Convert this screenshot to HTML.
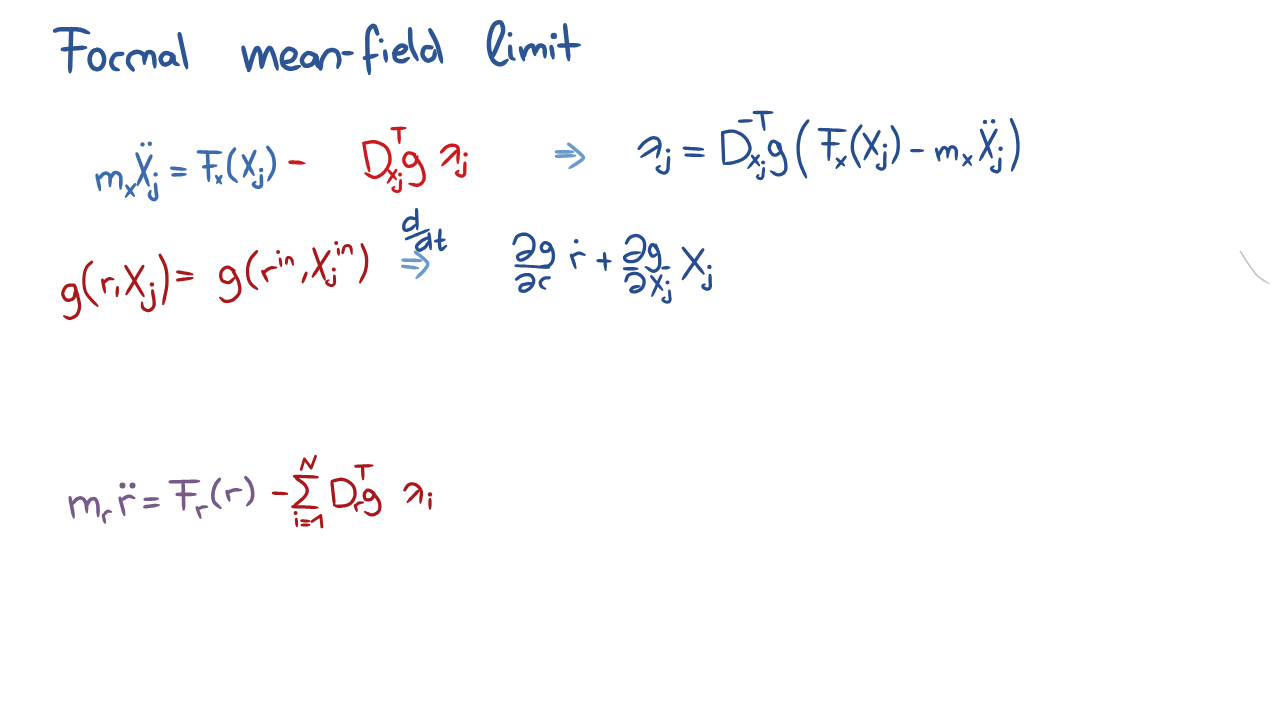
<!DOCTYPE html>
<html><head><meta charset="utf-8"><title>Formal mean-field limit</title>
<style>html,body{margin:0;padding:0;background:#fff;width:1280px;height:720px;overflow:hidden;font-family:"Liberation Sans",sans-serif;}
svg{position:absolute;left:0;top:0;display:block}</style></head>
<body><svg width="1280" height="720" viewBox="0 0 1280 720">
<g fill="#2d5593" stroke="none"><path d="M55.4,32.7 56.6,32.4 57.7,32.1 58.6,31.8 59.6,31.6 60.6,31.5 61.6,31.4 62.8,31.4 63.9,31.4 65.0,31.4 66.2,31.4 67.4,31.4 68.5,31.4 69.7,31.4 70.9,31.4 72.0,31.4 73.2,31.4 74.3,31.4 75.4,31.5 76.5,31.6 77.6,31.7 78.7,31.8 79.7,32.0 80.8,32.2 81.8,32.6 82.8,32.9 83.8,33.3 84.9,33.7 86.1,33.9 87.3,34.1 88.5,34.3 A1.35,1.35 0 0 0 89.5,31.7 L 88.5,31.1 87.5,30.4 86.6,29.7 85.5,29.2 84.4,28.7 83.2,28.3 81.9,27.9 80.7,27.6 79.4,27.4 78.2,27.2 76.9,27.1 75.7,27.0 74.5,26.9 73.3,26.9 72.1,26.9 70.9,26.9 69.7,26.9 68.5,26.9 67.4,26.9 66.2,26.9 65.0,26.9 63.8,26.9 62.6,26.9 61.4,26.9 60.1,27.0 58.8,27.2 57.5,27.5 56.2,27.9 55.1,28.5 54.1,29.1 A1.91,1.91 0 0 0 55.4,32.7 Z"/><path d="M69.3,28.7 69.1,29.9 68.9,31.1 68.9,32.2 68.9,33.4 68.8,34.6 68.8,35.8 68.8,37.0 68.7,38.1 68.7,39.3 68.7,40.5 68.6,41.7 68.6,42.9 68.6,44.1 68.5,45.2 68.5,46.4 68.5,47.6 68.4,48.8 68.4,50.0 68.4,51.2 68.3,52.3 68.3,53.5 68.3,54.7 68.2,55.9 68.2,57.1 68.2,58.2 68.1,59.4 68.1,60.6 68.1,61.8 68.0,63.0 68.0,64.2 68.0,65.3 67.9,66.5 67.9,67.7 68.0,68.9 68.2,70.1 68.4,71.3 68.7,72.5 A1.35,1.35 0 0 0 71.3,72.5 L 71.7,71.4 72.0,70.2 72.3,69.0 72.4,67.8 72.4,66.7 72.5,65.5 72.5,64.3 72.5,63.1 72.6,61.9 72.6,60.7 72.6,59.6 72.7,58.4 72.7,57.2 72.7,56.0 72.8,54.8 72.8,53.6 72.8,52.5 72.9,51.3 72.9,50.1 72.9,48.9 73.0,47.7 73.0,46.5 73.0,45.4 73.1,44.2 73.1,43.0 73.1,41.8 73.2,40.6 73.2,39.5 73.2,38.3 73.3,37.1 73.3,35.9 73.3,34.7 73.4,33.5 73.4,32.4 73.4,31.2 73.3,30.0 73.2,28.8 A1.91,1.91 0 0 0 69.3,28.7 Z"/><path d="M62.7,51.3 63.9,51.4 65.1,51.4 66.2,51.3 67.4,51.2 68.6,51.1 69.8,51.1 71.0,51.0 72.2,50.9 73.4,50.8 74.6,50.7 75.7,50.6 76.9,50.5 78.1,50.4 79.3,50.3 80.5,50.2 81.7,50.1 82.9,49.9 84.0,49.6 85.2,49.2 86.4,48.8 A1.35,1.35 0 0 0 86.1,46.2 L 84.9,46.0 83.7,45.8 82.5,45.6 81.3,45.6 80.1,45.7 78.9,45.8 77.8,45.9 76.6,46.0 75.4,46.1 74.2,46.2 73.0,46.3 71.8,46.4 70.6,46.5 69.4,46.6 68.3,46.7 67.1,46.8 65.9,46.9 64.7,46.9 63.5,47.2 62.3,47.5 A1.91,1.91 0 0 0 62.7,51.3 Z"/><path d="M96.4,47.9 95.2,48.0 93.8,48.2 92.3,48.9 91.0,50.0 90.0,51.2 89.2,52.5 88.6,53.7 88.1,55.1 87.7,56.5 87.5,57.8 87.4,59.3 87.4,60.7 87.6,62.1 87.9,63.4 88.4,64.8 89.0,66.1 89.7,67.4 90.6,68.6 91.7,69.7 93.1,70.6 94.6,71.1 96.2,71.5 97.9,71.4 99.5,71.0 101.0,70.4 102.3,69.4 103.4,68.3 104.3,67.0 105.0,65.8 105.5,64.5 105.9,63.1 106.2,61.7 106.3,60.3 106.4,58.9 106.2,57.5 106.0,56.1 105.6,54.7 105.0,53.4 104.4,52.1 103.6,50.9 102.5,49.8 101.2,48.8 99.8,48.1 98.2,47.6 96.4,47.6 94.8,48.3 93.7,49.0 92.7,49.8 A1.35,1.35 0 0 0 93.8,52.2 L 95.0,52.0 96.1,51.8 96.8,51.9 97.4,52.1 98.2,52.3 98.9,52.6 99.5,53.1 100.0,53.7 100.5,54.5 101.0,55.3 101.3,56.2 101.6,57.1 101.8,58.1 101.9,59.1 101.9,60.1 101.8,61.0 101.6,62.0 101.3,62.9 100.9,63.8 100.4,64.7 99.9,65.4 99.4,66.0 98.8,66.5 98.0,66.8 97.3,67.0 96.6,67.0 95.9,66.8 95.2,66.5 94.5,66.1 94.0,65.6 93.4,64.9 93.0,64.0 92.6,63.2 92.3,62.2 92.0,61.3 91.9,60.3 91.9,59.3 91.9,58.4 92.1,57.4 92.4,56.4 92.7,55.5 93.1,54.7 93.6,53.9 94.2,53.2 94.7,52.8 95.3,52.5 96.3,52.1 97.4,51.6 A1.91,1.91 0 0 0 96.4,47.9 Z"/><path d="M122.3,51.8 121.2,51.8 120.1,51.7 118.9,51.7 117.6,51.8 116.1,52.1 114.6,52.6 113.2,53.6 112.1,54.7 111.3,55.9 110.6,57.1 110.0,58.3 109.5,59.6 109.2,61.0 109.0,62.5 109.1,64.1 109.5,65.6 110.1,66.9 110.9,68.2 111.8,69.4 113.1,70.5 114.6,71.0 116.0,71.2 117.2,71.2 118.4,71.3 A1.35,1.35 0 0 0 119.1,68.7 L 118.1,68.1 117.0,67.6 116.1,67.0 115.5,66.7 115.1,66.2 114.6,65.6 114.1,64.9 113.8,64.1 113.6,63.3 113.5,62.6 113.6,61.8 113.8,60.9 114.2,60.0 114.6,59.1 115.0,58.3 115.6,57.6 116.1,57.0 116.6,56.7 117.2,56.4 118.1,56.3 119.1,56.2 120.3,56.2 121.5,56.0 122.7,55.7 A1.91,1.91 0 0 0 122.3,51.8 Z"/><path d="M134.7,68.9 134.1,67.8 133.4,66.7 132.7,65.8 131.9,64.9 131.3,64.1 130.8,63.3 130.5,62.6 130.3,61.8 130.3,61.0 130.3,60.0 130.5,59.1 130.8,58.2 131.1,57.4 131.5,56.7 132.0,56.1 132.7,55.6 133.5,55.2 134.4,54.8 135.3,54.5 136.2,54.2 137.1,54.1 137.9,54.2 138.7,54.3 139.6,54.6 140.4,55.0 141.1,55.5 141.7,56.0 142.0,56.5 142.1,57.1 142.2,58.0 142.2,59.0 142.3,60.1 142.5,61.3 142.7,62.6 143.0,63.8 A1.35,1.35 0 0 0 145.7,63.7 L 146.0,62.6 146.3,61.5 146.6,60.3 146.7,59.1 146.7,57.7 146.6,56.2 146.1,54.6 145.1,53.1 143.9,52.0 142.6,51.1 141.3,50.5 139.9,50.0 138.5,49.7 136.9,49.6 135.4,49.8 134.0,50.1 132.7,50.6 131.5,51.2 130.2,51.9 129.0,52.8 127.9,54.0 127.1,55.3 126.5,56.7 126.1,58.1 125.9,59.5 125.8,60.9 125.8,62.4 126.2,64.0 126.8,65.4 127.6,66.6 128.4,67.7 129.2,68.6 129.9,69.5 130.8,70.3 131.6,71.1 A1.91,1.91 0 0 0 134.7,68.9 Z"/><path d="M146.2,60.6 146.8,59.6 147.3,58.4 147.6,57.2 147.9,56.2 148.2,55.3 148.5,54.6 148.7,54.4 149.0,54.3 149.7,54.3 150.3,54.4 150.8,54.6 151.0,54.9 151.3,55.4 151.5,56.3 151.7,57.3 151.9,58.4 152.0,59.5 152.1,60.6 152.2,61.8 152.3,63.0 152.5,64.2 152.8,65.3 153.2,66.5 153.7,67.7 A1.35,1.35 0 0 0 156.3,67.3 L 156.4,66.1 156.6,65.0 156.7,63.8 156.7,62.6 156.7,61.5 156.6,60.3 156.5,59.1 156.3,57.8 156.2,56.6 155.9,55.3 155.5,53.8 154.7,52.3 153.3,50.9 151.6,50.1 150.0,49.8 148.2,49.9 146.3,50.6 144.9,52.0 144.1,53.5 143.6,54.8 143.3,56.0 143.0,57.1 142.8,58.2 142.6,59.4 A1.91,1.91 0 0 0 146.2,60.6 Z"/><path d="M173.6,53.2 172.6,52.7 171.7,52.2 170.6,51.8 169.4,51.4 168.1,51.0 166.5,50.7 164.7,50.9 163.0,51.6 161.8,52.6 160.7,53.6 159.9,54.8 159.1,56.1 158.5,57.6 158.4,59.4 158.7,61.1 159.3,62.5 160.0,63.8 161.0,65.0 162.4,66.2 164.4,66.8 166.1,66.7 167.6,66.3 168.9,65.8 170.2,65.1 171.6,64.1 172.6,62.7 173.3,61.4 173.7,60.1 174.0,58.9 174.4,57.8 174.6,56.9 173.2,57.3 171.3,56.5 171.3,57.3 171.3,58.5 171.4,59.7 171.6,61.1 172.0,62.6 172.9,64.3 174.4,65.4 175.8,65.8 177.0,66.0 178.2,66.2 A1.35,1.35 0 0 0 179.3,63.8 L 178.3,63.0 177.4,62.3 176.7,61.7 176.3,61.3 176.1,61.0 176.0,60.3 175.9,59.3 175.8,58.2 175.8,57.0 175.7,55.5 172.9,52.8 170.4,55.2 170.0,56.6 169.7,57.7 169.4,58.7 169.1,59.7 168.7,60.4 168.4,60.9 167.8,61.3 167.1,61.7 166.2,62.0 165.4,62.2 164.8,62.3 164.5,62.3 164.2,61.9 163.8,61.3 163.3,60.6 163.0,59.8 162.9,59.2 162.9,58.6 163.2,58.0 163.6,57.3 164.2,56.6 164.8,55.9 165.3,55.5 165.8,55.2 166.3,55.2 167.1,55.4 168.0,55.6 169.0,56.0 170.1,56.4 171.4,56.7 172.6,56.8 A1.91,1.91 0 0 0 173.6,53.2 Z"/><path d="M177.5,34.2 177.6,35.3 177.7,36.5 177.9,37.7 178.2,38.8 178.4,40.0 178.6,41.1 178.9,42.2 179.1,43.4 179.4,44.5 179.6,45.7 179.9,46.8 180.1,48.0 180.4,49.1 180.6,50.3 180.9,51.4 181.1,52.6 181.4,53.7 181.6,54.9 181.9,56.0 182.1,57.2 182.4,58.3 182.6,59.5 182.9,60.6 183.1,61.7 183.4,62.9 183.7,64.0 184.0,65.2 184.5,66.2 185.0,67.3 185.6,68.4 A1.35,1.35 0 0 0 188.2,67.8 L 188.2,66.6 188.2,65.4 188.2,64.2 188.0,63.1 187.8,61.9 187.5,60.8 187.3,59.6 187.0,58.5 186.8,57.3 186.5,56.2 186.3,55.0 186.0,53.9 185.8,52.8 185.5,51.6 185.3,50.5 185.0,49.3 184.8,48.2 184.5,47.0 184.3,45.9 184.0,44.7 183.8,43.6 183.5,42.5 183.3,41.3 183.0,40.2 182.8,39.0 182.6,37.9 182.3,36.7 182.1,35.6 181.7,34.5 181.2,33.3 A1.91,1.91 0 0 0 177.5,34.2 Z"/><path d="M241.3,48.0 241.4,49.1 241.5,50.3 241.8,51.5 242.1,52.6 242.3,53.7 242.6,54.9 242.9,56.0 243.2,57.1 243.5,58.3 243.8,59.4 244.0,60.6 244.3,61.7 244.6,62.8 244.9,64.0 245.2,65.1 245.4,66.2 245.8,67.4 246.4,68.4 246.9,69.5 247.4,70.6 A1.35,1.35 0 0 0 250.1,69.9 L 250.0,68.7 250.0,67.5 250.0,66.3 249.8,65.2 249.5,64.0 249.2,62.9 249.0,61.7 248.7,60.6 248.4,59.5 248.1,58.3 247.8,57.2 247.6,56.1 247.3,54.9 247.0,53.8 246.7,52.6 246.4,51.5 246.2,50.4 245.9,49.2 245.5,48.1 245.0,47.0 A1.91,1.91 0 0 0 241.3,48.0 Z"/><path d="M250.6,70.8 251.1,69.7 251.6,68.6 251.9,67.4 252.2,66.3 252.5,65.2 252.8,64.0 253.1,62.9 253.5,61.8 253.8,60.6 254.1,59.5 254.4,58.4 254.8,57.3 255.2,56.3 255.6,55.2 256.0,54.2 256.5,53.1 256.9,52.1 257.4,51.1 257.8,50.2 257.8,50.0 256.9,50.0 256.6,50.1 256.9,50.8 257.3,51.7 257.7,52.7 258.0,53.7 258.2,54.7 258.4,55.8 258.5,56.9 258.6,58.0 258.7,59.2 258.8,60.3 258.9,61.5 258.9,62.7 259.1,63.8 259.4,65.0 259.8,66.2 260.2,67.4 A1.35,1.35 0 0 0 262.8,67.1 L 263.0,65.9 263.2,64.8 263.4,63.6 263.4,62.4 263.4,61.2 263.3,60.0 263.2,58.8 263.1,57.6 263.0,56.4 262.9,55.2 262.7,53.9 262.4,52.6 262.0,51.3 261.5,50.1 261.0,48.9 260.3,47.5 258.5,45.8 255.4,46.2 254.0,47.8 253.3,49.1 252.8,50.2 252.3,51.3 251.9,52.4 251.4,53.6 250.9,54.7 250.5,55.9 250.2,57.1 249.8,58.2 249.5,59.4 249.1,60.5 248.8,61.7 248.5,62.8 248.2,64.0 247.9,65.1 247.6,66.2 247.2,67.4 247.1,68.5 246.9,69.7 A1.91,1.91 0 0 0 250.6,70.8 Z"/><path d="M263.3,67.8 263.9,66.7 264.3,65.6 264.7,64.5 265.0,63.3 265.3,62.2 265.6,61.1 266.0,59.9 266.3,58.8 266.6,57.7 267.0,56.7 267.4,55.6 267.8,54.6 268.2,53.6 268.7,52.6 269.2,51.6 269.8,50.7 270.2,50.1 269.9,50.0 269.1,49.9 269.2,50.3 269.6,51.1 270.1,52.1 270.5,53.2 270.9,54.3 271.3,55.4 271.7,56.4 272.0,57.5 272.4,58.6 272.7,59.7 273.0,60.8 273.3,61.9 273.6,63.1 273.8,64.2 274.1,65.3 274.5,66.5 275.1,67.6 275.6,68.7 276.2,69.7 A1.35,1.35 0 0 0 278.8,69.0 L 278.7,67.8 278.7,66.6 278.7,65.4 278.5,64.3 278.2,63.1 277.9,62.0 277.6,60.8 277.3,59.7 277.0,58.5 276.7,57.3 276.3,56.2 276.0,55.0 275.6,53.8 275.1,52.6 274.7,51.5 274.2,50.4 273.7,49.3 273.1,48.0 271.9,46.4 269.0,45.6 266.9,47.0 266.0,48.3 265.3,49.5 264.7,50.6 264.2,51.7 263.6,52.8 263.1,54.0 262.7,55.2 262.3,56.4 262.0,57.5 261.6,58.7 261.3,59.8 261.0,61.0 260.7,62.1 260.4,63.2 260.0,64.4 259.8,65.5 259.7,66.7 A1.91,1.91 0 0 0 263.3,67.8 Z"/><path d="M284.2,64.4 285.3,64.3 286.4,64.2 287.6,64.0 288.8,63.8 290.1,63.5 291.5,63.1 292.9,62.5 294.2,61.5 295.2,60.3 296.0,59.2 296.7,58.0 297.3,56.7 297.7,55.3 298.0,53.6 297.7,51.7 296.7,50.0 295.5,48.9 294.3,48.1 293.0,47.4 291.6,46.9 290.1,46.5 288.3,46.6 286.5,47.1 285.2,48.0 284.1,48.9 283.1,49.9 282.3,50.9 281.5,52.1 280.8,53.3 280.2,54.7 279.9,56.1 279.7,57.5 279.6,58.8 279.6,60.2 279.7,61.5 280.0,62.9 280.3,64.3 280.9,65.7 281.8,67.0 283.0,68.1 284.2,69.0 285.4,69.7 286.7,70.2 288.1,70.7 289.5,70.9 291.0,71.0 292.5,70.9 293.8,70.6 295.1,70.3 296.3,69.9 297.3,69.4 298.4,68.7 299.3,68.1 300.4,67.5 A1.35,1.35 0 0 0 299.6,65.0 L 298.4,65.0 297.1,65.2 295.9,65.3 294.8,65.6 293.7,66.0 292.7,66.2 291.8,66.5 290.9,66.5 290.1,66.5 289.2,66.3 288.3,66.0 287.4,65.6 286.6,65.2 285.9,64.7 285.3,64.2 284.9,63.6 284.6,62.8 284.4,61.9 284.2,61.0 284.1,59.9 284.1,58.9 284.2,57.9 284.3,57.0 284.5,56.1 284.8,55.3 285.3,54.5 285.8,53.7 286.5,52.9 287.2,52.2 287.9,51.6 288.5,51.2 289.0,51.0 289.5,51.0 290.3,51.2 291.1,51.5 292.0,52.0 292.7,52.5 293.3,52.9 293.5,53.2 293.5,53.6 293.4,54.2 293.1,55.1 292.7,55.9 292.2,56.8 291.7,57.6 291.2,58.2 290.6,58.6 289.9,58.9 289.0,59.2 288.0,59.4 286.8,59.6 285.7,59.8 284.5,60.2 283.3,60.6 A1.91,1.91 0 0 0 284.2,64.4 Z"/><path d="M316.9,53.8 315.9,53.3 314.9,52.7 313.8,52.3 312.7,51.8 311.5,51.3 310.1,50.9 308.4,50.7 306.6,51.1 305.0,51.9 303.8,52.8 302.8,53.8 301.9,54.8 301.1,56.0 300.4,57.2 299.8,58.7 299.6,60.5 299.9,62.2 300.4,63.7 301.2,65.0 302.2,66.2 303.6,67.4 305.4,68.0 307.1,68.1 308.6,67.9 310.0,67.5 311.3,67.0 312.6,66.4 313.9,65.5 315.1,64.2 315.8,62.9 316.4,61.6 316.8,60.5 317.2,59.3 317.5,58.3 316.8,58.5 314.5,57.9 314.5,58.3 314.6,59.4 314.6,60.6 314.7,61.9 314.8,63.1 315.0,64.6 315.5,66.1 316.5,67.4 317.6,68.3 318.7,69.0 319.6,69.7 A1.35,1.35 0 0 0 321.6,67.8 L 321.0,66.8 320.3,65.8 319.9,64.9 319.6,64.2 319.4,63.5 319.3,62.6 319.2,61.5 319.1,60.4 319.1,59.2 319.0,58.0 318.7,56.1 315.1,54.3 313.4,56.6 312.9,57.8 312.6,58.9 312.2,60.0 311.8,60.9 311.4,61.6 311.0,62.1 310.3,62.5 309.5,62.9 308.6,63.2 307.7,63.5 306.8,63.6 306.2,63.6 305.8,63.5 305.4,63.1 304.9,62.5 304.5,61.8 304.2,61.0 304.1,60.4 304.2,59.9 304.5,59.2 304.9,58.4 305.5,57.6 306.1,56.8 306.8,56.2 307.5,55.6 308.0,55.3 308.5,55.2 309.2,55.3 310.1,55.6 311.0,55.9 312.1,56.4 313.2,56.9 314.4,57.2 315.6,57.4 A1.91,1.91 0 0 0 316.9,53.8 Z"/><path d="M322.5,69.0 322.9,67.8 323.1,66.6 323.2,65.4 323.2,64.3 323.4,63.2 323.5,62.2 323.8,61.3 324.1,60.4 324.6,59.4 325.1,58.4 325.6,57.5 326.2,56.6 326.8,55.7 327.4,54.8 328.0,54.1 328.7,53.4 329.3,52.9 330.0,52.6 330.7,52.4 331.6,52.3 332.5,52.3 333.3,52.4 334.1,52.6 334.7,52.9 335.2,53.3 335.6,53.9 336.0,54.7 336.3,55.7 336.6,56.6 336.8,57.7 337.0,58.7 337.1,59.7 337.1,60.6 337.0,61.5 336.8,62.4 336.6,63.5 336.4,64.6 336.3,65.9 336.2,67.1 A1.35,1.35 0 0 0 338.8,67.9 L 339.4,66.9 340.0,65.9 340.6,64.8 341.1,63.6 341.4,62.3 341.6,60.8 341.6,59.4 341.4,58.1 341.2,56.8 340.9,55.5 340.6,54.2 340.1,53.0 339.5,51.7 338.5,50.3 337.2,49.2 335.7,48.4 334.3,48.0 332.8,47.8 331.4,47.8 329.9,47.9 328.4,48.4 326.9,49.1 325.7,50.0 324.7,51.0 323.8,52.0 323.1,53.1 322.4,54.2 321.7,55.3 321.1,56.4 320.5,57.5 320.0,58.6 319.5,59.9 319.1,61.2 318.9,62.6 318.8,63.9 318.7,65.1 318.6,66.3 318.7,67.4 318.7,68.5 A1.91,1.91 0 0 0 322.5,69.0 Z"/><path d="M343.1,55.0 344.3,55.2 345.5,55.4 346.6,55.4 347.8,55.4 349.0,55.4 350.2,55.2 351.3,54.9 352.5,54.5 A1.35,1.35 0 0 0 352.5,51.8 L 351.3,51.4 350.2,51.0 349.0,50.9 347.8,50.9 346.6,50.9 345.5,50.9 344.3,51.0 343.1,51.2 A1.91,1.91 0 0 0 343.1,55.0 Z"/><path d="M379.3,33.0 379.0,31.9 378.8,30.8 378.4,29.7 378.1,28.6 377.6,27.4 377.1,26.1 376.0,24.5 373.6,23.4 371.3,23.9 370.0,24.9 368.9,25.9 368.0,27.0 367.2,28.2 366.5,29.5 366.0,30.9 365.7,32.2 365.5,33.5 365.3,34.7 365.2,36.0 365.1,37.2 365.1,38.4 365.1,39.6 365.1,40.8 365.1,42.0 365.1,43.2 365.1,44.4 365.1,45.6 365.2,46.8 365.2,48.0 365.2,49.1 365.2,50.3 365.3,51.5 365.3,52.7 365.3,53.9 365.4,55.1 365.5,56.3 365.5,57.5 365.6,58.7 365.7,59.9 365.8,61.1 366.0,62.2 366.1,63.4 366.2,64.6 366.3,65.8 366.4,67.0 366.6,68.1 366.7,69.3 366.9,70.4 367.3,71.6 367.7,72.7 368.0,73.9 A1.35,1.35 0 0 0 370.7,73.6 L 370.9,72.4 371.0,71.2 371.2,70.0 371.2,68.8 371.0,67.7 370.9,66.5 370.8,65.3 370.7,64.1 370.6,63.0 370.4,61.8 370.3,60.6 370.2,59.5 370.1,58.3 370.0,57.2 369.9,56.0 369.9,54.9 369.8,53.7 369.8,52.6 369.8,51.4 369.7,50.2 369.7,49.0 369.7,47.9 369.6,46.7 369.6,45.5 369.6,44.3 369.6,43.2 369.6,42.0 369.6,40.9 369.6,39.7 369.6,38.6 369.6,37.4 369.7,36.3 369.8,35.2 369.9,34.1 370.1,33.1 370.4,32.1 370.7,31.3 371.1,30.5 371.6,29.7 372.2,29.0 372.8,28.4 373.3,28.0 373.3,27.8 372.9,27.8 373.1,28.1 373.4,29.0 373.8,30.0 374.2,31.1 374.5,32.3 375.1,33.4 375.7,34.5 A1.91,1.91 0 0 0 379.3,33.0 Z"/><path d="M364.8,60.0 366.0,59.9 367.1,59.8 368.2,59.5 369.3,59.3 370.4,59.0 371.5,58.8 372.6,58.5 373.6,58.2 374.7,57.8 375.7,57.3 376.8,56.8 377.8,56.3 A1.35,1.35 0 0 0 377.2,53.7 L 376.0,53.7 374.9,53.7 373.7,53.7 372.6,53.9 371.5,54.1 370.4,54.4 369.3,54.6 368.2,54.9 367.1,55.2 366.0,55.4 365.0,55.8 363.9,56.3 A1.91,1.91 0 0 0 364.8,60.0 Z"/><circle cx="381.2" cy="40.6" r="2.40"/><path d="M383.1,51.5 383.1,52.6 383.0,53.8 383.2,54.9 383.3,56.0 383.5,57.1 383.6,58.2 384.0,59.3 384.4,60.3 384.9,61.4 A1.35,1.35 0 0 0 387.6,61.1 L 387.8,59.9 388.0,58.8 388.1,57.6 387.9,56.5 387.8,55.4 387.6,54.3 387.5,53.2 387.2,52.1 386.9,51.0 A1.91,1.91 0 0 0 383.1,51.5 Z"/><path d="M394.0,55.7 395.1,55.7 396.2,55.8 397.4,55.7 398.7,55.7 400.0,55.6 401.4,55.3 402.9,54.8 404.3,54.0 405.5,53.0 406.5,52.0 407.4,50.8 408.2,49.2 408.3,46.6 406.7,44.7 405.1,44.0 403.6,43.5 402.0,43.3 400.2,43.6 398.6,44.3 397.4,45.1 396.3,45.9 395.3,46.9 394.4,48.0 393.5,49.2 392.8,50.6 392.4,52.1 392.2,53.5 392.2,55.0 392.3,56.4 392.5,57.8 393.0,59.3 394.0,60.9 395.4,62.1 396.9,62.8 398.3,63.2 399.7,63.4 401.1,63.5 402.6,63.5 404.2,63.2 405.6,62.6 406.8,61.8 407.7,60.9 408.5,60.1 409.4,59.3 A1.35,1.35 0 0 0 408.1,56.9 L 406.9,57.3 405.7,57.7 404.6,58.1 403.7,58.5 402.9,58.9 402.1,59.0 401.3,59.0 400.3,59.0 399.3,58.8 398.5,58.6 397.8,58.3 397.4,58.0 397.1,57.5 396.9,56.8 396.7,55.9 396.7,54.9 396.7,53.9 396.8,53.0 397.0,52.2 397.4,51.5 397.9,50.7 398.6,50.0 399.3,49.3 400.0,48.7 400.8,48.2 401.4,47.9 402.0,47.8 402.7,47.9 403.5,48.2 404.1,48.4 404.1,48.2 403.9,47.9 403.6,48.3 403.1,49.1 402.4,49.7 401.7,50.3 401.1,50.7 400.3,50.9 399.4,51.1 398.3,51.2 397.2,51.3 396.0,51.3 394.8,51.5 393.5,51.8 A1.91,1.91 0 0 0 394.0,55.7 Z"/><path d="M408.1,28.9 408.0,30.0 407.9,31.2 407.9,32.3 407.9,33.5 408.0,34.6 408.0,35.8 408.0,37.0 408.0,38.2 408.1,39.4 408.2,40.6 408.3,41.8 408.4,43.0 408.6,44.3 408.8,45.5 409.1,46.7 409.4,48.0 409.8,49.2 410.2,50.4 410.7,51.5 411.2,52.6 411.8,53.7 412.3,54.8 412.9,55.8 413.4,56.9 414.1,57.8 414.8,58.7 415.6,59.6 416.3,60.6 A1.35,1.35 0 0 0 418.7,59.4 L 418.5,58.2 418.2,57.0 417.8,55.9 417.4,54.8 416.8,53.7 416.3,52.7 415.8,51.7 415.3,50.7 414.8,49.7 414.4,48.7 414.0,47.7 413.7,46.7 413.4,45.6 413.2,44.6 413.0,43.6 412.8,42.5 412.7,41.4 412.6,40.3 412.6,39.1 412.5,38.0 412.5,36.9 412.5,35.7 412.5,34.5 412.4,33.4 412.4,32.2 412.4,31.0 412.2,29.8 411.9,28.6 A1.91,1.91 0 0 0 408.1,28.9 Z"/><path d="M432.0,45.6 430.9,45.3 429.8,45.0 428.6,44.9 427.2,44.8 425.4,44.9 423.6,45.7 422.3,47.1 421.5,48.5 420.9,49.8 420.5,51.2 420.3,52.6 420.2,54.1 420.4,55.8 421.0,57.3 421.7,58.6 422.6,59.7 423.6,60.8 424.7,61.8 426.3,62.6 428.2,62.9 430.0,62.6 431.4,62.1 432.7,61.4 433.9,60.5 435.0,59.5 436.0,58.1 436.6,56.5 436.9,55.0 436.9,53.7 436.7,52.5 436.5,51.3 436.3,50.2 A1.35,1.35 0 0 0 433.7,49.8 L 433.3,51.0 432.9,52.3 432.6,53.4 432.4,54.5 432.3,55.3 432.1,56.0 431.7,56.5 431.1,57.0 430.3,57.5 429.5,58.0 428.8,58.3 428.2,58.4 427.8,58.4 427.3,58.1 426.6,57.5 426.0,56.8 425.5,56.1 425.0,55.3 424.7,54.7 424.7,54.0 424.7,53.2 424.9,52.2 425.2,51.3 425.5,50.5 425.9,49.8 426.2,49.4 426.5,49.3 427.2,49.3 428.1,49.3 429.2,49.5 430.5,49.5 431.8,49.4 A1.91,1.91 0 0 0 432.0,45.6 Z"/><path d="M428.3,30.9 428.7,32.0 429.1,33.1 429.6,34.2 430.2,35.2 430.7,36.2 431.3,37.2 431.8,38.2 432.4,39.2 432.9,40.2 433.4,41.2 433.8,42.2 434.3,43.3 434.7,44.3 435.1,45.3 435.4,46.4 435.8,47.4 436.1,48.5 436.4,49.6 436.7,50.7 437.0,51.8 437.2,52.9 437.5,54.0 437.8,55.1 438.0,56.3 438.3,57.4 438.6,58.5 439.0,59.6 439.5,60.7 440.0,61.8 440.6,62.8 A1.35,1.35 0 0 0 443.2,62.2 L 443.1,61.0 443.1,59.8 443.1,58.6 442.9,57.5 442.7,56.4 442.4,55.2 442.2,54.1 441.9,53.0 441.6,51.8 441.3,50.7 441.0,49.5 440.7,48.4 440.4,47.2 440.0,46.1 439.7,44.9 439.3,43.8 438.9,42.7 438.4,41.5 437.9,40.4 437.4,39.3 436.9,38.2 436.4,37.2 435.8,36.1 435.3,35.1 434.7,34.0 434.1,33.0 433.6,32.0 433.1,31.0 432.4,30.1 431.7,29.1 A1.91,1.91 0 0 0 428.3,30.9 Z"/><path d="M494.9,56.4 495.5,55.4 496.1,54.3 496.6,53.3 497.1,52.2 497.6,51.1 498.1,50.0 498.5,48.9 499.0,47.8 499.5,46.7 499.9,45.6 500.4,44.4 500.8,43.3 501.3,42.3 501.7,41.2 502.2,40.1 502.7,39.0 503.2,37.9 503.7,36.8 504.1,35.6 504.6,34.4 504.9,33.1 505.2,31.8 505.4,30.3 505.3,28.9 505.2,27.5 505.0,26.2 504.6,24.9 504.1,23.5 503.3,22.0 501.8,20.6 499.8,20.0 498.0,20.0 496.5,20.4 495.1,21.0 493.7,21.9 492.6,23.0 491.7,24.2 491.0,25.4 490.4,26.6 489.9,27.8 489.4,29.0 489.0,30.2 488.6,31.4 488.3,32.6 488.0,33.8 487.7,35.0 487.4,36.2 487.2,37.5 487.1,38.7 486.9,40.0 486.8,41.2 486.8,42.5 486.7,43.7 486.7,45.0 486.7,46.2 486.8,47.5 486.9,48.7 487.1,50.0 487.3,51.3 487.6,52.5 487.9,53.7 488.2,54.9 488.6,56.2 489.0,57.4 489.5,58.6 490.1,59.8 490.7,61.0 491.6,62.2 492.6,63.3 493.7,64.2 494.9,65.0 496.2,65.7 497.5,66.2 499.0,66.5 500.7,66.6 502.4,66.3 503.9,65.5 505.1,64.7 506.0,63.9 506.8,62.9 507.5,62.0 508.3,61.1 A1.35,1.35 0 0 0 506.7,58.9 L 505.6,59.4 504.4,60.0 503.3,60.5 502.4,61.1 501.6,61.7 501.0,62.0 500.4,62.1 499.7,62.1 498.9,61.9 498.0,61.6 497.2,61.1 496.4,60.6 495.7,60.0 495.1,59.3 494.5,58.6 494.0,57.7 493.6,56.8 493.2,55.8 492.8,54.8 492.5,53.7 492.2,52.6 492.0,51.5 491.7,50.4 491.5,49.3 491.4,48.2 491.3,47.1 491.2,46.0 491.2,44.9 491.2,43.8 491.2,42.7 491.3,41.5 491.4,40.4 491.5,39.3 491.7,38.2 491.9,37.1 492.1,36.0 492.3,34.9 492.6,33.8 492.9,32.7 493.3,31.6 493.6,30.5 494.0,29.5 494.5,28.5 494.9,27.6 495.4,26.7 496.0,26.0 496.5,25.4 497.2,25.0 497.9,24.7 498.7,24.5 499.3,24.4 499.5,24.5 499.7,24.7 500.0,25.3 500.3,26.2 500.6,27.2 500.7,28.2 500.9,29.2 500.9,30.1 500.8,31.1 500.6,32.0 500.3,33.0 499.9,34.0 499.5,35.1 499.1,36.1 498.6,37.2 498.1,38.3 497.6,39.4 497.1,40.5 496.7,41.7 496.2,42.8 495.8,43.9 495.3,44.9 494.9,46.0 494.4,47.1 493.9,48.2 493.5,49.3 493.0,50.4 492.5,51.4 492.0,52.5 491.7,53.7 491.4,54.9 A1.91,1.91 0 0 0 494.9,56.4 Z"/><path d="M508.1,46.4 508.0,47.6 507.9,48.7 507.9,49.8 508.0,51.0 508.0,52.1 508.1,53.4 508.2,54.6 508.4,55.9 508.7,57.4 509.7,59.0 511.3,60.0 512.7,60.4 513.8,60.6 A1.35,1.35 0 0 0 514.9,58.1 L 514.0,57.4 513.2,56.8 513.1,56.4 513.0,55.9 512.8,55.1 512.7,54.1 512.6,53.1 512.5,52.0 512.5,50.8 512.4,49.7 512.4,48.5 512.2,47.3 511.9,46.1 A1.91,1.91 0 0 0 508.1,46.4 Z"/><circle cx="510.0" cy="34.4" r="2.40"/><path d="M518.8,48.6 518.9,49.7 519.0,50.9 519.3,51.9 519.6,53.0 519.9,54.1 520.2,55.2 520.4,56.3 520.8,57.3 521.3,58.3 521.9,59.3 522.4,60.3 A1.35,1.35 0 0 0 525.1,59.7 L 525.0,58.5 525.0,57.4 525.0,56.2 524.8,55.1 524.5,54.0 524.2,53.0 523.9,51.9 523.7,50.8 523.4,49.7 522.9,48.7 522.5,47.6 A1.91,1.91 0 0 0 518.8,48.6 Z"/><path d="M524.9,58.2 525.5,57.2 526.1,56.1 526.5,55.0 526.8,53.9 527.2,52.8 527.6,51.8 528.0,50.9 528.4,50.1 528.8,49.4 529.3,48.9 530.0,48.4 530.7,48.0 531.4,47.8 531.5,47.7 531.3,47.6 531.4,47.9 531.6,48.7 531.8,49.7 532.0,50.8 532.3,51.9 532.7,53.0 533.2,54.2 533.7,55.3 A1.35,1.35 0 0 0 536.3,54.7 L 536.3,53.6 536.4,52.4 536.5,51.3 536.4,50.1 536.2,48.9 536.0,47.7 535.6,46.3 534.7,44.6 532.6,43.3 530.5,43.3 528.9,43.9 527.6,44.6 526.4,45.4 525.3,46.5 524.5,47.8 523.9,49.0 523.4,50.2 522.9,51.3 522.6,52.4 522.2,53.5 521.8,54.6 521.6,55.7 521.4,56.8 A1.91,1.91 0 0 0 524.9,58.2 Z"/><path d="M536.7,53.5 537.5,52.5 538.1,51.4 538.7,50.3 539.2,49.3 539.7,48.5 540.1,47.9 540.3,47.7 540.6,47.7 541.1,47.8 541.7,48.1 542.0,48.3 542.2,48.8 542.4,49.5 542.5,50.5 542.5,51.6 542.6,52.8 542.7,54.0 543.0,55.2 543.3,56.4 543.7,57.6 A1.35,1.35 0 0 0 546.3,57.4 L 546.5,56.2 546.7,55.1 547.0,53.9 547.1,52.7 547.0,51.4 547.0,50.2 546.8,48.8 546.4,47.2 545.6,45.6 544.1,44.3 542.5,43.5 540.7,43.2 538.7,43.5 536.9,44.6 535.9,46.0 535.2,47.2 534.6,48.3 534.1,49.4 533.7,50.5 533.3,51.5 A1.91,1.91 0 0 0 536.7,53.5 Z"/><circle cx="553.8" cy="35.9" r="3.20"/><path d="M549.4,46.5 549.3,47.7 549.4,48.8 549.5,49.8 549.7,50.9 549.9,52.0 550.1,53.1 550.2,54.2 550.5,55.2 550.9,56.3 551.4,57.3 551.8,58.3 A1.35,1.35 0 0 0 554.5,57.9 L 554.6,56.8 554.7,55.7 554.8,54.5 554.7,53.5 554.5,52.4 554.3,51.3 554.2,50.2 554.0,49.1 553.8,48.1 553.5,47.0 553.1,46.0 A1.91,1.91 0 0 0 549.4,46.5 Z"/><path d="M563.1,25.2 563.0,26.4 563.0,27.6 563.1,28.7 563.3,29.9 563.4,31.1 563.5,32.2 563.6,33.4 563.8,34.6 563.9,35.7 564.0,36.9 564.1,38.1 564.3,39.2 564.4,40.4 564.5,41.6 564.6,42.7 564.8,43.9 564.9,45.1 565.0,46.2 565.1,47.4 565.3,48.6 565.4,49.7 565.5,50.9 565.6,52.1 565.8,53.2 565.9,54.4 566.0,55.6 566.2,56.7 566.6,57.9 567.0,59.0 567.4,60.1 A1.35,1.35 0 0 0 570.1,59.9 L 570.2,58.7 570.4,57.5 570.5,56.3 570.5,55.1 570.4,53.9 570.2,52.8 570.1,51.6 570.0,50.4 569.9,49.3 569.7,48.1 569.6,46.9 569.5,45.8 569.4,44.6 569.2,43.4 569.1,42.3 569.0,41.1 568.9,39.9 568.7,38.8 568.6,37.6 568.5,36.4 568.4,35.3 568.2,34.1 568.1,32.9 568.0,31.8 567.9,30.6 567.7,29.4 567.6,28.3 567.5,27.1 567.2,25.9 566.9,24.8 A1.91,1.91 0 0 0 563.1,25.2 Z"/><path d="M558.8,47.5 560.0,47.7 561.2,47.8 562.4,47.8 563.5,47.7 564.7,47.7 565.9,47.7 567.1,47.6 568.3,47.6 569.4,47.6 570.6,47.5 571.8,47.5 573.0,47.5 574.2,47.4 575.3,47.4 576.5,47.3 577.7,47.0 578.9,46.6 580.0,46.3 A1.35,1.35 0 0 0 580.0,43.7 L 578.8,43.4 577.6,43.2 576.4,43.0 575.2,42.9 574.0,42.9 572.9,43.0 571.7,43.0 570.5,43.0 569.3,43.1 568.1,43.1 566.9,43.1 565.8,43.2 564.6,43.2 563.4,43.2 562.2,43.3 561.0,43.3 559.9,43.5 558.7,43.7 A1.91,1.91 0 0 0 558.8,47.5 Z"/></g>
<g fill="#3d6cad" stroke="none"><path d="M95.4,175.3 95.5,176.5 95.6,177.7 95.8,178.8 96.1,180.0 96.3,181.1 96.6,182.3 96.8,183.4 97.0,184.6 97.3,185.8 97.6,186.9 98.0,188.0 98.5,189.1 98.9,190.2 A1.08,1.08 0 0 0 101.1,189.8 L 101.0,188.6 101.0,187.4 101.0,186.2 100.8,185.0 100.6,183.9 100.3,182.7 100.1,181.6 99.8,180.4 99.6,179.2 99.4,178.1 99.1,176.9 98.8,175.8 98.4,174.7 A1.53,1.53 0 0 0 95.4,175.3 Z"/><path d="M99.8,179.8 100.8,179.1 101.7,178.3 102.5,177.4 103.3,176.5 104.0,175.8 104.7,175.2 105.3,174.9 105.8,174.9 106.5,175.1 107.2,175.4 107.7,175.8 108.1,176.3 108.2,177.1 108.3,178.1 108.4,179.2 108.3,180.3 108.3,181.4 108.3,182.6 108.5,183.8 108.7,185.1 108.9,186.3 A1.08,1.08 0 0 0 111.1,186.2 L 111.3,185.1 111.5,183.9 111.8,182.8 111.9,181.6 111.9,180.4 112.0,179.1 111.9,177.8 111.8,176.5 111.4,174.9 110.4,173.5 109.2,172.4 107.7,171.7 106.1,171.3 104.3,171.4 102.8,172.2 101.6,173.1 100.7,174.0 99.8,175.0 99.1,175.8 98.4,176.7 97.7,177.7 A1.53,1.53 0 0 0 99.8,179.8 Z"/><path d="M111.2,179.6 112.1,178.8 112.8,177.8 113.4,176.8 114.0,175.9 114.6,175.0 115.1,174.5 115.5,174.2 115.9,174.3 116.6,174.5 117.3,174.9 118.0,175.4 118.5,175.9 118.8,176.6 118.9,177.4 119.0,178.4 119.1,179.5 119.1,180.6 119.0,181.7 119.0,182.9 118.9,184.0 119.0,185.2 119.1,186.4 119.3,187.6 119.5,188.8 A1.08,1.08 0 0 0 121.7,188.7 L 121.9,187.6 122.1,186.5 122.4,185.3 122.5,184.2 122.6,183.0 122.6,181.9 122.7,180.7 122.7,179.4 122.6,178.2 122.5,176.8 122.2,175.4 121.5,174.0 120.5,172.8 119.3,171.8 117.9,171.2 116.4,170.7 114.6,170.8 112.9,171.6 111.8,172.8 111.0,173.8 110.4,174.9 109.8,175.9 109.3,176.9 108.8,177.9 A1.53,1.53 0 0 0 111.2,179.6 Z"/><path d="M133.9,183.6 133.1,184.4 132.4,185.2 131.7,186.1 131.0,187.0 130.4,187.9 129.7,188.8 129.0,189.7 128.4,190.6 127.7,191.5 127.0,192.3 126.4,193.3 125.9,194.3 125.4,195.3 124.9,196.3 A0.96,0.96 0 0 0 126.4,197.5 L 127.2,196.7 128.0,195.9 128.8,195.1 129.6,194.3 130.3,193.4 130.9,192.5 131.6,191.6 132.3,190.7 132.9,189.8 133.6,188.9 134.3,188.0 134.9,187.1 135.5,186.2 136.1,185.2 A1.36,1.36 0 0 0 133.9,183.6 Z"/><path d="M125.3,186.6 125.9,187.6 126.5,188.6 127.2,189.6 128.0,190.5 128.7,191.5 129.4,192.4 130.1,193.4 130.9,194.3 131.7,195.1 132.6,196.0 133.5,196.8 A0.96,0.96 0 0 0 135.0,195.7 L 134.5,194.6 133.9,193.5 133.3,192.5 132.7,191.5 132.0,190.5 131.2,189.6 130.5,188.6 129.8,187.7 129.1,186.7 128.3,185.8 127.5,184.9 A1.36,1.36 0 0 0 125.3,186.6 Z"/><path d="M135.4,154.3 135.7,155.4 136.0,156.6 136.4,157.7 136.8,158.8 137.2,159.9 137.6,161.0 138.1,162.1 138.5,163.2 138.9,164.3 139.3,165.4 139.7,166.5 140.1,167.6 140.5,168.7 140.9,169.8 141.3,170.9 141.7,172.0 142.1,173.1 142.6,174.2 143.0,175.3 143.4,176.4 143.8,177.5 144.2,178.6 144.6,179.7 145.0,180.8 145.4,181.9 145.9,182.9 146.5,184.0 147.1,185.0 147.7,186.0 A1.08,1.08 0 0 0 149.8,185.2 L 149.6,184.1 149.3,182.9 149.1,181.7 148.8,180.6 148.4,179.5 148.0,178.4 147.6,177.3 147.2,176.2 146.8,175.1 146.3,174.0 145.9,172.9 145.5,171.8 145.1,170.7 144.7,169.6 144.3,168.5 143.9,167.4 143.5,166.3 143.1,165.2 142.7,164.1 142.2,163.0 141.8,161.9 141.4,160.8 141.0,159.7 140.6,158.6 140.2,157.5 139.8,156.4 139.4,155.3 138.9,154.3 138.3,153.2 A1.53,1.53 0 0 0 135.4,154.3 Z"/><path d="M149.9,155.0 149.2,156.0 148.6,157.0 148.1,158.0 147.7,159.1 147.2,160.1 146.7,161.2 146.2,162.2 145.7,163.3 145.2,164.3 144.7,165.4 144.2,166.4 143.7,167.5 143.2,168.5 142.7,169.5 142.3,170.6 141.8,171.6 141.3,172.7 140.8,173.7 140.3,174.8 139.8,175.8 139.3,176.9 138.8,177.9 138.3,179.0 137.8,180.0 137.4,181.1 137.1,182.3 136.8,183.4 136.5,184.5 A1.08,1.08 0 0 0 138.5,185.5 L 139.2,184.5 139.8,183.5 140.5,182.6 141.1,181.6 141.6,180.5 142.1,179.5 142.6,178.4 143.1,177.4 143.5,176.3 144.0,175.3 144.5,174.2 145.0,173.2 145.5,172.1 146.0,171.1 146.5,170.0 147.0,169.0 147.5,167.9 148.0,166.9 148.5,165.8 149.0,164.8 149.4,163.7 149.9,162.7 150.4,161.6 150.9,160.6 151.4,159.5 151.9,158.5 152.3,157.4 152.6,156.3 A1.53,1.53 0 0 0 149.9,155.0 Z"/><circle cx="142.5" cy="144.4" r="2.20"/><circle cx="149.8" cy="143.8" r="2.20"/><circle cx="155.6" cy="174.4" r="2.20"/><path d="M153.9,183.9 153.8,185.0 153.8,186.2 153.9,187.4 154.0,188.5 154.1,189.7 154.2,190.9 154.3,192.1 154.5,193.3 154.7,194.4 154.8,195.5 154.9,196.3 154.8,197.0 154.5,197.5 154.1,197.9 154.0,198.0 153.6,197.8 153.0,197.4 152.3,196.8 151.8,196.1 151.4,195.4 151.2,194.8 151.1,194.2 151.2,193.3 151.4,192.2 151.6,191.0 A1.08,1.08 0 0 0 149.6,190.3 L 149.0,191.3 148.4,192.3 147.8,193.6 147.6,195.3 148.1,196.9 148.8,198.2 149.7,199.3 150.8,200.3 152.2,201.1 154.0,201.6 156.0,201.0 157.3,199.7 158.2,198.2 158.5,196.6 158.4,195.1 158.2,193.9 158.0,192.7 157.8,191.6 157.7,190.5 157.7,189.4 157.6,188.2 157.5,187.1 157.4,185.9 157.2,184.8 156.9,183.6 A1.53,1.53 0 0 0 153.9,183.9 Z"/><path d="M171.1,169.6 172.2,169.9 173.3,170.1 174.4,170.2 175.5,170.3 176.6,170.4 177.7,170.5 178.8,170.6 179.9,170.7 181.0,170.8 182.2,170.8 183.3,170.7 184.4,170.6 185.5,170.5 A1.08,1.08 0 0 0 185.7,168.3 L 184.6,168.0 183.5,167.7 182.5,167.4 181.4,167.2 180.3,167.1 179.1,167.0 178.0,166.9 176.9,166.8 175.8,166.7 174.7,166.6 173.6,166.5 172.5,166.5 171.4,166.6 A1.53,1.53 0 0 0 171.1,169.6 Z"/><path d="M172.6,176.5 173.8,176.6 175.0,176.7 176.2,176.6 177.4,176.6 178.6,176.5 179.7,176.5 180.9,176.4 182.1,176.3 183.3,176.0 184.5,175.7 185.7,175.5 A1.08,1.08 0 0 0 185.6,173.3 L 184.4,173.1 183.2,173.0 182.0,172.8 180.8,172.8 179.6,172.9 178.4,172.9 177.2,173.0 176.0,173.0 174.8,173.1 173.6,173.3 172.4,173.5 A1.53,1.53 0 0 0 172.6,176.5 Z"/><path d="M198.1,153.4 199.2,153.6 200.4,153.7 201.5,153.8 202.7,153.8 203.9,153.8 205.0,153.9 206.2,153.9 207.3,153.9 208.5,154.0 209.6,154.0 210.8,154.0 212.0,154.0 213.1,154.1 214.3,154.1 215.4,154.1 216.6,154.2 217.7,154.1 218.9,153.9 220.1,153.8 221.2,153.6 A1.08,1.08 0 0 0 221.3,151.4 L 220.1,151.2 219.0,150.9 217.8,150.7 216.7,150.6 215.5,150.5 214.4,150.5 213.2,150.5 212.0,150.5 210.9,150.4 209.7,150.4 208.6,150.4 207.4,150.3 206.3,150.3 205.1,150.3 204.0,150.2 202.8,150.2 201.6,150.2 200.5,150.1 199.3,150.2 198.2,150.3 A1.53,1.53 0 0 0 198.1,153.4 Z"/><path d="M206.0,152.6 205.9,153.8 205.8,155.0 205.9,156.2 205.9,157.4 206.0,158.6 206.0,159.8 206.1,161.0 206.1,162.2 206.2,163.4 206.2,164.6 206.3,165.8 206.3,167.0 206.4,168.2 206.4,169.3 206.5,170.5 206.5,171.7 206.6,172.9 206.6,174.1 206.7,175.3 206.7,176.5 206.9,177.7 207.1,178.9 207.4,180.1 207.7,181.3 A1.08,1.08 0 0 0 209.8,181.2 L 210.0,180.0 210.2,178.8 210.3,177.6 210.3,176.4 210.3,175.2 210.2,174.0 210.2,172.8 210.1,171.6 210.1,170.4 210.0,169.2 210.0,168.0 209.9,166.8 209.9,165.6 209.8,164.4 209.8,163.2 209.7,162.0 209.7,160.8 209.6,159.6 209.6,158.4 209.5,157.2 209.5,156.0 209.4,154.8 209.2,153.6 209.0,152.4 A1.53,1.53 0 0 0 206.0,152.6 Z"/><path d="M203.3,168.4 204.5,168.4 205.7,168.4 206.9,168.3 208.1,168.2 209.3,168.1 210.5,168.0 211.6,167.9 212.8,167.7 214.0,167.4 215.2,167.0 216.4,166.7 A1.08,1.08 0 0 0 216.1,164.5 L 214.9,164.4 213.7,164.3 212.5,164.2 211.3,164.3 210.1,164.4 208.9,164.5 207.7,164.6 206.5,164.7 205.3,164.9 204.2,165.1 203.0,165.4 A1.53,1.53 0 0 0 203.3,168.4 Z"/><path d="M215.1,177.0 215.6,178.0 216.2,179.0 216.8,180.0 217.4,180.9 218.0,181.8 218.8,182.7 219.6,183.5 220.5,184.3 A0.96,0.96 0 0 0 222.0,183.2 L 221.6,182.1 221.2,181.0 220.7,180.0 220.1,179.1 219.5,178.2 218.8,177.2 218.1,176.3 217.4,175.5 A1.36,1.36 0 0 0 215.1,177.0 Z"/><path d="M220.1,175.5 219.3,176.4 218.7,177.4 218.0,178.3 217.4,179.3 216.8,180.3 216.4,181.5 216.1,182.6 A0.96,0.96 0 0 0 217.7,183.6 L 218.6,182.8 219.4,182.0 220.1,181.0 220.7,180.1 221.3,179.1 221.9,178.1 222.4,177.0 A1.36,1.36 0 0 0 220.1,175.5 Z"/><path d="M233.8,147.6 233.0,148.5 232.2,149.3 231.4,150.2 230.7,151.3 229.9,152.4 229.3,153.5 228.8,154.8 228.4,156.1 228.1,157.3 227.8,158.5 227.6,159.8 227.5,161.0 227.3,162.2 227.3,163.5 227.2,164.7 227.2,165.9 227.1,167.1 227.1,168.3 227.1,169.6 227.2,170.8 227.3,172.1 227.6,173.5 228.0,174.8 228.5,176.1 229.3,177.3 230.2,178.4 231.2,179.3 232.1,180.2 233.1,180.9 234.1,181.5 235.1,182.0 236.1,182.7 A1.08,1.08 0 0 0 237.6,181.1 L 236.9,180.1 236.1,179.1 235.3,178.2 234.4,177.4 233.6,176.7 232.9,176.0 232.2,175.2 231.7,174.4 231.4,173.6 231.1,172.6 230.9,171.6 230.8,170.5 230.7,169.4 230.7,168.3 230.7,167.2 230.8,166.0 230.8,164.8 230.9,163.7 230.9,162.5 231.0,161.4 231.2,160.3 231.4,159.2 231.6,158.1 231.8,157.0 232.2,156.0 232.5,155.1 233.0,154.2 233.6,153.3 234.3,152.4 235.0,151.5 235.7,150.5 236.2,149.4 A1.53,1.53 0 0 0 233.8,147.6 Z"/><path d="M241.8,156.4 242.2,157.5 242.7,158.5 243.2,159.5 243.8,160.6 244.3,161.6 244.9,162.6 245.5,163.6 246.0,164.6 246.6,165.7 247.1,166.7 247.7,167.7 248.3,168.7 248.8,169.7 249.4,170.8 249.9,171.8 250.6,172.8 251.3,173.7 252.1,174.6 252.8,175.5 A1.08,1.08 0 0 0 254.7,174.5 L 254.3,173.4 253.9,172.2 253.6,171.1 253.1,170.1 252.5,169.0 252.0,168.0 251.4,167.0 250.9,166.0 250.3,165.0 249.7,163.9 249.2,162.9 248.6,161.9 248.1,160.9 247.5,159.9 246.9,158.8 246.4,157.8 245.8,156.8 245.2,155.8 244.5,154.9 A1.53,1.53 0 0 0 241.8,156.4 Z"/><path d="M253.6,150.6 253.0,151.6 252.4,152.7 251.9,153.7 251.5,154.8 251.0,155.9 250.5,156.9 250.1,158.0 249.6,159.1 249.1,160.1 248.7,161.2 248.2,162.3 247.7,163.3 247.3,164.4 246.8,165.5 246.3,166.5 245.9,167.6 245.4,168.7 244.9,169.7 244.4,170.8 244.0,171.9 243.6,173.0 243.3,174.1 243.0,175.3 242.8,176.4 A1.08,1.08 0 0 0 244.7,177.3 L 245.4,176.3 246.1,175.3 246.7,174.4 247.3,173.3 247.7,172.3 248.2,171.2 248.7,170.1 249.1,169.1 249.6,168.0 250.1,166.9 250.6,165.9 251.0,164.8 251.5,163.7 252.0,162.7 252.4,161.6 252.9,160.5 253.4,159.4 253.8,158.4 254.3,157.3 254.8,156.2 255.2,155.2 255.7,154.1 256.1,153.0 256.4,151.9 A1.53,1.53 0 0 0 253.6,150.6 Z"/><circle cx="261.2" cy="170.0" r="2.20"/><path d="M259.7,175.7 259.6,176.8 259.5,178.0 259.6,179.2 259.6,180.3 259.6,181.6 259.7,182.8 259.7,183.8 259.7,184.5 259.5,185.0 259.1,185.4 258.7,185.6 258.2,185.6 257.4,185.4 256.5,185.0 255.8,184.6 255.2,184.1 254.9,184.0 254.7,184.2 255.2,183.7 256.1,182.9 A1.08,1.08 0 0 0 254.9,181.1 L 253.8,181.5 252.4,182.3 251.5,184.6 252.5,186.4 253.7,187.5 254.9,188.2 256.2,188.8 257.7,189.1 259.5,189.1 261.2,188.3 262.5,187.1 263.2,185.4 263.3,183.8 263.3,182.5 263.2,181.4 263.2,180.3 263.2,179.1 263.1,177.9 263.0,176.7 262.8,175.6 A1.53,1.53 0 0 0 259.7,175.7 Z"/><path d="M266.2,147.7 266.7,148.8 267.3,149.9 268.0,150.9 268.7,151.8 269.4,152.8 270.0,153.7 270.5,154.6 271.0,155.6 271.3,156.5 271.6,157.6 271.9,158.6 272.1,159.7 272.2,160.8 272.3,161.9 272.4,163.0 272.4,164.1 272.4,165.3 272.3,166.4 272.1,167.4 272.0,168.5 271.7,169.5 271.4,170.5 270.9,171.5 270.5,172.5 269.9,173.5 269.4,174.5 268.8,175.6 268.3,176.6 267.9,177.8 267.5,179.0 267.2,180.1 A1.08,1.08 0 0 0 269.1,181.1 L 269.8,180.2 270.5,179.2 271.3,178.3 271.9,177.3 272.5,176.3 273.1,175.2 273.7,174.1 274.2,173.0 274.7,171.8 275.2,170.5 275.5,169.3 275.7,168.0 275.9,166.7 276.0,165.4 276.0,164.2 276.0,162.9 275.9,161.7 275.8,160.4 275.6,159.1 275.4,157.9 275.1,156.7 274.7,155.4 274.3,154.1 273.7,153.0 273.0,151.8 272.4,150.8 271.7,149.8 271.0,148.8 270.3,147.8 269.5,146.9 268.8,146.1 A1.53,1.53 0 0 0 266.2,147.7 Z"/></g>
<g fill="#cc1a1e" stroke="none"><path d="M289.9,163.9 291.1,164.1 292.2,164.2 293.4,164.2 294.5,164.3 295.7,164.3 296.8,164.4 297.9,164.5 299.0,164.6 300.2,164.7 301.3,164.6 302.5,164.4 303.7,164.2 304.9,164.0 A0.58,0.58 0 0 0 305.1,162.8 L 304.0,162.3 302.9,161.8 301.8,161.3 300.6,160.9 299.5,160.7 298.3,160.6 297.1,160.5 295.9,160.4 294.7,160.4 293.6,160.3 292.4,160.3 291.2,160.2 290.1,160.4 A1.75,1.75 0 0 0 289.9,163.9 Z"/><path d="M362.3,143.4 362.4,144.6 362.5,145.8 362.7,146.9 362.9,148.1 363.1,149.3 363.3,150.5 363.5,151.7 363.7,152.8 363.9,154.0 364.1,155.2 364.3,156.4 364.5,157.6 364.8,158.8 365.0,160.0 365.3,161.1 365.5,162.3 365.8,163.5 366.1,164.7 366.4,165.8 366.6,167.0 367.0,168.1 367.4,169.2 367.9,170.4 368.4,171.5 A1.02,1.02 0 0 0 370.4,171.0 L 370.3,169.8 370.2,168.6 370.1,167.4 369.9,166.2 369.7,165.0 369.4,163.9 369.1,162.7 368.9,161.6 368.6,160.4 368.3,159.2 368.1,158.1 367.9,156.9 367.6,155.8 367.4,154.6 367.2,153.4 367.0,152.3 366.8,151.1 366.6,149.9 366.4,148.7 366.2,147.6 366.0,146.4 365.8,145.2 365.5,144.0 365.2,142.9 A1.44,1.44 0 0 0 362.3,143.4 Z"/><path d="M363.9,144.6 365.2,144.5 366.4,144.4 367.6,144.2 368.8,143.9 369.9,143.7 371.0,143.6 372.1,143.4 373.2,143.4 374.2,143.5 375.3,143.7 376.3,143.9 377.4,144.2 378.5,144.6 379.5,145.0 380.5,145.4 381.5,145.9 382.4,146.5 383.3,147.1 384.1,147.7 384.8,148.5 385.5,149.3 386.0,150.1 386.5,151.1 386.9,152.1 387.3,153.1 387.6,154.2 387.9,155.3 388.1,156.3 388.2,157.4 388.3,158.5 388.3,159.6 388.2,160.6 388.0,161.7 387.8,162.7 387.4,163.8 387.0,164.8 386.6,165.8 386.1,166.8 385.5,167.7 384.9,168.6 384.2,169.5 383.5,170.4 382.8,171.2 381.9,171.9 381.1,172.7 380.2,173.4 379.3,174.0 378.4,174.6 377.5,175.0 376.5,175.4 375.6,175.7 374.7,175.8 373.9,175.7 373.0,175.5 372.0,175.1 371.0,174.6 370.0,174.0 369.0,173.4 367.8,173.0 366.6,172.6 365.4,172.2 A1.02,1.02 0 0 0 364.6,174.0 L 365.5,174.7 366.4,175.5 367.3,176.2 368.3,176.9 369.4,177.6 370.6,178.1 371.8,178.7 373.2,179.1 374.8,179.2 376.3,179.0 377.6,178.6 378.9,178.1 380.1,177.5 381.2,176.8 382.3,176.1 383.3,175.3 384.2,174.5 385.2,173.6 386.0,172.6 386.9,171.6 387.7,170.6 388.4,169.5 389.0,168.4 389.6,167.3 390.2,166.1 390.6,164.9 391.0,163.7 391.4,162.4 391.6,161.1 391.7,159.7 391.7,158.4 391.6,157.1 391.5,155.8 391.2,154.5 390.9,153.3 390.5,152.0 390.1,150.8 389.6,149.6 389.0,148.5 388.2,147.3 387.4,146.2 386.4,145.2 385.4,144.4 384.3,143.6 383.1,142.9 382.0,142.4 380.8,141.8 379.6,141.4 378.4,141.0 377.2,140.6 375.9,140.3 374.6,140.1 373.2,140.0 371.9,140.1 370.6,140.2 369.4,140.4 368.1,140.6 367.0,140.9 365.8,141.1 364.7,141.4 363.6,141.7 A1.44,1.44 0 0 0 363.9,144.6 Z"/><path d="M391.9,130.2 393.1,130.3 394.2,130.3 395.4,130.3 396.5,130.2 397.7,130.2 398.8,130.1 400.0,130.1 401.1,130.0 402.3,129.9 403.4,129.6 404.5,129.4 405.7,129.1 A1.02,1.02 0 0 0 405.6,127.1 L 404.4,127.0 403.3,126.8 402.1,126.7 401.0,126.6 399.8,126.7 398.7,126.7 397.5,126.8 396.4,126.8 395.2,126.9 394.1,126.9 392.9,127.1 391.8,127.3 A1.44,1.44 0 0 0 391.9,130.2 Z"/><path d="M397.3,128.8 397.2,130.0 397.2,131.2 397.2,132.4 397.3,133.6 397.3,134.8 397.4,136.0 397.4,137.2 397.5,138.4 397.6,139.6 397.8,140.8 398.1,142.0 398.4,143.2 A1.02,1.02 0 0 0 400.4,143.1 L 400.5,141.9 400.7,140.7 400.8,139.5 400.9,138.3 400.8,137.1 400.8,135.9 400.7,134.7 400.7,133.5 400.6,132.3 400.6,131.1 400.4,129.9 400.2,128.7 A1.44,1.44 0 0 0 397.3,128.8 Z"/><path d="M387.8,171.5 388.4,172.4 389.1,173.4 389.9,174.2 390.6,175.1 391.4,176.0 392.1,176.9 392.9,177.7 393.8,178.5 394.7,179.2 395.6,180.0 A0.90,0.90 0 0 0 396.9,178.8 L 396.3,177.8 395.7,176.8 395.1,175.8 394.4,174.9 393.6,174.0 392.9,173.1 392.1,172.3 391.4,171.4 390.6,170.6 389.7,169.8 A1.27,1.27 0 0 0 387.8,171.5 Z"/><path d="M395.2,169.3 394.5,170.2 393.8,171.0 393.1,172.0 392.5,172.9 391.9,173.9 391.3,174.8 390.6,175.7 390.0,176.7 389.4,177.6 388.8,178.5 388.2,179.5 387.7,180.6 387.2,181.6 386.8,182.6 A0.90,0.90 0 0 0 388.2,183.6 L 389.0,182.8 389.8,181.9 390.5,181.1 391.2,180.2 391.9,179.3 392.5,178.3 393.1,177.4 393.7,176.5 394.4,175.5 395.0,174.6 395.6,173.6 396.2,172.7 396.8,171.7 397.3,170.7 A1.27,1.27 0 0 0 395.2,169.3 Z"/><circle cx="400.0" cy="174.4" r="2.00"/><path d="M399.4,179.9 399.2,181.1 399.0,182.3 399.0,183.5 398.9,184.6 398.9,185.9 398.9,187.1 398.9,188.2 398.8,189.0 398.5,189.6 398.1,190.0 397.5,190.2 396.9,190.1 396.0,189.8 395.2,189.4 394.5,188.9 394.0,188.6 393.8,188.6 394.3,188.3 395.2,187.5 A0.90,0.90 0 0 0 394.3,186.0 L 393.2,186.4 391.7,187.3 391.3,189.5 392.4,191.0 393.6,191.9 394.9,192.6 396.3,193.0 397.9,193.1 399.6,192.5 400.9,191.4 401.7,189.9 401.9,188.3 401.9,187.1 401.9,185.9 401.9,184.8 402.0,183.6 402.0,182.4 402.0,181.2 401.9,180.1 A1.27,1.27 0 0 0 399.4,179.9 Z"/><path d="M415.3,153.0 414.3,152.6 413.2,152.2 412.1,151.8 410.9,151.5 409.5,151.2 407.9,151.2 406.2,151.9 405.0,152.9 404.1,154.0 403.4,155.2 402.9,156.4 402.4,157.7 402.1,159.1 402.1,160.6 402.4,162.1 402.9,163.4 403.5,164.6 404.3,165.7 405.3,166.8 406.7,167.8 408.4,168.1 409.9,168.0 411.3,167.7 412.6,167.2 413.8,166.7 414.9,166.0 416.1,165.1 417.1,163.9 417.7,162.5 418.1,161.2 418.3,160.0 418.3,158.8 418.4,157.7 418.5,156.5 A1.02,1.02 0 0 0 416.5,156.0 L 416.0,157.1 415.6,158.2 415.1,159.3 414.8,160.3 414.5,161.3 414.2,162.1 413.7,162.7 413.0,163.2 412.2,163.7 411.3,164.1 410.3,164.4 409.4,164.6 408.6,164.7 408.0,164.6 407.5,164.3 407.0,163.6 406.5,162.9 406.0,162.0 405.7,161.1 405.5,160.3 405.5,159.5 405.7,158.6 406.0,157.7 406.4,156.8 406.9,156.0 407.5,155.3 408.0,154.8 408.5,154.6 409.2,154.6 410.1,154.8 411.1,155.1 412.2,155.4 413.5,155.7 414.7,155.8 A1.44,1.44 0 0 0 415.3,153.0 Z"/><path d="M412.5,155.1 413.0,156.2 413.6,157.3 414.3,158.3 415.0,159.3 415.7,160.3 416.3,161.3 417.0,162.2 417.6,163.2 418.3,164.2 418.9,165.2 419.4,166.1 420.0,167.1 420.4,168.1 420.8,169.1 421.2,170.2 421.5,171.3 421.8,172.4 422.0,173.5 422.2,174.6 422.4,175.6 422.5,176.7 422.4,177.7 422.3,178.7 422.1,179.6 421.7,180.4 421.2,181.2 420.5,181.9 419.8,182.5 419.0,183.0 418.2,183.4 417.4,183.5 416.5,183.5 415.5,183.4 414.4,183.1 413.3,182.9 412.0,182.8 410.8,182.8 409.5,182.7 A1.02,1.02 0 0 0 409.2,184.8 L 410.3,185.2 411.4,185.6 412.5,186.1 413.6,186.4 414.9,186.7 416.2,186.9 417.7,186.9 419.2,186.6 420.6,186.0 421.8,185.3 422.9,184.3 423.8,183.3 424.6,182.1 425.3,180.8 425.7,179.4 425.8,178.0 425.9,176.6 425.8,175.3 425.6,174.0 425.4,172.8 425.1,171.6 424.8,170.4 424.4,169.2 424.0,168.0 423.6,166.8 423.0,165.6 422.4,164.5 421.8,163.4 421.1,162.4 420.5,161.3 419.8,160.3 419.1,159.3 418.4,158.4 417.8,157.4 417.1,156.4 416.4,155.4 415.7,154.5 415.0,153.6 A1.44,1.44 0 0 0 412.5,155.1 Z"/><path d="M442.3,153.1 443.2,152.4 444.1,151.5 444.9,150.7 445.6,149.9 446.4,149.1 447.1,148.6 448.0,148.1 448.9,147.7 449.9,147.3 450.9,147.1 451.8,147.0 452.8,147.0 453.8,147.1 454.7,147.3 455.5,147.5 456.0,147.9 456.3,148.4 456.5,149.2 456.7,150.2 456.7,151.2 456.7,152.3 456.7,153.4 456.6,154.5 456.4,155.7 456.3,156.9 456.3,158.1 456.3,159.3 456.4,160.5 456.6,161.6 456.7,162.8 A1.02,1.02 0 0 0 458.8,162.9 L 459.0,161.8 459.3,160.6 459.5,159.4 459.7,158.3 459.7,157.1 459.8,156.0 459.9,154.8 460.1,153.7 460.1,152.4 460.1,151.1 460.0,149.8 459.8,148.5 459.4,147.0 458.5,145.6 457.1,144.5 455.7,144.0 454.3,143.7 452.9,143.6 451.6,143.6 450.2,143.8 448.9,144.1 447.7,144.5 446.4,145.0 445.2,145.7 444.2,146.6 443.2,147.5 442.4,148.4 441.6,149.3 440.9,150.2 440.2,151.1 A1.44,1.44 0 0 0 442.3,153.1 Z"/><path d="M455.6,149.9 454.7,150.6 453.8,151.3 453.0,152.1 452.2,152.9 451.4,153.7 450.6,154.5 449.8,155.3 449.0,156.1 448.2,156.9 447.4,157.7 446.6,158.5 445.8,159.3 445.0,160.1 444.1,161.0 443.4,161.8 442.7,162.8 442.1,163.7 441.4,164.7 A1.02,1.02 0 0 0 442.8,166.1 L 443.8,165.4 444.7,164.8 445.7,164.1 446.5,163.4 447.4,162.5 448.2,161.7 449.0,160.9 449.8,160.1 450.6,159.3 451.4,158.5 452.2,157.7 453.0,156.9 453.8,156.1 454.6,155.3 455.4,154.5 456.2,153.7 456.9,152.8 457.6,151.9 A1.44,1.44 0 0 0 455.6,149.9 Z"/><circle cx="465.6" cy="154.4" r="2.20"/><path d="M463.6,162.4 463.4,163.6 463.2,164.7 463.2,165.9 463.1,167.0 463.1,168.2 463.0,169.4 463.1,170.6 463.1,171.7 463.1,172.7 462.9,173.4 462.6,173.9 462.2,174.3 461.8,174.5 461.1,174.4 460.3,174.1 459.5,173.8 458.7,173.3 458.2,172.8 457.9,172.8 457.8,172.9 458.4,172.4 459.3,171.6 A1.02,1.02 0 0 0 458.2,169.9 L 457.1,170.3 455.8,171.0 454.7,173.0 455.5,175.0 456.7,176.0 457.9,176.8 459.2,177.3 460.5,177.7 462.2,177.8 463.9,177.2 465.3,176.1 466.1,174.6 466.4,173.1 466.5,171.7 466.5,170.5 466.4,169.4 466.5,168.3 466.5,167.2 466.6,166.0 466.6,164.9 466.5,163.7 466.4,162.6 A1.44,1.44 0 0 0 463.6,162.4 Z"/></g>
<g fill="#6b9bcd" stroke="none"><path d="M556.2,153.4 557.4,153.6 558.5,153.7 559.6,153.7 560.8,153.7 561.9,153.7 563.0,153.7 564.1,153.7 565.2,153.7 566.4,153.7 567.5,153.7 568.6,153.7 569.8,153.6 570.9,153.4 572.0,153.2 573.1,153.0 A1.08,1.08 0 0 0 573.1,150.8 L 572.0,150.6 570.9,150.4 569.8,150.2 568.6,150.1 567.5,150.1 566.4,150.1 565.2,150.1 564.1,150.1 563.0,150.1 561.9,150.1 560.8,150.1 559.6,150.1 558.5,150.1 557.4,150.2 556.2,150.3 A1.53,1.53 0 0 0 556.2,153.4 Z"/><path d="M556.3,157.8 557.5,157.9 558.7,158.0 559.8,157.9 561.0,157.9 562.2,157.9 563.3,157.8 564.5,157.8 565.7,157.7 566.9,157.7 568.0,157.7 569.2,157.6 570.4,157.6 571.5,157.5 572.7,157.2 573.9,157.0 575.0,156.7 A1.08,1.08 0 0 0 575.0,154.5 L 573.8,154.4 572.6,154.2 571.4,154.0 570.3,154.0 569.1,154.0 567.9,154.1 566.7,154.1 565.6,154.1 564.4,154.2 563.2,154.2 562.0,154.3 560.9,154.3 559.7,154.3 558.5,154.4 557.4,154.5 556.2,154.7 A1.53,1.53 0 0 0 556.3,157.8 Z"/><path d="M567.2,144.9 568.0,145.8 568.9,146.6 569.8,147.3 570.7,148.1 571.6,148.8 572.5,149.5 573.4,150.2 574.3,151.0 575.2,151.7 576.1,152.4 577.0,153.2 577.8,153.9 578.7,154.7 579.5,155.5 580.3,156.2 581.0,157.0 581.6,157.6 581.7,157.6 581.5,157.7 580.8,158.3 580.0,159.0 579.1,159.7 578.2,160.3 577.3,160.9 576.3,161.6 575.3,162.2 574.3,162.8 573.4,163.5 572.4,164.1 571.4,164.8 570.5,165.6 569.7,166.4 568.8,167.2 A1.08,1.08 0 0 0 570.0,169.0 L 571.1,168.6 572.1,168.1 573.2,167.7 574.3,167.1 575.3,166.5 576.3,165.9 577.3,165.2 578.3,164.6 579.3,163.9 580.3,163.3 581.3,162.5 582.2,161.8 583.2,161.0 584.2,160.0 585.3,158.1 584.7,155.9 583.8,154.7 582.9,153.8 582.0,152.9 581.1,152.1 580.2,151.3 579.3,150.5 578.5,149.7 577.5,148.9 576.6,148.2 575.7,147.4 574.8,146.7 573.8,146.0 572.9,145.2 572.0,144.5 571.1,143.8 570.1,143.2 569.1,142.6 A1.53,1.53 0 0 0 567.2,144.9 Z"/><path d="M402.4,261.5 403.6,261.7 404.8,261.9 406.0,261.9 407.1,262.0 408.3,262.0 409.5,262.0 410.6,262.1 411.8,262.1 413.0,262.2 414.2,262.2 415.3,262.2 416.5,262.3 417.7,262.2 418.9,262.0 420.0,261.9 421.2,261.7 A1.08,1.08 0 0 0 421.3,259.5 L 420.1,259.3 419.0,259.0 417.8,258.8 416.6,258.7 415.5,258.6 414.3,258.6 413.1,258.6 411.9,258.5 410.8,258.5 409.6,258.4 408.4,258.4 407.2,258.4 406.1,258.3 404.9,258.3 403.7,258.4 402.6,258.5 A1.53,1.53 0 0 0 402.4,261.5 Z"/><path d="M402.3,267.8 403.4,268.1 404.5,268.3 405.6,268.4 406.7,268.6 407.9,268.7 409.0,268.8 410.1,269.0 411.2,269.1 412.3,269.2 413.4,269.4 414.6,269.4 415.7,269.3 416.9,269.3 418.0,269.2 A1.08,1.08 0 0 0 418.3,267.1 L 417.2,266.7 416.1,266.4 415.0,266.0 413.9,265.8 412.8,265.7 411.6,265.5 410.5,265.4 409.4,265.3 408.3,265.1 407.2,265.0 406.1,264.9 404.9,264.7 403.8,264.7 402.7,264.7 A1.53,1.53 0 0 0 402.3,267.8 Z"/><path d="M414.1,253.1 414.9,253.9 415.8,254.7 416.7,255.4 417.7,256.1 418.6,256.8 419.5,257.5 420.4,258.2 421.3,258.9 422.1,259.7 423.0,260.5 423.8,261.3 424.6,262.0 425.3,262.8 425.8,263.4 426.0,263.9 425.9,264.4 425.6,265.2 425.1,266.0 424.5,266.9 423.8,267.8 423.1,268.7 422.4,269.6 421.7,270.4 420.9,271.2 420.1,272.0 419.3,272.8 418.4,273.6 417.6,274.4 416.9,275.4 416.2,276.4 415.5,277.4 A1.08,1.08 0 0 0 417.0,278.9 L 418.0,278.2 419.0,277.6 420.0,277.0 420.9,276.2 421.8,275.4 422.6,274.6 423.5,273.7 424.4,272.8 425.2,271.9 425.9,270.9 426.7,270.0 427.4,269.0 428.1,267.9 428.8,266.7 429.4,265.3 429.5,263.5 429.0,261.8 428.1,260.5 427.2,259.5 426.3,258.7 425.4,257.9 424.6,257.0 423.6,256.2 422.7,255.4 421.7,254.7 420.8,254.0 419.8,253.2 418.9,252.5 417.9,251.9 417.0,251.2 415.9,250.7 A1.53,1.53 0 0 0 414.1,253.1 Z"/></g>
<g fill="#264d8e" stroke="none"><path d="M639.8,149.7 640.7,148.9 641.6,148.0 642.3,147.1 643.1,146.2 643.8,145.3 644.6,144.6 645.4,143.8 646.3,143.2 647.2,142.5 648.1,141.8 649.1,141.2 650.0,140.7 651.0,140.2 651.9,139.8 652.8,139.5 653.7,139.4 654.6,139.5 655.5,139.7 656.3,140.1 656.9,140.5 657.4,141.1 657.8,141.9 658.1,142.9 658.3,143.9 658.3,144.9 658.3,145.8 658.1,146.9 657.9,147.9 657.6,149.1 657.3,150.2 657.0,151.4 656.7,152.5 656.4,153.6 656.3,154.8 656.1,156.0 655.9,157.2 A1.00,1.00 0 0 0 657.8,157.8 L 658.4,156.7 658.9,155.7 659.5,154.6 659.9,153.4 660.2,152.2 660.5,151.1 660.8,149.9 661.1,148.7 661.4,147.5 661.6,146.2 661.7,144.8 661.6,143.4 661.3,142.1 660.9,140.7 660.2,139.4 659.2,138.1 658.0,137.2 656.6,136.6 655.2,136.2 653.7,136.0 652.2,136.2 650.8,136.6 649.6,137.1 648.4,137.7 647.3,138.4 646.3,139.1 645.2,139.8 644.2,140.5 643.2,141.3 642.3,142.1 641.3,143.0 640.5,144.0 639.7,144.9 639.0,145.9 638.3,146.8 637.7,147.8 A1.42,1.42 0 0 0 639.8,149.7 Z"/><path d="M657.4,145.0 656.3,145.5 655.2,146.1 654.3,146.7 653.3,147.3 652.3,148.0 651.3,148.6 650.3,149.2 649.3,149.8 648.3,150.5 647.3,151.1 646.3,151.7 645.3,152.3 644.3,153.0 643.4,153.7 642.5,154.4 641.6,155.2 640.7,156.0 A1.00,1.00 0 0 0 641.8,157.7 L 642.9,157.3 644.0,156.8 645.1,156.3 646.1,155.8 647.1,155.2 648.1,154.5 649.1,153.9 650.1,153.3 651.1,152.7 652.1,152.0 653.1,151.4 654.1,150.8 655.0,150.2 656.0,149.5 657.0,148.9 658.0,148.2 658.9,147.5 A1.42,1.42 0 0 0 657.4,145.0 Z"/><circle cx="668.1" cy="150.6" r="2.20"/><path d="M667.3,157.4 667.1,158.6 666.9,159.7 666.8,160.9 666.7,162.1 666.6,163.2 666.5,164.5 666.5,165.7 666.5,166.9 666.4,168.0 666.3,168.9 666.1,169.7 665.7,170.3 665.1,170.9 664.5,171.3 663.9,171.4 663.2,171.2 662.3,170.9 661.3,170.5 660.5,170.1 659.7,169.5 659.0,168.8 658.6,168.5 658.5,168.6 658.7,168.3 659.6,167.6 660.5,166.9 A1.00,1.00 0 0 0 659.5,165.1 L 658.4,165.6 657.2,166.0 655.6,167.2 655.5,169.6 656.5,171.1 657.5,172.1 658.7,172.9 659.8,173.5 661.1,174.1 662.4,174.5 664.0,174.7 665.7,174.4 667.2,173.6 668.3,172.5 669.1,171.1 669.6,169.6 669.8,168.2 669.8,167.0 669.8,165.8 669.9,164.7 670.0,163.5 670.1,162.3 670.2,161.2 670.2,160.0 670.2,158.8 670.2,157.6 A1.42,1.42 0 0 0 667.3,157.4 Z"/><path d="M683.7,149.5 684.8,149.8 685.9,149.9 687.1,150.0 688.2,150.1 689.3,150.2 690.5,150.2 691.6,150.3 692.8,150.4 693.9,150.5 695.0,150.5 696.2,150.6 697.3,150.7 698.5,150.8 699.6,150.7 700.8,150.6 701.9,150.5 703.1,150.4 A1.00,1.00 0 0 0 703.2,148.4 L 702.1,148.1 700.9,147.8 699.8,147.6 698.7,147.4 697.5,147.3 696.4,147.3 695.3,147.2 694.1,147.1 693.0,147.0 691.8,147.0 690.7,146.9 689.6,146.8 688.4,146.7 687.3,146.7 686.1,146.6 685.0,146.6 683.8,146.7 A1.42,1.42 0 0 0 683.7,149.5 Z"/><path d="M685.6,156.4 686.7,156.6 687.8,156.8 689.0,156.8 690.1,156.8 691.2,156.9 692.4,156.9 693.5,156.9 694.6,157.0 695.8,157.0 696.9,157.1 698.0,157.1 699.2,157.1 700.3,157.1 701.4,156.9 702.6,156.8 703.7,156.6 A1.00,1.00 0 0 0 703.8,154.6 L 702.7,154.4 701.5,154.2 700.4,153.9 699.3,153.8 698.1,153.8 697.0,153.7 695.9,153.7 694.7,153.6 693.6,153.6 692.5,153.6 691.3,153.5 690.2,153.5 689.1,153.4 687.9,153.4 686.8,153.5 685.7,153.6 A1.42,1.42 0 0 0 685.6,156.4 Z"/><path d="M739.4,122.7 740.6,122.8 741.7,122.8 742.9,122.8 744.0,122.7 745.1,122.6 746.3,122.6 747.4,122.5 748.5,122.4 749.7,122.1 750.8,121.9 751.9,121.6 A1.00,1.00 0 0 0 751.8,119.6 L 750.7,119.5 749.5,119.3 748.4,119.2 747.2,119.2 746.1,119.2 745.0,119.3 743.8,119.3 742.7,119.4 741.6,119.5 740.4,119.6 739.3,119.8 A1.42,1.42 0 0 0 739.4,122.7 Z"/><path d="M753.8,113.9 754.9,114.1 756.1,114.2 757.3,114.2 758.4,114.2 759.6,114.2 760.8,114.2 762.0,114.2 763.1,114.2 764.3,114.2 765.5,114.2 766.6,114.2 767.8,114.2 769.0,114.1 770.2,113.9 771.3,113.7 772.5,113.5 A1.00,1.00 0 0 0 772.5,111.5 L 771.3,111.3 770.2,111.1 769.0,110.9 767.8,110.8 766.6,110.8 765.5,110.8 764.3,110.8 763.1,110.8 762.0,110.8 760.8,110.8 759.6,110.8 758.4,110.8 757.3,110.8 756.1,110.8 754.9,110.9 753.8,111.1 A1.42,1.42 0 0 0 753.8,113.9 Z"/><path d="M760.5,114.0 760.5,115.1 760.6,116.3 760.8,117.5 760.9,118.6 761.1,119.8 761.3,121.0 761.5,122.1 761.6,123.3 761.8,124.5 762.0,125.6 762.3,126.8 762.6,127.9 763.0,129.0 763.4,130.2 A1.00,1.00 0 0 0 765.4,129.8 L 765.4,128.7 765.4,127.5 765.4,126.3 765.3,125.1 765.1,123.9 765.0,122.8 764.8,121.6 764.6,120.5 764.4,119.3 764.2,118.1 764.1,117.0 763.9,115.8 763.6,114.7 763.3,113.5 A1.42,1.42 0 0 0 760.5,114.0 Z"/><path d="M721.1,132.6 721.0,133.7 720.9,134.9 721.0,136.0 721.0,137.2 721.1,138.4 721.1,139.5 721.2,140.7 721.2,141.8 721.2,143.0 721.3,144.1 721.3,145.3 721.4,146.5 721.4,147.6 721.5,148.8 721.5,149.9 721.6,151.1 721.6,152.2 721.7,153.4 721.7,154.6 721.8,155.7 721.8,156.9 721.8,158.0 721.9,159.2 722.0,160.3 722.3,161.5 722.5,162.6 722.7,163.8 A1.00,1.00 0 0 0 724.8,163.7 L 724.9,162.5 725.0,161.4 725.2,160.2 725.2,159.1 725.2,157.9 725.1,156.7 725.1,155.6 725.1,154.4 725.0,153.3 725.0,152.1 724.9,151.0 724.9,149.8 724.8,148.6 724.8,147.5 724.7,146.3 724.7,145.2 724.6,144.0 724.6,142.8 724.5,141.7 724.5,140.5 724.5,139.4 724.4,138.2 724.4,137.1 724.3,135.9 724.3,134.7 724.1,133.6 723.9,132.4 A1.42,1.42 0 0 0 721.1,132.6 Z"/><path d="M722.7,133.9 723.9,133.9 725.2,133.8 726.3,133.5 727.5,133.3 728.6,133.1 729.7,132.9 730.8,132.8 731.8,132.7 732.8,132.8 733.8,133.0 734.9,133.3 735.9,133.6 736.9,134.0 737.9,134.5 738.9,135.0 739.8,135.5 740.8,136.1 741.7,136.7 742.5,137.4 743.3,138.1 744.0,138.9 744.7,139.7 745.3,140.6 745.9,141.6 746.5,142.5 747.0,143.5 747.4,144.5 747.8,145.5 748.1,146.5 748.3,147.5 748.3,148.4 748.3,149.3 748.0,150.3 747.7,151.2 747.2,152.1 746.7,153.0 746.1,153.9 745.4,154.7 744.6,155.5 743.9,156.3 743.1,156.9 742.2,157.5 741.3,158.0 740.3,158.5 739.3,158.9 738.2,159.3 737.1,159.7 736.1,160.1 734.9,160.4 733.8,160.7 732.8,161.0 731.7,161.3 730.6,161.4 729.5,161.6 728.3,161.7 727.2,161.8 726.0,162.1 724.8,162.4 723.6,162.8 A1.00,1.00 0 0 0 723.9,164.7 L 725.0,164.8 726.2,164.9 727.4,165.0 728.6,165.0 729.8,164.9 731.1,164.8 732.3,164.6 733.5,164.3 734.7,164.0 735.9,163.6 737.1,163.3 738.2,162.9 739.4,162.5 740.5,162.0 741.7,161.5 742.8,161.0 744.0,160.3 745.1,159.6 746.1,158.8 747.0,157.9 747.9,156.9 748.7,155.9 749.5,154.9 750.2,153.7 750.7,152.5 751.2,151.2 751.6,149.9 751.7,148.4 751.6,147.0 751.3,145.7 751.0,144.4 750.5,143.2 750.0,142.0 749.4,140.9 748.8,139.8 748.1,138.7 747.4,137.7 746.5,136.7 745.6,135.8 744.7,134.9 743.7,134.1 742.6,133.3 741.6,132.6 740.5,132.0 739.4,131.4 738.2,130.9 737.0,130.4 735.8,130.0 734.6,129.7 733.2,129.5 731.9,129.4 730.5,129.4 729.3,129.6 728.0,129.8 726.8,130.0 725.7,130.2 724.5,130.5 723.4,130.8 722.3,131.1 A1.42,1.42 0 0 0 722.7,133.9 Z"/><path d="M750.9,156.4 751.4,157.4 752.0,158.3 752.7,159.3 753.4,160.2 754.1,161.1 754.8,162.0 755.4,162.9 756.2,163.8 757.0,164.6 757.8,165.4 758.7,166.2 A0.90,0.90 0 0 0 760.1,165.1 L 759.6,164.1 759.0,163.0 758.5,162.0 757.8,161.1 757.2,160.2 756.5,159.3 755.8,158.4 755.1,157.5 754.4,156.5 753.7,155.7 752.9,154.9 A1.27,1.27 0 0 0 750.9,156.4 Z"/><path d="M757.8,154.8 756.9,155.6 756.1,156.4 755.3,157.3 754.6,158.2 753.8,159.1 753.1,160.0 752.3,160.9 751.5,161.8 750.8,162.7 750.0,163.6 749.3,164.5 748.7,165.5 748.1,166.5 747.4,167.5 A0.90,0.90 0 0 0 748.8,168.7 L 749.7,167.9 750.6,167.1 751.5,166.4 752.3,165.5 753.1,164.6 753.8,163.7 754.6,162.8 755.3,162.0 756.1,161.1 756.9,160.2 757.6,159.3 758.4,158.4 759.1,157.4 759.7,156.5 A1.27,1.27 0 0 0 757.8,154.8 Z"/><circle cx="763.1" cy="162.5" r="2.00"/><path d="M762.5,168.0 762.2,169.1 762.0,170.3 761.9,171.5 761.8,172.6 761.6,173.8 761.5,175.0 761.4,176.0 761.2,176.7 760.9,177.1 760.6,177.3 760.0,177.1 759.3,176.8 758.6,176.4 758.2,176.4 758.2,176.4 759.0,175.8 A0.90,0.90 0 0 0 758.0,174.2 L 756.8,174.8 755.7,176.6 756.6,178.4 757.8,179.4 759.2,180.0 760.9,180.3 762.7,179.5 763.9,178.1 764.4,176.6 764.5,175.3 764.6,174.1 764.7,172.9 764.9,171.8 765.0,170.6 765.0,169.4 765.0,168.3 A1.27,1.27 0 0 0 762.5,168.0 Z"/><path d="M779.4,142.5 778.4,141.8 777.5,141.2 776.4,140.6 775.2,140.0 773.6,139.5 771.5,139.9 770.1,141.1 769.3,142.3 768.7,143.6 768.3,144.8 767.9,146.1 767.7,147.5 767.7,149.1 768.1,150.5 768.6,151.8 769.3,153.0 770.1,154.1 771.0,155.2 772.3,156.2 774.0,156.7 775.6,156.7 777.1,156.4 778.4,155.8 779.6,155.1 780.9,154.1 781.8,152.7 782.2,151.0 782.2,149.6 782.1,148.3 781.9,147.1 781.6,146.0 781.3,144.8 781.0,143.7 A1.00,1.00 0 0 0 779.0,143.8 L 778.9,145.0 778.8,146.3 778.7,147.5 778.8,148.6 778.9,149.7 778.9,150.6 778.7,151.3 778.4,151.9 777.7,152.3 776.9,152.8 776.0,153.2 775.2,153.4 774.5,153.4 773.9,153.2 773.3,152.8 772.7,152.1 772.1,151.2 771.6,150.4 771.3,149.5 771.0,148.6 771.0,147.8 771.2,146.8 771.5,145.9 771.8,144.9 772.2,144.0 772.7,143.2 773.0,142.9 773.3,142.8 773.9,143.1 774.8,143.5 775.8,144.1 777.0,144.6 778.1,145.0 A1.42,1.42 0 0 0 779.4,142.5 Z"/><path d="M776.2,145.7 776.7,146.8 777.1,147.9 777.7,148.9 778.3,150.0 778.9,151.0 779.5,152.0 780.1,153.0 780.7,154.0 781.2,155.1 781.7,156.1 782.2,157.1 782.6,158.1 783.0,159.1 783.3,160.1 783.6,161.2 783.8,162.3 784.0,163.4 784.1,164.5 784.2,165.6 784.2,166.7 784.2,167.8 784.1,168.8 783.9,169.7 783.5,170.5 783.0,171.1 782.3,171.8 781.6,172.3 780.7,172.8 779.8,173.1 779.0,173.3 778.2,173.3 777.4,173.1 776.5,172.7 775.5,172.2 774.5,171.6 773.4,171.2 772.3,170.7 771.1,170.4 A1.00,1.00 0 0 0 770.2,172.1 L 771.1,172.8 772.0,173.6 772.9,174.4 773.9,175.1 775.0,175.7 776.3,176.2 777.7,176.6 779.3,176.6 780.8,176.3 782.1,175.8 783.3,175.2 784.5,174.4 785.5,173.4 786.4,172.1 787.0,170.8 787.4,169.4 787.5,168.0 787.6,166.7 787.5,165.5 787.4,164.2 787.3,163.0 787.1,161.7 786.8,160.5 786.6,159.3 786.2,158.1 785.7,156.9 785.3,155.7 784.7,154.6 784.2,153.5 783.6,152.4 783.0,151.4 782.4,150.3 781.8,149.3 781.2,148.3 780.6,147.3 780.1,146.3 779.4,145.3 778.8,144.3 A1.42,1.42 0 0 0 776.2,145.7 Z"/><path d="M807.0,119.8 806.2,120.6 805.4,121.5 804.6,122.4 803.9,123.4 803.1,124.4 802.4,125.4 801.7,126.5 801.2,127.7 800.6,128.8 800.1,129.9 799.7,131.1 799.2,132.2 798.8,133.4 798.4,134.6 798.1,135.7 797.8,136.9 797.5,138.2 797.3,139.4 797.1,140.6 796.9,141.8 796.7,143.0 796.6,144.3 796.5,145.5 796.5,146.7 796.4,148.0 796.5,149.2 796.5,150.4 796.6,151.6 796.6,152.9 796.8,154.1 796.9,155.3 797.1,156.5 797.2,157.7 797.5,158.9 797.7,160.1 798.0,161.3 798.3,162.5 798.6,163.7 799.0,164.9 799.4,166.1 799.8,167.2 800.3,168.4 800.8,169.5 801.3,170.6 801.8,171.7 802.3,172.8 802.8,173.9 803.3,174.9 804.0,175.9 804.7,176.9 805.3,177.9 A1.00,1.00 0 0 0 807.2,177.1 L 806.9,175.9 806.6,174.7 806.3,173.6 805.8,172.4 805.3,171.4 804.8,170.3 804.3,169.2 803.9,168.1 803.4,167.1 803.0,166.0 802.5,164.9 802.2,163.9 801.8,162.8 801.5,161.7 801.2,160.6 801.0,159.4 800.8,158.3 800.6,157.2 800.4,156.0 800.2,154.9 800.1,153.7 800.0,152.6 799.9,151.4 799.8,150.3 799.8,149.1 799.8,148.0 799.8,146.8 799.9,145.7 799.9,144.5 800.1,143.4 800.2,142.2 800.4,141.1 800.6,140.0 800.8,138.9 801.0,137.7 801.3,136.6 801.6,135.5 802.0,134.4 802.4,133.4 802.8,132.3 803.2,131.2 803.7,130.2 804.2,129.2 804.7,128.2 805.2,127.2 805.9,126.3 806.5,125.4 807.2,124.5 808.0,123.6 808.7,122.5 809.3,121.5 A1.42,1.42 0 0 0 807.0,119.8 Z"/><path d="M818.7,130.8 819.8,131.0 821.0,131.2 822.2,131.2 823.3,131.3 824.5,131.3 825.7,131.4 826.9,131.4 828.0,131.5 829.2,131.5 830.4,131.6 831.5,131.6 832.7,131.7 833.9,131.8 835.0,131.8 836.2,131.9 837.4,131.9 838.5,132.0 839.7,132.0 840.9,132.1 842.0,132.1 843.2,131.9 844.4,131.8 845.6,131.6 A1.00,1.00 0 0 0 845.7,129.6 L 844.5,129.4 843.4,129.1 842.2,128.9 841.0,128.7 839.9,128.7 838.7,128.6 837.5,128.6 836.4,128.5 835.2,128.5 834.0,128.4 832.8,128.4 831.7,128.3 830.5,128.2 829.3,128.2 828.2,128.1 827.0,128.1 825.8,128.0 824.7,128.0 823.5,127.9 822.3,127.9 821.2,127.8 820.0,127.9 818.8,128.0 A1.42,1.42 0 0 0 818.7,130.8 Z"/><path d="M822.5,145.2 823.7,145.3 824.8,145.4 826.0,145.4 827.1,145.4 828.3,145.4 829.5,145.4 830.6,145.4 831.8,145.4 832.9,145.4 834.1,145.4 835.3,145.3 836.4,145.1 837.6,144.9 838.8,144.8 A1.00,1.00 0 0 0 838.8,142.7 L 837.6,142.6 836.4,142.4 835.3,142.2 834.1,142.1 832.9,142.1 831.8,142.1 830.6,142.1 829.5,142.1 828.3,142.1 827.1,142.1 826.0,142.1 824.8,142.1 823.7,142.2 822.5,142.3 A1.42,1.42 0 0 0 822.5,145.2 Z"/><path d="M828.0,130.0 827.8,131.1 827.7,132.3 827.6,133.4 827.6,134.6 827.6,135.7 827.6,136.9 827.5,138.0 827.5,139.2 827.5,140.3 827.5,141.5 827.4,142.7 827.4,143.8 827.4,145.0 827.4,146.1 827.3,147.3 827.3,148.4 827.3,149.6 827.3,150.7 827.2,151.9 827.2,153.0 827.2,154.2 827.2,155.3 827.2,156.5 827.4,157.7 827.6,158.8 827.7,160.0 A1.00,1.00 0 0 0 829.8,160.0 L 830.0,158.9 830.2,157.7 830.4,156.6 830.5,155.4 830.5,154.3 830.6,153.1 830.6,152.0 830.6,150.8 830.6,149.7 830.7,148.5 830.7,147.3 830.7,146.2 830.7,145.0 830.8,143.9 830.8,142.7 830.8,141.6 830.8,140.4 830.9,139.3 830.9,138.1 830.9,137.0 830.9,135.8 831.0,134.7 831.0,133.5 831.0,132.3 830.9,131.2 830.8,130.0 A1.42,1.42 0 0 0 828.0,130.0 Z"/><path d="M836.0,159.7 836.8,160.5 837.5,161.4 838.4,162.1 839.2,162.9 840.0,163.7 840.9,164.4 841.8,165.1 842.8,165.7 843.8,166.3 A0.90,0.90 0 0 0 845.0,165.0 L 844.3,164.0 843.6,163.1 842.9,162.2 842.1,161.5 841.2,160.7 840.4,159.9 839.6,159.2 838.7,158.5 837.7,157.8 A1.27,1.27 0 0 0 836.0,159.7 Z"/><path d="M844.6,156.1 843.8,156.8 843.0,157.6 842.3,158.5 841.6,159.4 840.9,160.2 840.1,161.1 839.4,162.0 838.7,162.8 838.0,163.7 837.3,164.6 836.7,165.6 836.1,166.6 835.6,167.5 A0.90,0.90 0 0 0 836.9,168.7 L 837.8,167.9 838.6,167.2 839.5,166.4 840.3,165.6 841.0,164.8 841.7,163.9 842.5,163.0 843.2,162.2 843.9,161.3 844.6,160.4 845.3,159.6 846.0,158.6 846.6,157.7 A1.27,1.27 0 0 0 844.6,156.1 Z"/><path d="M860.1,124.8 859.3,125.7 858.6,126.6 857.9,127.5 857.2,128.4 856.4,129.4 855.7,130.4 855.0,131.4 854.4,132.4 853.8,133.5 853.2,134.7 852.7,135.9 852.3,137.1 852.0,138.2 851.6,139.4 851.3,140.6 851.1,141.8 850.9,143.1 850.8,144.3 850.7,145.5 850.6,146.8 850.6,148.0 850.7,149.3 850.9,150.6 851.1,151.8 851.5,153.1 851.9,154.3 852.3,155.4 852.8,156.6 853.3,157.7 853.8,158.8 854.3,159.8 854.9,160.9 855.4,161.9 855.9,163.0 856.5,164.0 857.1,165.0 857.8,166.0 858.4,166.9 859.1,167.9 A1.00,1.00 0 0 0 860.9,167.1 L 860.6,165.9 860.3,164.8 859.9,163.6 859.5,162.5 858.9,161.4 858.4,160.4 857.8,159.4 857.3,158.3 856.8,157.3 856.3,156.3 855.8,155.2 855.4,154.2 855.0,153.2 854.7,152.1 854.4,151.1 854.2,150.0 854.1,149.0 854.0,147.9 854.0,146.8 854.0,145.7 854.1,144.6 854.2,143.5 854.4,142.4 854.6,141.3 854.9,140.2 855.2,139.2 855.5,138.1 855.9,137.1 856.3,136.1 856.7,135.1 857.3,134.2 857.8,133.2 858.5,132.3 859.1,131.4 859.8,130.4 860.6,129.5 861.3,128.5 861.9,127.5 862.4,126.4 A1.42,1.42 0 0 0 860.1,124.8 Z"/><path d="M862.6,134.5 863.1,135.6 863.7,136.6 864.3,137.6 865.0,138.6 865.6,139.6 866.3,140.6 866.9,141.6 867.6,142.5 868.2,143.5 868.9,144.5 869.6,145.5 870.2,146.5 870.9,147.4 871.5,148.4 872.2,149.4 872.8,150.4 873.5,151.4 874.2,152.3 875.0,153.2 875.8,154.1 876.7,154.9 A1.01,1.01 0 0 0 878.3,153.8 L 877.8,152.7 877.4,151.6 876.9,150.5 876.3,149.5 875.6,148.5 875.0,147.6 874.3,146.6 873.7,145.6 873.0,144.6 872.3,143.6 871.7,142.6 871.0,141.7 870.4,140.7 869.7,139.7 869.1,138.7 868.4,137.7 867.8,136.7 867.1,135.8 866.5,134.8 865.7,133.9 864.9,133.0 A1.42,1.42 0 0 0 862.6,134.5 Z"/><path d="M878.1,130.6 877.4,131.6 876.8,132.5 876.2,133.6 875.7,134.6 875.1,135.7 874.6,136.7 874.0,137.8 873.5,138.8 872.9,139.8 872.3,140.9 871.8,141.9 871.2,143.0 870.7,144.0 870.1,145.0 869.6,146.1 869.0,147.1 868.5,148.2 867.9,149.2 867.3,150.3 866.8,151.3 866.2,152.3 865.7,153.4 865.1,154.4 864.6,155.5 864.3,156.6 863.9,157.8 863.5,158.9 A1.00,1.00 0 0 0 865.3,159.8 L 866.0,158.9 866.7,158.0 867.5,157.0 868.1,156.0 868.6,155.0 869.2,153.9 869.7,152.9 870.3,151.8 870.9,150.8 871.4,149.7 872.0,148.7 872.5,147.7 873.1,146.6 873.6,145.6 874.2,144.5 874.7,143.5 875.3,142.5 875.9,141.4 876.4,140.4 877.0,139.3 877.5,138.3 878.1,137.2 878.6,136.2 879.2,135.2 879.7,134.1 880.2,133.0 880.6,131.9 A1.42,1.42 0 0 0 878.1,130.6 Z"/><circle cx="885.0" cy="145.6" r="2.20"/><path d="M883.6,152.5 883.4,153.6 883.3,154.8 883.2,156.0 883.2,157.2 883.1,158.4 883.1,159.6 883.1,160.8 883.1,162.1 883.1,163.3 883.1,164.4 883.1,165.5 883.0,166.3 882.8,166.9 882.4,167.3 881.9,167.5 881.3,167.4 880.5,167.1 879.7,166.8 879.0,166.3 878.6,166.0 878.3,166.2 878.7,165.9 879.6,165.1 A1.00,1.00 0 0 0 878.6,163.4 L 877.5,163.8 875.9,164.8 875.6,167.1 876.7,168.7 877.9,169.6 879.3,170.3 880.7,170.7 882.5,170.8 884.2,170.1 885.5,168.8 886.2,167.2 886.5,165.7 886.5,164.4 886.5,163.2 886.4,162.0 886.4,160.8 886.4,159.7 886.5,158.5 886.5,157.3 886.6,156.1 886.6,154.9 886.5,153.7 886.4,152.5 A1.42,1.42 0 0 0 883.6,152.5 Z"/><path d="M890.6,126.9 891.1,128.1 891.6,129.2 892.2,130.2 892.8,131.3 893.4,132.3 894.0,133.3 894.5,134.3 895.0,135.3 895.4,136.3 895.7,137.3 896.0,138.4 896.2,139.5 896.3,140.6 896.5,141.7 896.5,142.9 896.6,144.0 896.6,145.2 896.6,146.3 896.5,147.5 896.4,148.6 896.3,149.7 896.1,150.9 895.9,151.9 895.6,153.0 895.3,154.0 894.9,155.0 894.4,156.1 893.9,157.1 893.3,158.1 892.8,159.2 892.4,160.3 892.0,161.5 891.6,162.7 A1.00,1.00 0 0 0 893.4,163.6 L 894.1,162.6 894.8,161.7 895.6,160.7 896.2,159.7 896.8,158.7 897.4,157.5 897.9,156.4 898.4,155.2 898.9,153.9 899.2,152.7 899.4,151.4 899.6,150.2 899.8,148.9 899.9,147.7 899.9,146.4 899.9,145.2 899.9,143.9 899.9,142.7 899.8,141.4 899.7,140.2 899.5,138.9 899.3,137.7 898.9,136.4 898.5,135.2 898.1,134.0 897.5,132.8 896.9,131.7 896.3,130.6 895.7,129.6 895.1,128.5 894.5,127.5 893.8,126.6 893.1,125.6 A1.42,1.42 0 0 0 890.6,126.9 Z"/><path d="M911.2,152.0 912.4,152.2 913.6,152.3 914.8,152.3 916.0,152.3 917.2,152.3 918.4,152.3 919.6,152.3 920.8,152.1 921.9,151.9 923.1,151.6 A1.00,1.00 0 0 0 923.1,149.6 L 921.9,149.4 920.8,149.2 919.6,148.9 918.4,148.9 917.2,148.9 916.0,148.9 914.8,148.9 913.6,149.0 912.4,149.1 911.2,149.2 A1.42,1.42 0 0 0 911.2,152.0 Z"/><path d="M934.9,149.1 935.0,150.2 935.2,151.3 935.5,152.4 935.8,153.5 936.1,154.6 936.3,155.7 936.6,156.7 937.0,157.8 937.4,158.8 937.9,159.9 938.4,160.9 A1.00,1.00 0 0 0 940.3,160.4 L 940.3,159.2 940.2,158.1 940.1,157.0 939.9,155.9 939.6,154.8 939.3,153.7 939.0,152.6 938.7,151.6 938.4,150.5 938.0,149.4 937.6,148.4 A1.42,1.42 0 0 0 934.9,149.1 Z"/><path d="M940.0,155.7 940.7,154.8 941.4,153.7 942.0,152.6 942.5,151.6 943.0,150.6 943.6,149.8 944.0,149.3 944.2,149.1 944.5,149.3 945.2,149.8 945.7,150.4 946.1,151.0 946.2,151.7 946.2,152.7 946.2,153.8 946.3,155.0 946.4,156.2 946.5,157.5 A1.00,1.00 0 0 0 948.5,157.5 L 948.8,156.4 949.1,155.3 949.4,154.1 949.6,152.8 949.6,151.4 949.2,149.8 948.4,148.3 947.3,147.2 946.0,146.3 944.1,145.8 942.1,146.5 940.9,147.8 940.2,148.9 939.6,150.0 939.0,151.1 938.5,152.1 938.0,153.2 937.5,154.3 A1.42,1.42 0 0 0 940.0,155.7 Z"/><path d="M948.7,153.2 949.5,152.2 950.1,151.2 950.7,150.1 951.2,149.2 951.6,148.6 951.9,148.5 952.4,148.5 953.1,148.8 953.8,149.2 954.2,149.7 954.5,150.3 954.6,151.2 954.7,152.3 954.7,153.4 954.7,154.5 954.7,155.7 954.8,157.0 955.0,158.2 955.2,159.4 A1.00,1.00 0 0 0 957.3,159.3 L 957.4,158.2 957.6,157.0 957.9,155.9 958.0,154.7 958.1,153.5 958.1,152.2 958.0,150.9 957.7,149.4 957.0,147.9 955.9,146.6 954.5,145.8 953.0,145.2 951.2,145.2 949.4,146.1 948.4,147.4 947.7,148.6 947.1,149.7 946.7,150.7 946.3,151.8 A1.42,1.42 0 0 0 948.7,153.2 Z"/><path d="M962.7,155.8 963.3,156.8 963.9,157.7 964.6,158.6 965.3,159.5 966.0,160.4 966.6,161.4 967.3,162.3 968.0,163.1 968.9,163.9 969.7,164.7 970.5,165.5 A0.90,0.90 0 0 0 972.0,164.5 L 971.4,163.4 970.9,162.4 970.4,161.4 969.7,160.5 969.0,159.6 968.4,158.6 967.7,157.7 967.0,156.8 966.3,155.9 965.6,155.1 964.8,154.2 A1.27,1.27 0 0 0 962.7,155.8 Z"/><path d="M970.3,155.4 969.5,156.2 968.6,157.0 967.9,157.8 967.2,158.7 966.4,159.5 965.7,160.4 964.9,161.2 964.2,162.1 963.6,163.1 963.0,164.1 962.4,165.0 A0.90,0.90 0 0 0 963.8,166.2 L 964.7,165.5 965.6,164.7 966.4,164.0 967.2,163.2 968.0,162.3 968.7,161.5 969.4,160.6 970.2,159.8 970.9,158.9 971.6,158.0 972.2,157.1 A1.27,1.27 0 0 0 970.3,155.4 Z"/><path d="M979.9,130.5 980.2,131.7 980.5,132.8 981.0,133.9 981.4,135.0 981.8,136.1 982.2,137.2 982.7,138.3 983.1,139.4 983.5,140.5 983.9,141.6 984.4,142.7 984.8,143.8 985.2,144.9 985.6,146.0 986.1,147.1 986.5,148.2 986.9,149.3 987.3,150.4 987.8,151.5 988.2,152.6 988.6,153.7 989.1,154.8 989.7,155.8 990.3,156.8 990.9,157.9 A1.00,1.00 0 0 0 992.8,157.1 L 992.6,156.0 992.3,154.8 992.1,153.6 991.7,152.5 991.3,151.4 990.9,150.3 990.5,149.2 990.0,148.1 989.6,147.0 989.2,145.9 988.8,144.8 988.3,143.7 987.9,142.6 987.5,141.5 987.1,140.4 986.6,139.3 986.2,138.2 985.8,137.1 985.4,136.0 984.9,134.9 984.5,133.8 984.1,132.7 983.7,131.6 983.1,130.5 982.6,129.5 A1.42,1.42 0 0 0 979.9,130.5 Z"/><path d="M995.0,129.3 994.3,130.3 993.7,131.3 993.1,132.3 992.5,133.3 992.0,134.4 991.4,135.4 990.9,136.4 990.3,137.5 989.7,138.5 989.2,139.5 988.6,140.6 988.1,141.6 987.5,142.7 986.9,143.7 986.4,144.7 985.8,145.8 985.3,146.8 984.7,147.8 984.1,148.9 983.6,149.9 983.0,150.9 982.4,152.0 981.9,153.0 981.3,154.0 980.8,155.1 980.3,156.1 979.9,157.3 979.5,158.4 979.1,159.5 A1.00,1.00 0 0 0 980.9,160.5 L 981.6,159.5 982.4,158.6 983.1,157.7 983.7,156.7 984.3,155.6 984.8,154.6 985.4,153.6 986.0,152.5 986.5,151.5 987.1,150.5 987.6,149.4 988.2,148.4 988.8,147.3 989.3,146.3 989.9,145.3 990.4,144.2 991.0,143.2 991.6,142.2 992.1,141.1 992.7,140.1 993.2,139.1 993.8,138.0 994.4,137.0 994.9,136.0 995.5,134.9 996.0,133.9 996.6,132.9 997.1,131.8 997.5,130.7 A1.42,1.42 0 0 0 995.0,129.3 Z"/><circle cx="985.0" cy="121.9" r="2.20"/><circle cx="993.1" cy="121.2" r="2.20"/><circle cx="1000.6" cy="148.8" r="2.20"/><path d="M998.6,158.7 998.4,159.9 998.2,161.0 998.2,162.2 998.1,163.4 998.1,164.6 998.1,165.8 998.1,167.0 998.1,168.1 998.0,168.9 997.7,169.5 997.3,169.9 996.9,170.1 996.3,170.1 995.4,169.8 994.6,169.5 993.8,169.0 993.2,168.5 992.9,168.4 992.8,168.5 993.4,168.0 994.3,167.2 A1.00,1.00 0 0 0 993.2,165.5 L 992.1,166.0 990.7,166.7 989.7,168.7 990.7,170.7 991.8,171.7 993.1,172.5 994.4,173.0 995.8,173.4 997.6,173.4 999.2,172.6 1000.5,171.4 1001.2,169.8 1001.4,168.3 1001.4,167.0 1001.4,165.8 1001.4,164.7 1001.5,163.5 1001.5,162.4 1001.6,161.2 1001.5,160.0 1001.4,158.8 A1.42,1.42 0 0 0 998.6,158.7 Z"/><path d="M1009.9,119.9 1010.2,121.0 1010.5,122.2 1011.0,123.3 1011.5,124.4 1011.9,125.5 1012.4,126.6 1012.8,127.7 1013.2,128.8 1013.7,129.8 1014.0,130.9 1014.4,132.0 1014.7,133.1 1015.0,134.2 1015.2,135.3 1015.4,136.4 1015.6,137.5 1015.8,138.7 1015.9,139.8 1016.0,141.0 1016.1,142.1 1016.2,143.3 1016.3,144.4 1016.3,145.6 1016.3,146.7 1016.3,147.9 1016.3,149.0 1016.2,150.2 1016.1,151.3 1016.0,152.4 1015.8,153.6 1015.6,154.7 1015.4,155.7 1015.1,156.8 1014.8,157.9 1014.5,159.0 1014.1,160.1 1013.7,161.2 1013.3,162.3 1012.8,163.4 1012.4,164.5 1012.0,165.6 1011.6,166.7 1011.4,167.9 1011.1,169.1 1010.9,170.3 A1.00,1.00 0 0 0 1012.8,171.0 L 1013.4,169.9 1014.0,168.9 1014.6,167.9 1015.1,166.8 1015.5,165.7 1016.0,164.6 1016.4,163.5 1016.8,162.4 1017.2,161.2 1017.6,160.1 1018.0,158.9 1018.4,157.7 1018.7,156.5 1018.9,155.3 1019.1,154.1 1019.3,152.8 1019.4,151.6 1019.5,150.4 1019.6,149.2 1019.6,147.9 1019.7,146.7 1019.6,145.5 1019.6,144.3 1019.6,143.1 1019.5,141.9 1019.4,140.7 1019.2,139.4 1019.1,138.2 1018.9,137.0 1018.7,135.8 1018.5,134.6 1018.2,133.4 1017.9,132.2 1017.6,131.0 1017.2,129.8 1016.8,128.7 1016.4,127.6 1015.9,126.4 1015.5,125.3 1015.0,124.2 1014.5,123.1 1014.1,122.0 1013.7,121.0 1013.1,119.9 1012.6,118.9 A1.42,1.42 0 0 0 1009.9,119.9 Z"/><path d="M416.1,217.5 415.0,217.2 413.9,216.8 412.7,216.6 411.4,216.3 409.9,216.3 408.3,216.7 406.9,217.5 405.9,218.4 404.9,219.4 404.1,220.5 403.4,221.6 402.8,222.8 402.4,224.1 402.1,225.5 402.1,226.9 402.2,228.4 402.7,230.0 404.0,231.5 406.0,232.0 407.5,231.9 408.8,231.6 410.1,231.1 411.3,230.6 412.5,229.8 413.6,229.0 414.4,228.1 415.1,227.1 415.8,226.2 416.5,225.2 A1.00,1.00 0 0 0 415.2,223.8 L 414.2,224.4 413.2,225.1 412.2,225.8 411.4,226.5 410.6,227.1 409.8,227.6 408.9,228.0 407.9,228.3 406.9,228.6 406.1,228.7 405.8,228.7 405.7,228.4 405.5,227.8 405.4,226.8 405.5,225.9 405.6,225.0 405.9,224.1 406.4,223.2 406.9,222.3 407.5,221.5 408.2,220.8 408.9,220.2 409.5,219.8 410.2,219.6 411.1,219.7 412.1,219.8 413.2,220.1 414.4,220.2 415.7,220.3 A1.42,1.42 0 0 0 416.1,217.5 Z"/><path d="M415.1,209.2 415.0,210.4 414.9,211.6 415.0,212.7 415.0,213.9 415.0,215.1 415.1,216.3 415.1,217.5 415.2,218.7 415.2,219.8 415.3,221.0 415.3,222.2 415.4,223.4 415.4,224.6 415.5,225.8 415.8,226.9 416.0,228.1 416.2,229.3 A1.00,1.00 0 0 0 418.3,229.2 L 418.4,228.0 418.6,226.8 418.7,225.6 418.7,224.5 418.7,223.3 418.7,222.1 418.6,220.9 418.6,219.7 418.5,218.5 418.5,217.3 418.4,216.2 418.4,215.0 418.4,213.8 418.3,212.6 418.3,211.4 418.1,210.3 417.9,209.1 A1.42,1.42 0 0 0 415.1,209.2 Z"/><path d="M406.6,240.2 407.7,239.9 408.9,239.5 410.0,239.0 411.1,238.6 412.1,238.2 413.2,237.7 414.3,237.3 415.4,236.8 416.5,236.4 417.6,235.9 418.7,235.5 419.8,235.0 420.9,234.6 421.9,234.1 423.0,233.7 424.1,233.2 425.2,232.8 426.3,232.3 427.3,231.7 428.3,231.1 429.3,230.5 A0.90,0.90 0 0 0 428.7,228.8 L 427.5,229.1 426.3,229.4 425.2,229.6 424.1,230.0 423.0,230.5 421.9,230.9 420.8,231.4 419.7,231.8 418.6,232.3 417.5,232.7 416.4,233.1 415.4,233.6 414.3,234.0 413.2,234.5 412.1,234.9 411.0,235.4 409.9,235.8 408.8,236.3 407.7,236.7 406.7,237.3 405.6,237.8 A1.27,1.27 0 0 0 406.6,240.2 Z"/><path d="M427.8,236.3 426.7,236.7 425.6,237.1 424.5,237.5 423.3,238.0 422.2,238.6 421.1,239.3 420.0,240.0 419.1,240.8 418.1,241.6 417.2,242.5 416.3,243.5 415.4,244.7 414.8,246.4 415.1,248.3 415.8,249.7 416.9,251.1 418.8,251.9 420.6,251.7 421.9,251.2 423.1,250.6 424.2,249.9 425.3,249.2 426.4,248.3 427.3,247.2 428.1,246.1 428.6,245.0 429.0,243.8 429.4,242.7 429.9,241.6 A1.00,1.00 0 0 0 428.1,240.6 L 427.3,241.5 426.6,242.5 425.9,243.4 425.2,244.3 424.7,245.2 424.0,245.9 423.3,246.5 422.4,247.1 421.5,247.6 420.6,248.1 419.8,248.4 419.2,248.5 418.9,248.4 418.6,247.9 418.3,247.3 418.2,246.8 418.4,246.3 418.9,245.6 419.6,244.9 420.4,244.1 421.2,243.4 422.1,242.7 422.9,242.1 423.8,241.5 424.8,241.1 425.8,240.6 426.9,240.1 428.0,239.6 429.0,238.9 A1.42,1.42 0 0 0 427.8,236.3 Z"/><path d="M427.6,233.7 427.6,234.8 427.6,236.0 427.7,237.1 427.8,238.3 428.0,239.4 428.1,240.5 428.2,241.7 428.3,242.8 428.5,244.0 428.6,245.1 428.8,246.2 429.1,247.4 429.4,248.5 429.8,249.6 A1.00,1.00 0 0 0 431.7,249.4 L 431.8,248.2 431.9,247.1 431.9,245.9 431.9,244.7 431.8,243.6 431.7,242.5 431.5,241.3 431.4,240.2 431.3,239.0 431.2,237.9 431.0,236.7 430.9,235.6 430.7,234.5 430.4,233.3 A1.42,1.42 0 0 0 427.6,233.7 Z"/><path d="M438.7,229.6 438.5,230.7 438.3,231.9 438.2,233.1 438.1,234.3 438.0,235.5 438.0,236.7 437.9,237.9 437.8,239.1 437.8,240.3 437.7,241.6 437.8,242.8 437.8,244.1 437.9,245.3 438.0,246.5 438.2,247.8 438.6,249.3 440.0,251.2 442.5,251.1 443.9,250.1 444.8,249.2 445.5,248.2 446.3,247.3 447.0,246.4 A1.00,1.00 0 0 0 445.7,244.9 L 444.7,245.5 443.6,246.2 442.6,246.9 441.8,247.5 441.2,248.0 441.5,248.2 441.7,248.1 441.5,247.2 441.4,246.1 441.3,245.0 441.2,243.8 441.1,242.7 441.1,241.6 441.1,240.4 441.2,239.2 441.2,238.1 441.3,236.9 441.4,235.7 441.5,234.5 441.6,233.3 441.7,232.1 441.6,230.9 441.5,229.7 A1.42,1.42 0 0 0 438.7,229.6 Z"/><path d="M435.4,242.5 436.6,242.5 437.7,242.5 438.7,242.3 439.8,242.2 440.9,242.0 442.0,241.9 443.0,241.5 444.1,241.1 445.1,240.7 A1.00,1.00 0 0 0 444.9,238.8 L 443.7,238.7 442.6,238.6 441.5,238.5 440.4,238.7 439.3,238.9 438.3,239.0 437.2,239.2 436.1,239.4 435.1,239.7 A1.42,1.42 0 0 0 435.4,242.5 Z"/><path d="M515.1,244.3 515.7,243.3 516.2,242.1 516.6,241.0 517.0,240.0 517.4,239.0 517.9,238.2 518.5,237.6 519.2,237.2 520.0,236.7 521.0,236.4 522.0,236.1 523.0,235.9 524.0,235.9 525.0,235.9 525.9,236.0 526.8,236.3 527.7,236.8 528.5,237.3 529.4,238.0 530.1,238.7 530.8,239.4 531.3,240.2 531.7,241.0 532.0,241.9 532.2,242.9 532.3,244.0 532.3,245.0 532.3,246.1 532.1,247.1 531.9,248.2 531.6,249.2 531.3,250.1 530.8,251.0 530.2,251.9 529.6,252.7 528.9,253.6 528.1,254.3 527.3,255.1 526.5,255.7 525.6,256.3 524.7,256.9 523.7,257.4 522.7,257.8 521.7,258.2 520.8,258.4 520.2,258.5 519.9,258.3 519.5,257.9 519.2,257.2 519.1,256.8 519.3,256.5 519.9,256.1 520.7,255.6 521.7,255.1 522.7,254.7 523.8,254.3 524.8,253.9 525.8,253.7 526.8,253.5 528.0,253.4 529.1,253.2 530.3,252.9 531.5,252.6 532.6,252.2 A1.00,1.00 0 0 0 532.4,250.3 L 531.2,250.2 530.0,250.1 528.8,250.0 527.6,250.0 526.4,250.2 525.1,250.4 523.8,250.7 522.6,251.1 521.4,251.6 520.3,252.1 519.1,252.7 517.9,253.4 516.7,254.4 515.8,256.2 516.0,258.1 516.7,259.6 517.8,261.0 519.6,261.8 521.3,261.7 522.7,261.4 524.0,260.9 525.2,260.4 526.3,259.8 527.4,259.2 528.5,258.4 529.5,257.6 530.4,256.7 531.3,255.8 532.2,254.8 533.0,253.8 533.7,252.7 534.3,251.5 534.8,250.3 535.2,249.0 535.4,247.7 535.6,246.4 535.7,245.1 535.6,243.8 535.5,242.5 535.3,241.1 534.9,239.8 534.2,238.5 533.4,237.3 532.5,236.3 531.5,235.4 530.5,234.6 529.3,233.9 528.1,233.2 526.8,232.8 525.3,232.5 523.9,232.5 522.6,232.6 521.3,232.8 520.0,233.2 518.7,233.6 517.5,234.3 516.3,235.1 515.2,236.2 514.5,237.5 513.9,238.7 513.5,239.9 513.1,241.0 512.8,242.1 512.4,243.2 A1.42,1.42 0 0 0 515.1,244.3 Z"/><path d="M550.7,243.8 549.8,243.1 548.9,242.3 547.8,241.6 546.3,240.9 544.3,241.0 542.7,241.8 541.6,242.9 540.7,244.0 540.0,245.3 539.6,246.9 539.7,248.6 540.2,250.1 541.0,251.5 542.3,252.7 544.0,253.2 545.5,253.3 547.0,253.1 548.4,252.7 549.9,251.8 551.0,250.4 551.4,248.9 551.5,247.6 551.5,246.4 551.6,245.3 A1.00,1.00 0 0 0 549.7,244.7 L 549.2,245.9 548.7,247.0 548.3,248.1 548.0,248.9 547.7,249.3 547.1,249.6 546.3,249.8 545.4,250.0 544.5,249.9 544.0,249.8 543.6,249.4 543.2,248.7 543.0,247.9 542.9,247.2 543.1,246.6 543.5,245.9 544.1,245.1 544.7,244.5 545.2,244.2 545.6,244.2 546.2,244.5 547.1,245.1 548.1,245.7 549.3,246.2 A1.42,1.42 0 0 0 550.7,243.8 Z"/><path d="M548.1,244.3 548.4,245.5 548.9,246.6 549.4,247.7 550.0,248.7 550.5,249.7 550.9,250.7 551.2,251.7 551.5,252.7 551.6,253.7 551.7,254.8 551.7,255.9 551.7,257.0 551.6,258.1 551.4,259.1 551.1,260.1 550.8,261.0 550.3,261.8 549.8,262.6 549.1,263.3 548.4,263.9 547.7,264.3 546.9,264.5 545.9,264.5 544.8,264.6 543.6,264.8 542.4,265.0 541.2,265.2 A1.00,1.00 0 0 0 541.3,267.3 L 542.5,267.4 543.6,267.6 544.8,267.8 546.1,267.9 547.4,267.8 548.9,267.4 550.2,266.7 551.4,265.8 552.4,264.7 553.2,263.6 553.8,262.4 554.3,261.1 554.7,259.8 554.9,258.5 555.0,257.2 555.1,255.9 555.0,254.7 554.9,253.4 554.8,252.1 554.4,250.8 554.0,249.5 553.5,248.4 553.0,247.2 552.4,246.2 551.9,245.1 551.3,244.1 550.7,243.2 A1.42,1.42 0 0 0 548.1,244.3 Z"/><path d="M515.6,266.9 516.7,267.0 517.9,267.2 519.0,267.2 520.2,267.3 521.4,267.4 522.5,267.4 523.7,267.5 524.9,267.5 526.0,267.6 527.2,267.6 528.4,267.7 529.5,267.8 530.7,267.8 531.8,267.9 533.0,268.0 534.2,268.1 535.3,268.1 536.5,268.2 537.6,268.3 538.8,268.4 540.0,268.5 541.1,268.6 542.3,268.7 543.4,268.8 544.6,268.8 545.8,268.9 547.0,268.8 548.1,268.7 549.3,268.6 A0.87,0.87 0 0 0 549.4,266.9 L 548.3,266.6 547.1,266.4 546.0,266.1 544.8,265.9 543.7,265.9 542.5,265.8 541.3,265.7 540.2,265.6 539.0,265.5 537.9,265.4 536.7,265.3 535.5,265.2 534.4,265.2 533.2,265.1 532.0,265.0 530.9,264.9 529.7,264.9 528.5,264.8 527.3,264.8 526.2,264.7 525.0,264.6 523.8,264.6 522.7,264.5 521.5,264.5 520.4,264.4 519.2,264.4 518.0,264.3 516.9,264.3 515.7,264.4 A1.23,1.23 0 0 0 515.6,266.9 Z"/><path d="M517.1,280.5 518.2,279.9 519.2,279.3 520.1,278.6 521.0,277.9 521.8,277.5 522.8,277.1 523.8,276.8 524.9,276.5 525.9,276.4 527.0,276.3 528.0,276.3 528.8,276.4 529.6,276.7 530.2,277.2 530.9,277.8 531.4,278.6 531.8,279.4 532.1,280.2 532.1,281.0 531.9,281.9 531.6,282.8 531.2,283.8 530.7,284.7 530.1,285.6 529.5,286.3 528.7,287.0 527.9,287.7 527.0,288.3 526.1,288.8 525.2,289.3 524.4,289.6 523.5,289.6 522.6,289.5 521.8,289.3 521.5,289.2 521.5,289.0 521.6,288.4 521.9,287.6 522.3,286.9 522.9,286.5 523.7,286.2 524.6,285.9 525.7,285.7 526.9,285.5 528.0,285.4 529.0,285.3 530.1,285.2 531.3,285.1 532.5,284.9 533.7,284.8 A1.00,1.00 0 0 0 533.8,282.7 L 532.6,282.5 531.4,282.3 530.2,282.0 528.9,282.0 527.6,282.0 526.4,282.2 525.1,282.4 523.9,282.7 522.6,283.0 521.1,283.6 519.8,284.7 518.9,286.1 518.4,287.5 518.2,289.2 518.8,291.2 520.5,292.4 522.0,292.8 523.5,293.0 525.0,292.8 526.4,292.4 527.7,291.8 528.8,291.1 529.9,290.4 531.0,289.6 531.9,288.6 532.8,287.6 533.6,286.4 534.2,285.3 534.8,284.0 535.2,282.7 535.4,281.3 535.4,279.7 535.0,278.2 534.3,276.9 533.5,275.7 532.4,274.6 531.2,273.7 529.7,273.1 528.2,272.9 526.8,272.9 525.5,273.0 524.2,273.3 523.0,273.6 521.7,273.9 520.4,274.4 519.2,275.1 518.1,275.9 517.1,276.6 516.3,277.4 515.4,278.2 A1.42,1.42 0 0 0 517.1,280.5 Z"/><path d="M549.3,276.3 548.1,276.3 547.0,276.2 545.7,276.3 544.3,276.5 542.9,277.1 541.6,277.9 540.6,278.8 539.7,279.9 538.9,281.3 538.5,283.0 538.8,284.6 539.3,286.0 540.0,287.2 541.1,288.3 542.5,289.0 543.7,289.3 544.8,289.7 A1.00,1.00 0 0 0 545.7,287.8 L 544.7,287.2 543.8,286.6 543.2,286.0 542.8,285.3 542.3,284.5 542.0,283.7 541.9,283.0 542.0,282.5 542.4,281.8 543.0,281.2 543.7,280.5 544.4,280.0 545.2,279.8 546.1,279.6 547.1,279.6 548.3,279.4 549.5,279.2 A1.42,1.42 0 0 0 549.3,276.3 Z"/><circle cx="576.2" cy="241.2" r="2.30"/><path d="M569.9,255.5 570.1,256.6 570.4,257.7 570.8,258.8 571.1,259.9 571.5,261.0 571.8,262.1 572.2,263.2 572.6,264.3 573.0,265.3 573.6,266.4 574.1,267.4 574.7,268.4 A1.01,1.01 0 0 0 576.6,267.8 L 576.4,266.7 576.2,265.5 576.0,264.3 575.8,263.2 575.4,262.1 575.0,261.0 574.7,259.9 574.3,258.8 573.9,257.8 573.6,256.7 573.1,255.6 572.6,254.5 A1.42,1.42 0 0 0 569.9,255.5 Z"/><path d="M572.5,257.5 573.7,257.1 574.8,256.6 575.8,256.0 576.8,255.5 577.7,255.1 578.5,254.8 579.3,254.8 580.2,255.0 581.1,255.2 582.3,255.4 583.5,255.7 584.7,255.9 A1.00,1.00 0 0 0 585.3,254.1 L 584.3,253.5 583.3,252.9 582.3,252.2 581.0,251.7 579.5,251.5 578.0,251.5 576.5,251.9 575.3,252.5 574.2,253.1 573.1,253.7 572.2,254.3 571.2,255.0 A1.42,1.42 0 0 0 572.5,257.5 Z"/><path d="M597.4,262.0 598.6,262.3 599.8,262.4 601.0,262.5 602.2,262.5 603.4,262.6 604.6,262.6 605.8,262.7 607.0,262.7 608.2,262.5 609.4,262.4 610.6,262.3 A1.00,1.00 0 0 0 610.7,260.2 L 609.5,260.0 608.3,259.7 607.1,259.5 605.9,259.3 604.7,259.3 603.5,259.2 602.4,259.2 601.2,259.1 600.0,259.1 598.8,259.1 597.6,259.2 A1.42,1.42 0 0 0 597.4,262.0 Z"/><path d="M603.0,253.2 602.9,254.4 602.9,255.5 603.0,256.6 603.0,257.7 603.1,258.9 603.2,260.0 603.3,261.1 603.4,262.2 603.5,263.4 603.5,264.5 603.6,265.6 603.8,266.7 604.1,267.9 604.4,269.0 604.6,270.1 A1.00,1.00 0 0 0 606.6,269.9 L 606.7,268.8 606.8,267.6 606.9,266.5 607.0,265.4 606.9,264.3 606.8,263.1 606.7,262.0 606.6,260.9 606.5,259.8 606.5,258.6 606.4,257.5 606.3,256.4 606.2,255.3 606.0,254.1 605.8,253.0 A1.42,1.42 0 0 0 603.0,253.2 Z"/><path d="M627.5,243.9 628.2,242.9 628.9,241.8 629.4,240.8 630.0,240.0 630.5,239.3 631.2,238.7 632.0,238.2 633.0,237.8 634.0,237.5 635.0,237.3 635.9,237.2 636.8,237.2 637.7,237.4 638.5,237.8 639.4,238.3 640.2,238.9 640.9,239.6 641.6,240.3 642.1,241.1 642.5,241.9 642.7,242.9 642.9,243.9 642.9,244.9 642.9,246.0 642.9,247.1 642.7,248.2 642.5,249.3 642.3,250.3 642.0,251.3 641.6,252.3 641.1,253.3 640.6,254.2 640.0,255.2 639.3,256.0 638.7,256.8 637.9,257.6 637.2,258.2 636.4,258.7 635.5,259.1 634.5,259.4 633.4,259.7 632.4,259.9 631.3,260.0 630.3,260.0 629.3,259.9 628.4,259.8 627.7,259.5 627.0,258.9 626.4,258.3 626.1,257.8 626.1,257.7 626.4,257.5 627.2,256.9 628.1,256.4 629.0,256.0 630.1,255.5 631.1,255.2 632.1,254.9 633.1,254.7 634.2,254.6 635.4,254.5 636.5,254.4 637.7,254.1 638.9,253.8 640.1,253.5 A1.00,1.00 0 0 0 639.9,251.5 L 638.7,251.4 637.5,251.3 636.3,251.2 635.1,251.2 633.9,251.3 632.7,251.4 631.4,251.6 630.1,252.0 628.8,252.4 627.7,252.9 626.5,253.5 625.4,254.1 624.2,255.0 623.0,256.5 622.9,258.7 623.7,260.3 624.7,261.4 625.9,262.3 627.4,263.0 628.8,263.3 630.2,263.3 631.5,263.3 632.8,263.2 634.1,263.0 635.4,262.7 636.7,262.2 637.9,261.7 639.1,260.9 640.2,260.1 641.1,259.1 642.0,258.1 642.7,257.0 643.4,256.0 644.1,254.8 644.6,253.7 645.1,252.5 645.5,251.2 645.8,250.0 646.0,248.7 646.2,247.4 646.3,246.1 646.3,244.8 646.2,243.5 646.0,242.2 645.6,240.8 645.0,239.5 644.3,238.3 643.3,237.2 642.3,236.3 641.2,235.5 640.0,234.8 638.7,234.2 637.3,233.9 635.8,233.8 634.4,234.0 633.1,234.3 631.8,234.7 630.5,235.2 629.3,235.9 628.2,236.9 627.2,238.0 626.5,239.2 625.9,240.3 625.5,241.3 625.0,242.4 A1.42,1.42 0 0 0 627.5,243.9 Z"/><path d="M657.9,247.8 657.3,246.9 656.7,245.9 655.9,244.9 655.0,243.9 653.2,242.8 650.9,243.3 649.7,244.6 649.0,245.8 648.4,247.1 647.9,248.4 647.7,249.9 647.8,251.4 648.2,252.8 648.7,254.1 649.3,255.3 650.2,256.5 651.7,257.7 653.8,257.8 655.3,257.1 656.3,256.2 657.1,255.4 658.0,254.6 A1.00,1.00 0 0 0 657.0,252.9 L 655.8,253.3 654.7,253.9 653.7,254.3 653.1,254.6 652.9,254.6 652.7,254.3 652.2,253.6 651.8,252.7 651.4,251.8 651.1,250.8 651.1,250.0 651.2,249.2 651.5,248.3 651.9,247.4 652.4,246.6 652.7,246.1 652.6,246.1 652.7,246.4 653.4,247.1 654.0,248.0 654.9,248.9 655.8,249.7 A1.42,1.42 0 0 0 657.9,247.8 Z"/><path d="M654.3,245.5 654.5,246.7 654.9,247.8 655.3,248.9 655.8,250.0 656.2,251.1 656.6,252.2 657.0,253.3 657.3,254.3 657.5,255.4 657.7,256.5 657.9,257.6 658.0,258.7 658.0,259.9 658.1,261.0 658.1,262.1 658.0,263.2 657.9,264.3 657.8,265.3 657.5,266.2 657.1,267.0 656.6,267.7 655.9,268.4 655.2,269.0 654.4,269.4 653.7,269.6 653.1,269.5 652.3,269.2 651.4,268.7 650.5,268.1 649.5,267.5 648.4,267.0 647.3,266.5 646.1,266.0 A1.00,1.00 0 0 0 645.1,267.7 L 646.0,268.5 646.8,269.3 647.7,270.1 648.6,270.9 649.7,271.6 650.9,272.2 652.3,272.8 654.0,272.9 655.6,272.5 657.0,271.8 658.1,270.9 659.1,269.9 660.0,268.7 660.6,267.4 661.0,266.0 661.3,264.7 661.4,263.4 661.4,262.2 661.4,260.9 661.4,259.7 661.3,258.4 661.2,257.2 661.0,256.0 660.8,254.7 660.5,253.5 660.1,252.3 659.7,251.1 659.3,249.9 658.9,248.8 658.4,247.7 658.0,246.6 657.5,245.6 657.0,244.5 A1.42,1.42 0 0 0 654.3,245.5 Z"/><path d="M624.4,270.2 625.6,270.3 626.8,270.4 628.0,270.4 629.1,270.4 630.3,270.4 631.5,270.4 632.7,270.4 633.9,270.4 635.1,270.2 636.3,270.0 637.5,269.8 A1.00,1.00 0 0 0 637.5,267.7 L 636.3,267.5 635.1,267.3 633.9,267.1 632.7,267.1 631.5,267.1 630.3,267.1 629.1,267.1 628.0,267.1 626.8,267.1 625.6,267.2 624.4,267.3 A1.42,1.42 0 0 0 624.4,270.2 Z"/><path d="M662.6,269.5 663.8,269.6 664.9,269.6 666.1,269.5 667.2,269.4 668.4,269.0 669.5,268.5 A1.00,1.00 0 0 0 669.3,266.5 L 668.1,266.2 666.9,266.0 665.8,266.1 664.6,266.2 663.5,266.4 662.4,266.7 A1.42,1.42 0 0 0 662.6,269.5 Z"/><path d="M626.9,281.8 627.6,280.7 628.1,279.6 628.4,278.5 628.8,277.6 629.3,276.8 629.8,276.3 630.5,275.9 631.4,275.6 632.4,275.3 633.4,275.2 634.5,275.1 635.5,275.1 636.4,275.2 637.3,275.5 638.2,275.9 639.1,276.4 639.9,277.0 640.6,277.7 641.3,278.4 641.8,279.2 642.2,280.0 642.4,280.8 642.4,281.8 642.4,282.8 642.2,283.8 641.9,284.8 641.6,285.7 641.2,286.5 640.6,287.2 639.9,287.8 639.0,288.4 638.1,289.0 637.2,289.4 636.2,289.8 635.3,290.1 634.4,290.2 633.5,290.2 632.7,290.0 632.2,289.9 632.3,290.3 632.6,290.1 633.2,289.5 633.9,289.0 634.7,288.7 635.6,288.5 636.7,288.2 637.8,287.9 639.0,287.6 640.1,287.2 A1.00,1.00 0 0 0 639.9,285.3 L 638.7,285.2 637.5,285.1 636.3,285.1 635.0,285.2 633.6,285.5 632.2,286.1 631.0,287.0 630.0,288.1 629.0,289.9 629.9,292.3 631.6,293.2 633.1,293.5 634.5,293.6 636.0,293.4 637.3,293.0 638.6,292.5 639.8,291.9 640.9,291.2 642.0,290.4 643.0,289.5 643.9,288.4 644.6,287.1 645.1,285.8 645.5,284.5 645.7,283.2 645.8,281.8 645.7,280.4 645.4,278.9 644.7,277.5 643.9,276.4 643.0,275.3 642.0,274.4 640.9,273.6 639.8,272.9 638.5,272.3 637.1,271.9 635.7,271.8 634.4,271.7 633.0,271.8 631.7,272.1 630.4,272.4 629.1,272.9 627.8,273.6 626.6,274.8 625.8,276.1 625.3,277.3 624.9,278.5 624.6,279.6 624.3,280.7 A1.42,1.42 0 0 0 626.9,281.8 Z"/><path d="M650.3,277.1 650.9,278.1 651.6,279.0 652.3,279.9 653.1,280.9 653.8,281.8 654.6,282.7 655.3,283.6 656.1,284.5 656.8,285.4 657.6,286.4 658.3,287.3 659.1,288.2 660.0,289.0 660.9,289.8 661.8,290.6 A0.90,0.90 0 0 0 663.2,289.4 L 662.6,288.4 662.0,287.4 661.4,286.3 660.7,285.4 659.9,284.5 659.2,283.6 658.4,282.6 657.7,281.7 656.9,280.8 656.2,279.9 655.4,279.0 654.7,278.1 653.9,277.1 653.1,276.3 652.2,275.4 A1.27,1.27 0 0 0 650.3,277.1 Z"/><path d="M660.1,275.1 659.5,276.1 658.9,277.2 658.4,278.3 657.9,279.3 657.4,280.4 656.9,281.5 656.4,282.6 655.9,283.7 655.4,284.8 655.0,285.9 654.5,286.9 654.0,288.0 653.5,289.1 653.0,290.2 652.5,291.3 652.0,292.4 651.7,293.6 651.4,294.7 651.1,295.9 A0.90,0.90 0 0 0 652.7,296.6 L 653.4,295.6 654.0,294.6 654.7,293.6 655.2,292.5 655.7,291.4 656.2,290.4 656.7,289.3 657.2,288.2 657.7,287.1 658.2,286.0 658.7,284.9 659.2,283.8 659.7,282.8 660.1,281.7 660.6,280.6 661.1,279.5 661.6,278.4 662.0,277.3 662.4,276.2 A1.27,1.27 0 0 0 660.1,275.1 Z"/><circle cx="667.5" cy="282.5" r="2.00"/><path d="M668.1,290.7 668.1,291.9 668.1,293.1 668.2,294.3 668.2,295.5 668.4,296.7 668.5,297.9 668.7,298.9 668.7,299.7 668.5,300.2 668.1,300.6 667.5,300.8 666.9,300.7 666.0,300.4 665.2,300.0 664.5,299.5 664.0,299.2 663.8,299.3 664.3,298.9 665.2,298.2 A0.90,0.90 0 0 0 664.3,296.6 L 663.2,297.0 661.7,297.9 661.3,300.2 662.4,301.7 663.6,302.6 664.9,303.2 666.3,303.6 667.9,303.8 669.6,303.2 670.9,302.0 671.6,300.3 671.7,298.8 671.5,297.5 671.3,296.3 671.2,295.2 671.1,294.0 671.1,292.9 670.9,291.7 670.6,290.5 A1.27,1.27 0 0 0 668.1,290.7 Z"/><path d="M682.0,249.0 682.6,250.0 683.3,251.0 684.0,251.9 684.8,252.8 685.5,253.8 686.2,254.7 687.0,255.6 687.7,256.5 688.4,257.4 689.2,258.3 689.9,259.2 690.7,260.2 691.4,261.1 692.1,262.0 692.9,262.9 693.6,263.8 694.3,264.7 695.1,265.6 695.8,266.6 696.6,267.5 697.3,268.4 698.0,269.3 698.8,270.2 699.5,271.1 700.3,272.0 701.2,272.8 702.1,273.6 703.0,274.4 A1.00,1.00 0 0 0 704.5,273.1 L 703.9,272.1 703.4,271.0 702.8,270.0 702.1,269.0 701.4,268.1 700.6,267.2 699.9,266.3 699.2,265.4 698.4,264.5 697.7,263.5 697.0,262.6 696.2,261.7 695.5,260.8 694.7,259.9 694.0,259.0 693.3,258.1 692.5,257.1 691.8,256.2 691.1,255.3 690.3,254.4 689.6,253.5 688.8,252.6 688.1,251.7 687.4,250.7 686.6,249.8 685.9,248.9 685.1,248.1 684.2,247.2 A1.42,1.42 0 0 0 682.0,249.0 Z"/><path d="M702.0,248.6 701.2,249.5 700.4,250.4 699.7,251.3 699.1,252.3 698.4,253.3 697.8,254.2 697.1,255.2 696.4,256.2 695.8,257.1 695.1,258.1 694.4,259.1 693.8,260.0 693.1,261.0 692.4,262.0 691.8,262.9 691.1,263.9 690.4,264.9 689.8,265.8 689.1,266.8 688.4,267.8 687.8,268.7 687.1,269.7 686.4,270.7 685.8,271.7 685.1,272.6 684.4,273.6 683.8,274.6 683.2,275.6 682.7,276.6 682.2,277.7 681.7,278.8 A1.00,1.00 0 0 0 683.3,279.9 L 684.2,279.1 685.0,278.2 685.8,277.4 686.5,276.5 687.2,275.5 687.9,274.5 688.5,273.5 689.2,272.6 689.9,271.6 690.5,270.6 691.2,269.7 691.9,268.7 692.5,267.7 693.2,266.8 693.9,265.8 694.5,264.8 695.2,263.9 695.9,262.9 696.5,261.9 697.2,261.0 697.9,260.0 698.5,259.0 699.2,258.1 699.8,257.1 700.5,256.1 701.2,255.2 701.8,254.2 702.5,253.2 703.2,252.3 703.8,251.2 704.3,250.2 A1.42,1.42 0 0 0 702.0,248.6 Z"/><circle cx="709.4" cy="266.9" r="2.20"/><path d="M708.6,275.0 708.5,276.2 708.4,277.4 708.4,278.6 708.4,279.8 708.4,281.0 708.5,282.2 708.6,283.4 708.6,284.6 708.7,285.6 708.6,286.4 708.4,287.0 708.0,287.3 707.5,287.5 706.9,287.4 706.1,287.1 705.3,286.7 704.6,286.2 704.2,286.0 703.9,286.2 704.3,285.9 705.3,285.1 A1.01,1.01 0 0 0 704.2,283.4 L 703.1,283.8 701.5,284.8 701.2,287.1 702.3,288.7 703.5,289.6 704.8,290.3 706.3,290.7 708.0,290.8 709.8,290.2 711.1,288.9 711.8,287.3 712.0,285.7 712.0,284.4 711.9,283.2 711.8,282.0 711.8,280.9 711.8,279.7 711.8,278.5 711.7,277.3 711.6,276.1 711.4,275.0 A1.42,1.42 0 0 0 708.6,275.0 Z"/></g>
<g fill="#a8181c" stroke="none"><path d="M73.7,283.6 72.6,283.6 71.5,283.5 70.2,283.5 68.9,283.6 67.5,283.9 66.0,284.5 64.8,285.5 63.9,286.6 63.1,287.7 62.5,288.8 61.9,290.1 61.5,291.4 61.2,292.8 61.1,294.3 61.4,295.8 62.0,297.1 62.6,298.3 63.4,299.5 64.4,300.5 65.8,301.4 67.4,301.9 69.0,301.9 70.4,301.6 71.7,301.2 73.0,300.7 74.3,299.8 75.4,298.5 75.9,297.0 76.3,295.7 76.5,294.4 76.5,293.2 76.5,292.0 76.4,290.9 76.5,289.7 A0.99,0.99 0 0 0 74.5,289.3 L 74.1,290.5 73.7,291.7 73.4,292.8 73.2,294.0 73.0,295.0 72.8,296.0 72.5,296.8 72.1,297.3 71.4,297.8 70.6,298.2 69.6,298.4 68.7,298.6 67.8,298.6 67.2,298.4 66.6,298.0 66.0,297.4 65.4,296.6 65.0,295.7 64.6,294.8 64.4,294.0 64.4,293.1 64.6,292.2 65.0,291.3 65.4,290.3 65.9,289.4 66.5,288.6 67.1,287.9 67.7,287.4 68.4,287.1 69.4,286.9 70.4,286.8 71.6,286.8 72.8,286.7 74.0,286.4 A1.40,1.40 0 0 0 73.7,283.6 Z"/><path d="M73.2,285.4 73.4,286.6 73.6,287.8 74.0,288.9 74.3,290.1 74.7,291.2 75.0,292.3 75.4,293.5 75.7,294.6 76.0,295.7 76.2,296.9 76.5,298.0 76.8,299.2 77.1,300.4 77.3,301.5 77.5,302.6 77.7,303.7 77.8,304.8 77.9,305.9 77.9,307.0 77.7,308.0 77.5,309.1 77.3,310.2 76.9,311.2 76.5,312.1 76.1,313.0 75.5,313.8 74.8,314.5 74.0,315.1 73.1,315.6 72.2,316.1 71.3,316.5 70.4,316.7 69.5,316.7 68.7,316.5 67.8,316.2 66.7,315.9 65.5,315.5 64.3,315.2 A0.99,0.99 0 0 0 63.5,317.0 L 64.5,317.7 65.4,318.4 66.5,319.1 67.7,319.7 69.3,320.0 70.8,319.9 72.2,319.6 73.5,319.1 74.7,318.5 75.9,317.8 77.0,316.9 78.0,315.9 78.8,314.8 79.5,313.6 80.0,312.3 80.4,311.1 80.8,309.8 81.0,308.5 81.2,307.2 81.2,305.9 81.1,304.6 81.0,303.3 80.8,302.0 80.5,300.8 80.3,299.6 80.0,298.4 79.7,297.3 79.4,296.1 79.2,294.9 78.9,293.7 78.5,292.6 78.2,291.4 77.8,290.2 77.5,289.1 77.1,287.9 76.8,286.8 76.3,285.7 75.8,284.6 A1.40,1.40 0 0 0 73.2,285.4 Z"/><path d="M91.4,260.7 90.4,261.3 89.5,262.0 88.6,262.8 87.6,263.6 86.7,264.5 85.8,265.6 85.1,266.8 84.6,267.9 84.1,269.1 83.7,270.3 83.3,271.6 83.1,272.8 82.8,274.0 82.6,275.2 82.5,276.4 82.4,277.7 82.3,278.9 82.3,280.1 82.3,281.3 82.3,282.6 82.4,283.8 82.5,285.0 82.6,286.2 82.8,287.5 83.0,288.7 83.3,289.9 83.7,291.1 84.1,292.4 84.7,293.6 85.3,294.7 86.0,295.8 86.8,296.8 87.5,297.7 88.3,298.7 89.1,299.5 89.9,300.4 90.7,301.4 91.5,302.3 92.4,303.1 93.3,304.0 94.2,304.7 95.2,305.4 96.1,306.1 97.1,306.8 A0.93,0.93 0 0 0 98.4,305.5 L 97.7,304.5 96.9,303.5 96.2,302.6 95.4,301.7 94.6,300.9 93.8,300.1 93.0,299.3 92.2,298.4 91.5,297.5 90.7,296.6 89.9,295.7 89.2,294.9 88.6,294.0 88.0,293.1 87.4,292.2 87.0,291.2 86.6,290.2 86.3,289.1 86.1,288.1 85.9,286.9 85.7,285.8 85.6,284.7 85.5,283.6 85.4,282.4 85.4,281.3 85.4,280.2 85.4,279.0 85.5,277.9 85.6,276.8 85.7,275.6 85.9,274.5 86.1,273.4 86.3,272.3 86.6,271.2 87.0,270.2 87.4,269.2 87.8,268.2 88.4,267.4 89.0,266.6 89.7,265.9 90.6,265.1 91.5,264.4 92.4,263.5 93.1,262.6 A1.32,1.32 0 0 0 91.4,260.7 Z"/><path d="M101.1,280.3 101.2,281.4 101.3,282.6 101.6,283.7 101.8,284.9 102.0,286.0 102.2,287.1 102.5,288.3 102.8,289.4 103.2,290.5 103.6,291.6 104.0,292.7 A0.99,0.99 0 0 0 106.0,292.3 L 105.9,291.1 105.9,290.0 105.9,288.8 105.7,287.6 105.5,286.5 105.3,285.4 105.0,284.2 104.8,283.1 104.6,281.9 104.2,280.8 103.9,279.7 A1.40,1.40 0 0 0 101.1,280.3 Z"/><path d="M104.6,283.6 105.6,282.9 106.6,282.2 107.4,281.5 108.1,280.9 108.8,280.5 109.5,280.3 110.2,280.3 111.2,280.3 112.4,280.3 113.6,280.3 A0.99,0.99 0 0 0 113.9,278.4 L 112.9,278.0 111.8,277.5 110.6,277.0 109.1,277.0 107.5,277.4 106.3,278.2 105.2,279.0 104.4,279.8 103.6,280.6 102.9,281.4 A1.40,1.40 0 0 0 104.6,283.6 Z"/><path d="M116.1,287.4 115.9,288.5 115.7,289.6 115.6,290.7 115.5,291.8 115.5,292.9 115.5,294.0 115.7,295.1 115.9,296.2 A0.99,0.99 0 0 0 117.9,296.3 L 118.2,295.2 118.6,294.2 118.8,293.1 118.8,292.0 118.9,290.9 119.0,289.8 119.0,288.7 118.9,287.6 A1.40,1.40 0 0 0 116.1,287.4 Z"/><path d="M124.4,267.0 124.9,268.1 125.4,269.1 126.0,270.1 126.6,271.1 127.2,272.1 127.8,273.1 128.4,274.1 129.0,275.1 129.7,276.1 130.3,277.1 130.9,278.1 131.5,279.1 132.1,280.1 132.7,281.1 133.3,282.1 133.9,283.1 134.5,284.1 135.1,285.1 135.7,286.1 136.3,287.1 136.9,288.1 137.5,289.1 138.1,290.1 138.7,291.1 139.3,292.1 139.9,293.1 140.6,294.1 141.4,295.0 142.1,295.9 142.9,296.8 A0.99,0.99 0 0 0 144.6,295.7 L 144.2,294.6 143.7,293.5 143.3,292.4 142.7,291.4 142.1,290.4 141.5,289.4 140.9,288.4 140.3,287.4 139.7,286.4 139.1,285.4 138.5,284.4 137.9,283.4 137.3,282.4 136.7,281.4 136.1,280.4 135.5,279.4 134.9,278.4 134.3,277.4 133.7,276.4 133.1,275.4 132.5,274.4 131.9,273.4 131.3,272.4 130.7,271.4 130.1,270.4 129.5,269.4 128.8,268.4 128.2,267.4 127.6,266.4 126.8,265.5 A1.40,1.40 0 0 0 124.4,267.0 Z"/><path d="M141.9,265.5 141.2,266.5 140.5,267.4 139.9,268.4 139.3,269.4 138.7,270.4 138.1,271.4 137.5,272.4 136.9,273.4 136.3,274.4 135.7,275.4 135.1,276.5 134.5,277.5 133.9,278.5 133.3,279.5 132.7,280.5 132.1,281.5 131.5,282.5 130.9,283.5 130.3,284.5 129.7,285.5 129.1,286.5 128.5,287.5 127.8,288.5 127.2,289.5 126.7,290.6 126.3,291.7 125.8,292.8 125.4,293.9 A0.99,0.99 0 0 0 127.1,294.9 L 127.9,294.0 128.6,293.1 129.4,292.2 130.1,291.2 130.7,290.2 131.3,289.2 131.9,288.2 132.5,287.2 133.1,286.2 133.7,285.2 134.3,284.2 134.9,283.2 135.5,282.2 136.1,281.2 136.7,280.2 137.3,279.2 137.9,278.1 138.5,277.1 139.1,276.1 139.7,275.1 140.3,274.1 140.9,273.1 141.5,272.1 142.1,271.1 142.7,270.1 143.3,269.1 143.8,268.1 144.3,267.0 A1.40,1.40 0 0 0 141.9,265.5 Z"/><circle cx="151.9" cy="284.4" r="2.20"/><path d="M151.1,290.8 151.1,292.0 151.1,293.2 151.3,294.3 151.5,295.5 151.7,296.7 151.9,297.8 152.1,298.9 152.3,300.0 152.4,301.2 152.5,302.2 152.5,303.3 152.5,304.3 152.4,305.2 152.1,306.0 151.6,306.7 151.0,307.4 150.3,308.1 149.6,308.6 148.9,308.9 148.2,309.0 147.4,308.9 146.6,308.6 145.7,308.2 145.0,307.6 144.4,307.1 144.1,306.5 143.8,305.7 143.5,304.7 143.2,303.5 142.9,302.3 A0.99,0.99 0 0 0 140.9,302.7 L 140.9,303.8 140.8,305.0 140.8,306.2 141.0,307.7 141.8,309.1 142.9,310.2 144.1,311.0 145.3,311.6 146.6,312.1 148.2,312.3 149.8,312.1 151.2,311.5 152.4,310.7 153.4,309.7 154.3,308.6 155.0,307.4 155.6,306.0 155.8,304.6 155.8,303.3 155.8,302.0 155.7,300.8 155.5,299.6 155.4,298.4 155.2,297.2 155.0,296.1 154.8,295.0 154.6,293.8 154.4,292.7 154.2,291.6 153.9,290.5 A1.40,1.40 0 0 0 151.1,290.8 Z"/><path d="M158.7,255.6 159.1,256.7 159.6,257.9 160.1,259.0 160.7,260.0 161.2,261.1 161.7,262.1 162.2,263.1 162.7,264.2 163.1,265.2 163.5,266.3 163.9,267.3 164.1,268.4 164.4,269.5 164.6,270.6 164.8,271.7 164.9,272.9 165.1,274.0 165.2,275.2 165.2,276.3 165.3,277.5 165.3,278.6 165.3,279.8 165.3,280.9 165.3,282.1 165.2,283.3 165.2,284.4 165.1,285.6 164.9,286.7 164.8,287.8 164.6,289.0 164.4,290.1 164.2,291.3 164.0,292.4 163.7,293.6 163.5,294.7 163.2,295.9 163.0,297.0 162.7,298.2 162.5,299.4 162.3,300.6 162.2,301.8 162.2,303.0 162.2,304.2 A0.99,0.99 0 0 0 164.1,304.6 L 164.5,303.4 164.9,302.3 165.4,301.2 165.7,300.1 165.9,298.9 166.2,297.8 166.4,296.6 166.7,295.4 167.0,294.3 167.2,293.1 167.4,291.9 167.7,290.7 167.9,289.5 168.1,288.3 168.2,287.1 168.4,285.9 168.5,284.7 168.5,283.4 168.6,282.2 168.6,281.0 168.6,279.8 168.6,278.6 168.6,277.4 168.5,276.1 168.5,274.9 168.4,273.7 168.2,272.5 168.1,271.3 167.9,270.0 167.6,268.8 167.4,267.6 167.0,266.4 166.7,265.2 166.2,264.0 165.7,262.9 165.2,261.7 164.7,260.6 164.1,259.5 163.6,258.5 163.0,257.4 162.5,256.4 161.9,255.4 161.3,254.4 A1.40,1.40 0 0 0 158.7,255.6 Z"/><path d="M177.3,273.3 178.4,273.6 179.5,273.9 180.7,274.1 181.8,274.3 183.0,274.5 184.2,274.7 185.3,274.8 186.5,275.0 187.6,275.2 188.8,275.3 190.0,275.3 191.2,275.3 192.3,275.4 A0.99,0.99 0 0 0 192.7,273.4 L 191.5,273.0 190.4,272.6 189.3,272.3 188.2,272.0 187.0,271.8 185.8,271.6 184.7,271.4 183.5,271.2 182.4,271.0 181.2,270.8 180.1,270.6 178.9,270.5 177.7,270.5 A1.40,1.40 0 0 0 177.3,273.3 Z"/><path d="M177.7,281.4 178.8,281.4 180.0,281.3 181.2,281.2 182.3,281.1 183.5,280.9 184.6,280.8 185.8,280.6 186.9,280.5 188.1,280.3 189.2,280.1 190.4,279.8 191.5,279.4 192.6,279.1 A0.99,0.99 0 0 0 192.4,277.1 L 191.2,277.1 190.0,277.1 188.8,277.0 187.7,277.1 186.5,277.2 185.4,277.4 184.2,277.5 183.1,277.6 181.9,277.8 180.8,277.9 179.6,278.1 178.5,278.3 177.3,278.6 A1.40,1.40 0 0 0 177.7,281.4 Z"/><path d="M235.0,269.4 234.1,268.7 233.2,268.1 232.2,267.4 231.1,266.8 230.0,266.1 228.6,265.6 226.9,265.5 225.3,265.9 224.0,266.5 222.8,267.3 221.8,268.2 220.9,269.3 220.1,270.5 219.5,271.8 219.2,273.2 219.1,274.6 219.1,275.9 219.2,277.3 219.5,278.6 220.0,280.0 220.9,281.4 222.1,282.4 223.3,283.1 224.6,283.6 225.9,284.0 227.3,284.2 228.9,284.2 230.4,283.7 231.7,282.9 232.7,282.0 233.6,281.1 234.3,280.1 234.9,279.1 235.7,278.2 A0.99,0.99 0 0 0 234.3,276.8 L 233.3,277.4 232.3,278.1 231.3,278.9 230.5,279.6 229.7,280.2 229.0,280.7 228.3,280.9 227.5,280.9 226.6,280.8 225.7,280.5 224.7,280.1 223.9,279.7 223.3,279.2 222.9,278.5 222.6,277.7 222.4,276.8 222.4,275.8 222.4,274.8 222.4,273.8 222.6,272.9 223.0,272.1 223.5,271.3 224.2,270.6 224.9,269.9 225.7,269.3 226.4,268.9 227.1,268.8 227.8,268.8 228.6,269.2 229.5,269.6 230.5,270.2 231.5,270.9 232.6,271.4 233.7,271.9 A1.40,1.40 0 0 0 235.0,269.4 Z"/><path d="M231.3,270.6 231.7,271.8 232.2,272.9 232.8,273.9 233.4,275.0 233.9,276.0 234.5,277.0 235.1,278.0 235.6,279.0 236.1,280.1 236.5,281.1 236.9,282.1 237.2,283.1 237.5,284.2 237.7,285.4 238.0,286.5 238.1,287.5 238.2,288.6 238.2,289.7 238.1,290.7 237.9,291.6 237.6,292.5 237.1,293.4 236.6,294.2 235.9,295.1 235.2,295.8 234.4,296.6 233.6,297.3 232.7,297.9 231.8,298.5 230.9,298.9 230.0,299.3 229.0,299.6 228.0,299.7 227.0,299.8 226.0,299.8 225.2,299.6 224.5,299.2 223.7,298.7 222.7,298.1 221.7,297.4 220.6,296.7 A0.99,0.99 0 0 0 219.4,298.3 L 220.1,299.1 220.8,300.1 221.6,301.1 222.7,302.0 224.1,302.7 225.6,303.0 227.0,303.1 228.4,303.0 229.7,302.8 231.0,302.4 232.2,302.0 233.4,301.4 234.6,300.7 235.6,299.9 236.6,299.0 237.5,298.2 238.4,297.2 239.2,296.2 240.0,295.1 240.6,293.8 241.1,292.5 241.4,291.1 241.5,289.8 241.5,288.5 241.4,287.2 241.2,285.9 241.0,284.7 240.7,283.5 240.4,282.3 240.0,281.1 239.6,279.8 239.1,278.7 238.5,277.6 238.0,276.5 237.4,275.4 236.8,274.4 236.2,273.3 235.6,272.3 235.1,271.3 234.4,270.3 233.7,269.4 A1.40,1.40 0 0 0 231.3,270.6 Z"/><path d="M255.8,250.4 254.9,251.2 254.1,251.9 253.3,252.8 252.6,253.7 251.8,254.6 251.0,255.5 250.2,256.5 249.5,257.6 248.8,258.7 248.2,259.9 247.8,261.0 247.3,262.2 247.0,263.4 246.7,264.6 246.4,265.8 246.2,267.0 246.0,268.3 245.9,269.5 245.9,270.8 245.9,272.0 245.9,273.3 246.0,274.5 246.2,275.7 246.4,277.0 246.6,278.2 246.9,279.4 247.3,280.6 247.8,281.8 248.4,283.0 249.1,284.2 250.0,285.2 250.9,286.2 251.8,287.0 252.8,287.8 253.8,288.4 254.8,289.0 255.9,289.5 256.9,290.1 A0.99,0.99 0 0 0 258.1,288.6 L 257.4,287.7 256.5,286.8 255.7,285.9 254.8,285.2 254.0,284.5 253.1,283.7 252.4,283.0 251.8,282.2 251.3,281.4 250.8,280.5 250.4,279.5 250.1,278.5 249.8,277.4 249.6,276.3 249.4,275.3 249.3,274.2 249.2,273.0 249.2,271.9 249.2,270.8 249.2,269.7 249.3,268.6 249.4,267.5 249.6,266.5 249.9,265.4 250.2,264.3 250.5,263.2 250.8,262.2 251.3,261.2 251.7,260.3 252.3,259.3 252.9,258.5 253.5,257.6 254.3,256.7 255.0,255.9 255.8,255.0 256.6,254.1 257.3,253.2 258.0,252.1 A1.40,1.40 0 0 0 255.8,250.4 Z"/><path d="M261.2,271.9 261.6,272.9 262.0,274.0 262.5,275.0 263.0,276.0 263.5,277.0 264.0,278.0 264.5,279.0 265.2,279.9 265.9,280.8 266.6,281.7 A0.99,0.99 0 0 0 268.4,280.8 L 268.1,279.7 267.8,278.6 267.5,277.5 267.0,276.5 266.5,275.5 266.0,274.5 265.5,273.5 265.0,272.5 264.4,271.6 263.8,270.6 A1.40,1.40 0 0 0 261.2,271.9 Z"/><path d="M264.6,273.6 265.6,273.0 266.6,272.4 267.5,271.6 268.4,271.0 269.2,270.4 270.1,269.9 270.9,269.6 271.8,269.4 272.9,269.2 274.0,269.0 275.1,268.8 276.3,268.5 A0.99,0.99 0 0 0 276.2,266.5 L 275.0,266.4 273.9,266.2 272.7,266.1 271.4,266.1 270.0,266.4 268.7,266.9 267.5,267.6 266.4,268.3 265.5,269.1 264.6,269.8 263.7,270.6 262.9,271.4 A1.40,1.40 0 0 0 264.6,273.6 Z"/><circle cx="278.1" cy="251.9" r="2.00"/><path d="M278.7,259.0 278.8,260.1 278.9,261.1 279.1,262.2 279.2,263.3 279.4,264.3 279.9,265.4 280.4,266.4 A0.90,0.90 0 0 0 282.1,266.1 L 282.2,265.0 282.3,263.9 282.2,262.8 282.0,261.7 281.8,260.6 281.6,259.6 281.3,258.5 A1.27,1.27 0 0 0 278.7,259.0 Z"/><path d="M287.5,263.9 287.8,262.8 288.0,261.6 288.1,260.5 288.2,259.5 288.3,258.9 288.3,258.8 288.7,258.9 289.4,259.2 290.0,259.6 290.4,260.2 290.7,261.0 291.0,261.9 291.4,263.0 291.8,264.1 292.3,265.2 A0.90,0.90 0 0 0 294.0,264.8 L 293.9,263.7 293.9,262.5 293.8,261.3 293.6,260.1 293.0,258.7 292.1,257.4 290.8,256.6 289.4,256.0 287.4,255.9 285.8,257.3 285.3,258.9 285.1,260.2 285.0,261.3 285.0,262.5 285.0,263.6 A1.27,1.27 0 0 0 287.5,263.9 Z"/><path d="M304.9,272.6 304.4,273.6 303.9,274.6 303.5,275.6 303.1,276.7 302.6,277.7 302.2,278.8 302.0,279.9 301.8,281.0 301.6,282.1 A0.99,0.99 0 0 0 303.4,282.9 L 304.1,281.9 304.7,281.0 305.3,280.0 305.7,278.9 306.1,277.9 306.5,276.9 306.9,275.8 307.3,274.7 307.6,273.6 A1.40,1.40 0 0 0 304.9,272.6 Z"/><path d="M312.4,249.2 312.7,250.4 313.0,251.5 313.4,252.7 313.8,253.8 314.2,254.9 314.6,256.0 315.0,257.1 315.4,258.2 315.8,259.4 316.2,260.5 316.6,261.6 317.0,262.7 317.4,263.8 317.8,264.9 318.2,266.0 318.6,267.2 319.0,268.3 319.4,269.4 319.8,270.5 320.2,271.6 320.6,272.7 321.0,273.9 321.4,275.0 321.8,276.1 322.3,277.2 322.9,278.2 323.5,279.3 324.1,280.3 A0.99,0.99 0 0 0 325.9,279.7 L 325.7,278.5 325.5,277.3 325.3,276.1 324.9,275.0 324.5,273.9 324.1,272.7 323.7,271.6 323.3,270.5 322.9,269.4 322.5,268.3 322.1,267.2 321.7,266.0 321.3,264.9 320.9,263.8 320.5,262.7 320.1,261.6 319.7,260.5 319.3,259.4 318.9,258.2 318.5,257.1 318.1,256.0 317.7,254.9 317.3,253.8 316.9,252.7 316.5,251.5 316.1,250.4 315.6,249.3 315.1,248.3 A1.40,1.40 0 0 0 312.4,249.2 Z"/><path d="M328.2,250.5 327.4,251.4 326.7,252.3 326.0,253.3 325.4,254.3 324.8,255.3 324.1,256.3 323.5,257.2 322.8,258.2 322.2,259.2 321.5,260.2 320.9,261.2 320.2,262.2 319.6,263.2 318.9,264.1 318.3,265.1 317.6,266.1 317.0,267.1 316.3,268.1 315.7,269.1 315.0,270.1 314.4,271.0 313.7,272.0 313.1,273.1 312.6,274.1 312.2,275.2 311.7,276.3 A0.99,0.99 0 0 0 313.3,277.4 L 314.1,276.5 315.0,275.7 315.8,274.8 316.5,273.8 317.1,272.9 317.8,271.9 318.4,270.9 319.1,269.9 319.7,268.9 320.4,267.9 321.0,266.9 321.7,266.0 322.3,265.0 323.0,264.0 323.6,263.0 324.3,262.0 324.9,261.0 325.6,260.0 326.2,259.1 326.9,258.1 327.5,257.1 328.2,256.1 328.8,255.1 329.5,254.1 330.0,253.1 330.5,252.0 A1.40,1.40 0 0 0 328.2,250.5 Z"/><circle cx="333.8" cy="269.4" r="2.00"/><path d="M333.1,275.7 333.0,276.8 333.0,278.0 333.0,279.1 333.0,280.2 333.1,281.4 333.1,282.4 333.1,283.0 332.7,283.5 332.2,283.9 331.7,284.0 331.0,283.9 330.2,283.7 329.3,283.3 328.6,282.8 328.0,282.3 327.7,282.2 327.7,282.2 328.3,281.6 329.2,280.9 A0.90,0.90 0 0 0 328.3,279.4 L 327.2,279.8 325.9,280.4 324.8,282.2 325.6,284.1 326.7,285.2 327.9,285.9 329.1,286.5 330.4,286.9 332.0,287.0 333.6,286.5 334.9,285.5 335.8,284.1 336.1,282.5 336.1,281.2 336.0,280.1 336.0,279.0 336.0,277.9 335.8,276.7 335.6,275.6 A1.27,1.27 0 0 0 333.1,275.7 Z"/><circle cx="336.2" cy="243.1" r="2.00"/><path d="M336.9,248.9 336.8,249.9 336.8,251.0 336.9,252.0 337.0,253.1 337.4,254.1 337.9,255.1 A0.90,0.90 0 0 0 339.6,254.9 L 339.9,253.8 340.0,252.8 339.9,251.7 339.8,250.7 339.7,249.6 339.4,248.6 A1.27,1.27 0 0 0 336.9,248.9 Z"/><path d="M343.7,253.5 344.2,252.4 344.6,251.3 344.8,250.2 345.1,249.1 345.4,248.3 345.7,247.6 346.1,247.3 346.8,247.1 347.7,247.1 348.5,247.2 349.0,247.4 349.3,247.8 349.5,248.5 349.7,249.5 350.0,250.6 350.3,251.7 350.6,252.8 351.0,253.9 A0.90,0.90 0 0 0 352.8,253.6 L 352.7,252.5 352.7,251.3 352.8,250.2 352.7,249.0 352.4,247.7 351.9,246.3 350.8,245.0 349.2,244.3 347.8,244.1 346.3,244.2 344.8,244.6 343.5,245.7 342.6,247.0 342.2,248.3 341.9,249.5 341.6,250.6 341.5,251.7 341.3,252.8 A1.27,1.27 0 0 0 343.7,253.5 Z"/><path d="M360.6,244.9 360.9,246.1 361.2,247.2 361.7,248.3 362.2,249.4 362.7,250.5 363.1,251.5 363.5,252.6 363.9,253.6 364.2,254.7 364.5,255.8 364.7,256.8 364.8,257.9 364.9,259.1 365.0,260.2 365.0,261.3 365.0,262.4 364.9,263.6 364.8,264.7 364.7,265.8 364.5,267.0 364.3,268.1 364.1,269.2 363.9,270.2 363.5,271.3 363.1,272.3 362.7,273.4 362.2,274.4 361.7,275.4 361.2,276.5 360.7,277.5 360.2,278.6 359.8,279.7 359.4,280.9 359.1,282.1 A0.99,0.99 0 0 0 360.9,282.9 L 361.6,281.9 362.3,281.0 363.0,280.0 363.6,279.0 364.1,278.0 364.7,276.9 365.2,275.8 365.7,274.7 366.2,273.5 366.7,272.3 367.0,271.1 367.3,269.9 367.6,268.7 367.8,267.5 368.0,266.2 368.1,265.0 368.2,263.8 368.3,262.5 368.3,261.3 368.3,260.1 368.2,258.8 368.1,257.6 367.9,256.3 367.7,255.1 367.4,253.8 367.0,252.6 366.6,251.4 366.2,250.3 365.7,249.2 365.2,248.1 364.7,247.0 364.3,245.9 363.7,244.9 363.2,243.9 A1.40,1.40 0 0 0 360.6,244.9 Z"/><path d="M273.1,494.5 274.3,494.7 275.4,494.9 276.6,494.9 277.8,495.0 279.0,495.0 280.2,495.1 281.4,495.1 282.6,495.2 283.8,495.2 285.0,495.0 286.3,494.9 287.5,494.7 A0.99,0.99 0 0 0 287.5,492.8 L 286.4,492.5 285.2,492.3 284.0,492.0 282.8,491.9 281.6,491.8 280.4,491.8 279.2,491.7 278.0,491.7 276.8,491.6 275.6,491.6 274.4,491.6 273.2,491.7 A1.40,1.40 0 0 0 273.1,494.5 Z"/><path d="M294.2,477.8 295.4,477.9 296.6,478.1 297.8,478.1 299.0,478.1 300.2,478.1 301.4,478.1 302.6,478.2 303.8,478.2 304.9,478.2 306.1,478.3 307.3,478.3 308.5,478.4 309.7,478.4 310.9,478.5 312.1,478.6 313.3,478.6 314.5,478.6 315.7,478.5 316.9,478.4 318.1,478.2 A0.99,0.99 0 0 0 318.2,476.3 L 317.0,476.0 315.8,475.7 314.6,475.5 313.4,475.3 312.3,475.3 311.1,475.2 309.9,475.1 308.7,475.1 307.5,475.0 306.3,475.0 305.1,474.9 303.8,474.9 302.6,474.9 301.4,474.8 300.3,474.8 299.1,474.8 297.9,474.8 296.7,474.8 295.5,474.8 294.3,475.0 A1.40,1.40 0 0 0 294.2,477.8 Z"/><path d="M295.1,479.1 295.9,480.0 296.9,480.7 297.9,481.4 298.9,482.0 299.8,482.7 300.7,483.4 301.6,484.0 302.4,484.7 303.1,485.5 303.8,486.3 304.4,487.1 304.9,488.0 305.3,488.9 305.6,489.8 305.6,490.6 305.5,491.5 305.3,492.4 304.9,493.3 304.4,494.2 303.8,495.1 303.1,495.9 302.4,496.7 301.6,497.4 300.7,498.2 299.8,498.9 298.9,499.7 298.0,500.4 297.1,501.2 296.2,501.9 295.3,502.7 294.5,503.6 293.7,504.6 293.0,505.5 A0.99,0.99 0 0 0 294.3,507.0 L 295.3,506.4 296.3,505.8 297.3,505.2 298.3,504.5 299.2,503.7 300.1,503.0 301.0,502.2 302.0,501.5 302.9,500.7 303.8,499.9 304.7,499.0 305.6,498.1 306.4,497.1 307.2,496.0 307.8,494.8 308.4,493.5 308.8,492.2 308.9,490.7 308.8,489.2 308.4,487.8 307.9,486.5 307.2,485.4 306.4,484.3 305.6,483.3 304.7,482.3 303.7,481.5 302.7,480.7 301.7,480.0 300.7,479.3 299.7,478.6 298.7,478.0 297.7,477.4 296.7,476.9 A1.40,1.40 0 0 0 295.1,479.1 Z"/><path d="M292.6,508.2 293.8,508.3 295.0,508.4 296.2,508.5 297.3,508.5 298.5,508.5 299.7,508.5 300.9,508.5 302.1,508.6 303.2,508.6 304.4,508.6 305.6,508.7 306.8,508.7 308.0,508.8 309.1,508.8 310.3,508.9 311.5,509.0 312.7,509.0 313.9,509.0 315.1,508.9 316.3,508.7 317.4,508.6 A0.99,0.99 0 0 0 317.6,506.6 L 316.4,506.4 315.2,506.1 314.0,505.9 312.9,505.7 311.7,505.7 310.5,505.6 309.3,505.5 308.1,505.5 306.9,505.4 305.7,505.4 304.5,505.3 303.3,505.3 302.1,505.3 301.0,505.2 299.8,505.2 298.6,505.2 297.4,505.2 296.2,505.2 295.0,505.1 293.8,505.2 292.7,505.3 A1.40,1.40 0 0 0 292.6,508.2 Z"/><circle cx="295.6" cy="513.1" r="2.00"/><path d="M295.0,518.9 294.9,519.9 294.9,521.0 295.0,522.1 295.1,523.2 295.2,524.2 295.6,525.3 296.0,526.3 A0.90,0.90 0 0 0 297.8,526.2 L 298.0,525.1 298.2,524.0 298.1,522.9 298.0,521.8 297.9,520.8 297.8,519.7 297.5,518.6 A1.27,1.27 0 0 0 295.0,518.9 Z"/><path d="M301.2,521.9 302.2,522.1 303.3,522.3 304.4,522.4 305.5,522.4 306.6,522.5 307.7,522.5 308.8,522.3 309.9,522.1 A0.90,0.90 0 0 0 310.1,520.4 L 309.0,520.0 307.9,519.7 306.8,519.5 305.7,519.4 304.6,519.4 303.5,519.3 302.4,519.3 301.3,519.4 A1.27,1.27 0 0 0 301.2,521.9 Z"/><path d="M301.9,526.3 302.9,526.4 304.0,526.5 305.1,526.5 306.2,526.5 307.2,526.5 308.3,526.2 309.4,525.9 A0.90,0.90 0 0 0 309.4,524.1 L 308.3,523.8 307.2,523.5 306.2,523.5 305.1,523.5 304.0,523.5 302.9,523.6 301.9,523.7 A1.27,1.27 0 0 0 301.9,526.3 Z"/><path d="M330.5,482.0 330.5,483.2 330.5,484.4 330.6,485.5 330.7,486.7 330.9,487.8 331.0,489.0 331.1,490.1 331.2,491.3 331.4,492.5 331.5,493.6 331.6,494.8 331.7,495.9 331.9,497.1 332.0,498.2 332.1,499.4 332.2,500.6 332.4,501.7 332.8,502.8 333.1,504.0 333.4,505.1 A0.99,0.99 0 0 0 335.4,504.9 L 335.4,503.7 335.5,502.5 335.6,501.4 335.5,500.2 335.4,499.0 335.3,497.9 335.1,496.7 335.0,495.6 334.9,494.4 334.8,493.3 334.6,492.1 334.5,490.9 334.4,489.8 334.3,488.6 334.1,487.5 334.0,486.3 333.9,485.2 333.8,484.0 333.5,482.9 333.3,481.7 A1.40,1.40 0 0 0 330.5,482.0 Z"/><path d="M332.2,482.6 333.4,482.5 334.6,482.3 335.8,482.0 336.9,481.7 338.0,481.4 339.1,481.1 340.1,481.0 341.1,480.9 342.1,481.0 343.1,481.2 344.1,481.5 345.1,481.8 346.1,482.3 347.1,482.7 348.0,483.3 348.9,483.9 349.7,484.5 350.5,485.2 351.1,485.9 351.7,486.8 352.2,487.7 352.6,488.6 352.9,489.6 353.2,490.7 353.3,491.7 353.4,492.7 353.4,493.8 353.4,494.8 353.2,495.8 352.9,496.8 352.5,497.8 352.0,498.7 351.5,499.6 350.9,500.5 350.3,501.3 349.6,502.0 348.8,502.6 348.0,503.0 347.0,503.4 346.0,503.7 344.9,504.0 343.9,504.2 342.7,504.3 341.6,504.5 340.5,504.6 339.4,504.6 338.3,504.6 337.3,504.7 336.4,504.6 335.3,504.4 334.1,504.1 A0.99,0.99 0 0 0 333.4,505.9 L 334.4,506.5 335.5,507.2 336.8,507.8 338.2,507.9 339.5,507.9 340.7,507.9 342.0,507.8 343.2,507.6 344.4,507.4 345.7,507.2 346.9,506.9 348.1,506.5 349.4,506.0 350.6,505.3 351.7,504.5 352.7,503.5 353.6,502.5 354.3,501.4 355.0,500.2 355.5,499.1 356.0,497.8 356.4,496.6 356.6,495.2 356.7,493.9 356.7,492.6 356.6,491.3 356.4,490.0 356.1,488.7 355.7,487.5 355.2,486.2 354.5,485.1 353.7,483.9 352.8,482.9 351.8,482.0 350.8,481.2 349.7,480.5 348.6,479.8 347.5,479.3 346.3,478.8 345.1,478.3 343.8,478.0 342.5,477.7 341.1,477.6 339.7,477.7 338.4,477.9 337.2,478.2 336.0,478.5 334.9,478.8 333.8,479.1 332.7,479.5 331.6,479.9 A1.40,1.40 0 0 0 332.2,482.6 Z"/><path d="M355.7,467.7 356.8,467.7 357.9,467.8 359.1,467.8 360.2,467.7 361.3,467.7 362.4,467.6 363.6,467.6 364.7,467.6 365.8,467.5 366.9,467.5 368.1,467.4 369.2,467.3 370.3,467.1 371.4,466.8 372.5,466.6 A0.99,0.99 0 0 0 372.5,464.6 L 371.3,464.5 370.2,464.3 369.1,464.2 367.9,464.1 366.8,464.2 365.7,464.2 364.6,464.3 363.4,464.3 362.3,464.4 361.2,464.4 360.1,464.4 358.9,464.5 357.8,464.5 356.7,464.7 355.6,464.8 A1.40,1.40 0 0 0 355.7,467.7 Z"/><path d="M361.1,466.3 361.0,467.5 361.0,468.7 361.0,469.9 361.1,471.1 361.1,472.3 361.2,473.5 361.2,474.7 361.4,475.9 361.6,477.1 361.9,478.2 362.1,479.4 A0.99,0.99 0 0 0 364.1,479.3 L 364.3,478.1 364.4,476.9 364.5,475.7 364.5,474.5 364.5,473.3 364.4,472.1 364.4,470.9 364.3,469.8 364.3,468.6 364.1,467.4 363.9,466.2 A1.40,1.40 0 0 0 361.1,466.3 Z"/><path d="M353.8,505.4 353.9,506.5 354.2,507.5 354.5,508.6 354.8,509.6 355.4,510.6 356.0,511.5 A0.90,0.90 0 0 0 357.7,511.0 L 357.7,509.9 357.7,508.7 357.4,507.7 357.1,506.7 356.7,505.6 356.2,504.6 A1.27,1.27 0 0 0 353.8,505.4 Z"/><path d="M356.5,506.6 357.4,506.0 358.2,505.3 358.8,504.8 359.5,504.4 360.2,504.3 361.1,504.1 362.2,503.7 363.2,503.4 A0.90,0.90 0 0 0 363.0,501.6 L 362.0,501.5 360.9,501.3 359.7,501.3 358.4,501.6 357.2,502.3 356.2,503.1 355.5,503.9 354.8,504.7 A1.27,1.27 0 0 0 356.5,506.6 Z"/><path d="M373.3,491.3 372.5,490.6 371.6,489.8 370.5,489.0 368.9,488.4 366.9,488.6 365.5,489.5 364.5,490.5 363.6,491.6 362.9,493.0 362.6,494.5 362.6,495.9 362.8,497.3 363.2,498.7 364.1,500.2 365.6,501.2 367.3,501.5 368.7,501.5 370.0,501.3 371.4,500.9 372.8,500.1 373.9,498.9 374.6,497.5 374.9,496.3 375.0,495.1 375.1,493.9 375.3,492.8 A0.99,0.99 0 0 0 373.4,492.2 L 372.9,493.3 372.4,494.4 371.9,495.4 371.5,496.3 371.2,497.0 370.8,497.5 370.2,497.8 369.3,498.0 368.4,498.2 367.5,498.2 366.8,498.1 366.5,497.9 366.3,497.4 366.0,496.6 365.9,495.7 365.9,494.8 366.0,494.1 366.4,493.4 366.9,492.7 367.6,492.1 368.1,491.7 368.4,491.7 368.9,491.9 369.7,492.5 370.6,493.1 371.7,493.7 A1.40,1.40 0 0 0 373.3,491.3 Z"/><path d="M370.7,492.1 371.3,493.1 372.0,494.2 372.7,495.2 373.5,496.1 374.2,497.0 374.9,497.9 375.6,498.9 376.2,499.8 376.8,500.7 377.3,501.7 377.7,502.6 377.9,503.6 378.1,504.6 378.2,505.7 378.2,506.8 378.2,507.8 378.0,508.8 377.7,509.7 377.3,510.4 376.7,511.1 376.0,511.7 375.1,512.3 374.2,512.7 373.3,513.1 372.4,513.3 371.6,513.3 370.8,513.2 369.9,512.8 368.9,512.3 367.8,511.9 366.6,511.4 365.5,511.0 A0.99,0.99 0 0 0 364.5,512.8 L 365.5,513.5 366.4,514.2 367.3,515.0 368.4,515.7 369.7,516.3 371.3,516.6 372.8,516.6 374.3,516.2 375.6,515.7 376.8,515.1 377.9,514.4 379.0,513.5 380.0,512.3 380.7,511.0 381.2,509.6 381.4,508.2 381.5,506.9 381.5,505.5 381.4,504.2 381.2,502.9 380.8,501.6 380.3,500.3 379.7,499.1 379.0,498.0 378.3,497.0 377.5,496.0 376.8,495.0 376.0,494.0 375.3,493.1 374.6,492.2 373.8,491.3 373.0,490.4 A1.40,1.40 0 0 0 370.7,492.1 Z"/><path d="M405.8,490.9 406.6,490.0 407.3,489.0 407.9,488.0 408.5,487.2 409.1,486.5 409.8,486.1 410.6,485.7 411.4,485.6 412.3,485.5 413.2,485.6 414.2,485.9 415.1,486.3 415.9,486.8 416.7,487.4 417.4,488.1 418.1,488.8 418.7,489.7 419.2,490.6 419.6,491.4 419.8,492.3 419.8,493.2 419.7,494.2 419.6,495.4 419.4,496.6 419.3,497.8 419.3,498.9 419.3,500.1 419.4,501.3 419.4,502.5 A0.99,0.99 0 0 0 421.4,502.8 L 421.7,501.6 422.1,500.5 422.4,499.3 422.6,498.1 422.7,496.9 422.9,495.8 423.0,494.6 423.1,493.2 423.0,491.8 422.7,490.4 422.1,489.1 421.5,487.9 420.7,486.8 419.8,485.8 418.8,484.8 417.7,484.0 416.5,483.3 415.3,482.8 413.9,482.4 412.5,482.2 411.0,482.3 409.6,482.6 408.2,483.2 406.9,484.0 405.9,485.1 405.1,486.2 404.5,487.3 404.0,488.3 403.5,489.3 A1.40,1.40 0 0 0 405.8,490.9 Z"/><path d="M417.4,489.9 416.5,490.6 415.6,491.3 414.9,492.1 414.1,492.9 413.3,493.7 412.5,494.5 411.8,495.4 411.0,496.2 410.2,497.0 409.4,497.8 408.7,498.6 408.1,499.6 407.4,500.5 406.8,501.4 A0.99,0.99 0 0 0 408.2,502.8 L 409.1,502.1 410.0,501.5 410.9,500.8 411.8,500.1 412.6,499.3 413.3,498.5 414.1,497.6 414.9,496.8 415.7,496.0 416.5,495.2 417.2,494.4 418.0,493.6 418.7,492.7 419.4,491.8 A1.40,1.40 0 0 0 417.4,489.9 Z"/><circle cx="430.0" cy="494.4" r="2.20"/><path d="M428.6,499.4 428.4,500.5 428.4,501.7 428.4,502.9 428.4,504.1 428.4,505.2 428.5,506.4 428.7,507.6 429.0,508.8 A0.99,0.99 0 0 0 431.0,508.8 L 431.3,507.6 431.5,506.4 431.6,505.2 431.6,504.1 431.6,502.9 431.6,501.7 431.6,500.5 431.4,499.4 A1.40,1.40 0 0 0 428.6,499.4 Z"/></g>
<g stroke="#a8181c" fill="none" stroke-linecap="round" stroke-linejoin="round"><path d="M301.2,469.4 L304.4,458.8 L311.2,468.1 L315.6,456.2" stroke-width="2.76"/><path d="M312.1,521.4 L320.8,515.5 L321.9,526.9" stroke-width="2.94"/></g>
<g fill="#765a88" stroke="none"><path d="M68.5,497.8 68.6,499.0 68.7,500.2 68.9,501.4 69.1,502.5 69.3,503.7 69.6,504.9 69.8,506.1 70.0,507.2 70.2,508.4 70.4,509.6 70.7,510.8 70.9,511.9 71.1,513.1 71.4,514.3 71.8,515.4 72.3,516.6 72.7,517.7 A1.08,1.08 0 0 0 74.8,517.3 L 74.8,516.1 74.8,514.9 74.8,513.7 74.6,512.5 74.4,511.3 74.2,510.1 74.0,508.9 73.8,507.8 73.5,506.6 73.3,505.4 73.1,504.2 72.9,503.1 72.7,501.9 72.4,500.7 72.2,499.5 71.9,498.4 71.5,497.2 A1.53,1.53 0 0 0 68.5,497.8 Z"/><path d="M73.6,504.8 74.5,504.0 75.4,503.2 76.1,502.3 76.8,501.6 77.5,500.9 78.2,500.4 79.0,500.1 79.8,499.8 80.6,499.7 81.2,499.8 81.7,500.1 82.3,500.6 82.9,501.3 83.4,502.2 83.9,503.0 84.2,503.9 84.4,504.8 84.6,505.8 84.7,506.9 84.8,508.0 84.9,509.1 85.2,510.3 85.5,511.5 85.8,512.6 A1.08,1.08 0 0 0 87.9,512.4 L 88.0,511.2 88.2,510.1 88.3,509.0 88.4,507.8 88.3,506.6 88.2,505.4 88.0,504.1 87.7,502.8 87.2,501.5 86.5,500.3 85.8,499.2 84.9,498.2 83.8,497.2 82.3,496.4 80.7,496.1 79.1,496.3 77.8,496.7 76.4,497.3 75.2,498.1 74.3,499.0 73.4,500.0 72.7,500.9 72.0,501.8 71.4,502.7 A1.53,1.53 0 0 0 73.6,504.8 Z"/><path d="M87.6,507.0 88.3,506.0 89.0,505.0 89.5,503.9 90.1,502.9 90.6,502.0 91.1,501.3 91.6,500.9 92.3,500.6 93.1,500.5 93.8,500.5 94.2,500.6 94.6,501.0 95.0,501.8 95.3,502.7 95.6,503.8 95.9,504.8 96.1,505.8 96.2,506.9 96.2,508.0 96.2,509.2 96.3,510.3 96.3,511.5 96.3,512.7 96.6,513.9 96.8,515.1 97.0,516.3 A1.08,1.08 0 0 0 99.2,516.2 L 99.4,515.0 99.6,513.9 99.8,512.7 99.9,511.5 99.9,510.3 99.8,509.1 99.8,507.9 99.7,506.6 99.6,505.4 99.4,504.1 99.1,502.8 98.7,501.5 98.2,500.3 97.5,498.9 96.2,497.6 94.5,496.9 92.8,496.9 91.3,497.2 89.7,497.8 88.5,498.9 87.6,500.0 86.9,501.2 86.3,502.3 85.8,503.4 85.4,504.4 84.9,505.5 A1.53,1.53 0 0 0 87.6,507.0 Z"/><path d="M101.8,515.3 101.9,516.5 102.1,517.7 102.4,518.8 102.6,520.0 102.9,521.2 103.5,522.2 104.1,523.3 A0.96,0.96 0 0 0 105.9,522.9 L 106.0,521.7 106.0,520.5 105.8,519.3 105.5,518.1 105.2,517.0 104.9,515.8 104.5,514.7 A1.36,1.36 0 0 0 101.8,515.3 Z"/><path d="M104.8,515.9 105.7,515.1 106.5,514.3 107.1,513.5 107.7,512.9 108.1,512.7 108.8,512.7 109.8,512.8 111.0,512.8 A0.96,0.96 0 0 0 111.5,510.9 L 110.5,510.4 109.3,509.8 107.7,509.6 106.0,510.2 104.8,511.3 104.0,512.2 103.4,513.2 102.7,514.1 A1.36,1.36 0 0 0 104.8,515.9 Z"/><circle cx="122.5" cy="485.6" r="3.00"/><circle cx="132.5" cy="485.6" r="3.00"/><path d="M118.5,498.5 118.7,499.7 118.8,500.8 119.1,502.0 119.4,503.1 119.7,504.2 120.0,505.3 120.3,506.5 120.6,507.6 120.9,508.7 121.2,509.8 121.5,511.0 121.8,512.1 122.3,513.1 122.8,514.2 123.3,515.3 A1.08,1.08 0 0 0 125.4,514.7 L 125.3,513.6 125.2,512.4 125.2,511.2 125.0,510.0 124.7,508.9 124.4,507.8 124.1,506.7 123.8,505.5 123.5,504.4 123.2,503.3 122.9,502.2 122.6,501.0 122.3,499.9 121.9,498.8 121.5,497.7 A1.53,1.53 0 0 0 118.5,498.5 Z"/><path d="M123.2,500.7 124.4,500.3 125.5,499.7 126.5,499.1 127.4,498.6 128.2,498.2 128.9,498.0 129.6,498.1 130.5,498.3 131.6,498.6 132.8,498.9 134.0,499.1 A1.08,1.08 0 0 0 134.8,497.1 L 133.8,496.5 132.8,495.8 131.7,495.1 130.3,494.6 128.7,494.4 127.1,494.8 125.8,495.3 124.6,496.0 123.6,496.6 122.7,497.3 121.8,498.0 A1.53,1.53 0 0 0 123.2,500.7 Z"/><path d="M145.1,500.9 146.3,501.0 147.5,501.1 148.7,501.0 149.9,500.9 151.1,500.9 152.2,500.8 153.4,500.8 154.6,500.7 155.8,500.4 157.0,500.1 158.2,499.8 A1.08,1.08 0 0 0 158.1,497.7 L 156.9,497.5 155.7,497.3 154.5,497.2 153.3,497.2 152.1,497.2 150.9,497.3 149.7,497.3 148.5,497.4 147.3,497.5 146.1,497.6 144.9,497.8 A1.53,1.53 0 0 0 145.1,500.9 Z"/><path d="M144.6,508.4 145.7,508.4 146.8,508.4 147.9,508.2 149.0,508.1 150.1,507.9 151.2,507.8 152.3,507.7 153.5,507.5 154.6,507.4 155.7,507.1 156.7,506.8 157.8,506.4 158.9,506.1 A1.08,1.08 0 0 0 158.6,503.9 L 157.5,503.9 156.3,503.8 155.2,503.8 154.1,503.8 153.0,503.9 151.9,504.1 150.8,504.2 149.7,504.4 148.6,504.5 147.5,504.7 146.4,504.8 145.3,505.1 144.2,505.4 A1.53,1.53 0 0 0 144.6,508.4 Z"/><path d="M170.0,483.4 171.2,483.5 172.4,483.6 173.6,483.6 174.7,483.6 175.9,483.5 177.1,483.5 178.3,483.5 179.4,483.5 180.6,483.4 181.8,483.4 183.0,483.4 184.1,483.4 185.3,483.3 186.5,483.3 187.7,483.3 188.8,483.3 190.0,483.2 191.2,483.2 192.4,483.2 193.5,483.2 194.7,483.1 195.9,483.0 197.1,482.8 198.2,482.6 199.4,482.3 A1.08,1.08 0 0 0 199.4,480.2 L 198.2,480.0 197.0,479.8 195.8,479.6 194.6,479.6 193.5,479.6 192.3,479.6 191.1,479.6 189.9,479.7 188.8,479.7 187.6,479.7 186.4,479.7 185.2,479.8 184.1,479.8 182.9,479.8 181.7,479.8 180.5,479.9 179.4,479.9 178.2,479.9 177.0,479.9 175.8,480.0 174.7,480.0 173.5,480.0 172.3,480.0 171.1,480.2 170.0,480.3 A1.53,1.53 0 0 0 170.0,483.4 Z"/><path d="M176.9,495.9 178.0,496.1 179.2,496.2 180.4,496.2 181.6,496.2 182.7,496.2 183.9,496.2 185.1,496.2 186.2,496.2 187.4,496.2 188.6,496.2 189.8,496.2 190.9,496.2 192.1,496.1 193.3,495.9 194.5,495.7 195.6,495.5 A1.08,1.08 0 0 0 195.6,493.3 L 194.5,493.1 193.3,492.9 192.1,492.7 190.9,492.6 189.8,492.6 188.6,492.6 187.4,492.6 186.2,492.6 185.1,492.6 183.9,492.6 182.7,492.6 181.6,492.6 180.4,492.6 179.2,492.6 178.0,492.7 176.9,492.8 A1.53,1.53 0 0 0 176.9,495.9 Z"/><path d="M181.6,483.2 181.5,484.3 181.4,485.5 181.4,486.7 181.4,487.8 181.5,489.0 181.5,490.2 181.5,491.3 181.5,492.5 181.6,493.7 181.6,494.9 181.6,496.0 181.7,497.2 181.7,498.4 181.7,499.5 181.7,500.7 181.8,501.9 181.8,503.0 181.8,504.2 181.8,505.4 182.0,506.5 182.2,507.7 182.4,508.9 182.7,510.0 A1.08,1.08 0 0 0 184.8,510.0 L 185.0,508.8 185.2,507.6 185.4,506.5 185.4,505.3 185.4,504.1 185.4,502.9 185.4,501.8 185.3,500.6 185.3,499.4 185.3,498.3 185.3,497.1 185.2,495.9 185.2,494.8 185.2,493.6 185.1,492.4 185.1,491.3 185.1,490.1 185.1,488.9 185.0,487.8 185.0,486.6 185.0,485.4 184.8,484.3 184.7,483.1 A1.53,1.53 0 0 0 181.6,483.2 Z"/><path d="M195.6,508.0 195.8,509.1 196.1,510.2 196.5,511.2 196.9,512.3 197.2,513.3 197.6,514.4 198.0,515.5 198.6,516.5 199.1,517.5 199.7,518.4 A0.96,0.96 0 0 0 201.5,517.8 L 201.4,516.7 201.2,515.5 201.0,514.4 200.6,513.3 200.3,512.3 199.9,511.2 199.5,510.2 199.1,509.1 198.7,508.1 198.2,507.0 A1.36,1.36 0 0 0 195.6,508.0 Z"/><path d="M198.6,510.0 199.7,509.7 200.7,509.4 201.7,509.0 202.6,508.7 203.5,508.4 204.3,508.4 205.3,508.2 206.4,508.0 207.5,507.8 A0.96,0.96 0 0 0 207.5,505.9 L 206.5,505.6 205.4,505.3 204.2,505.2 202.9,505.3 201.7,505.6 200.5,506.0 199.5,506.4 198.5,507.0 197.6,507.5 A1.36,1.36 0 0 0 198.6,510.0 Z"/><path d="M218.6,478.0 217.7,478.8 216.9,479.6 216.1,480.5 215.3,481.5 214.6,482.6 213.9,483.8 213.4,484.9 212.9,486.1 212.5,487.3 212.1,488.5 211.8,489.7 211.5,490.9 211.4,492.2 211.2,493.4 211.1,494.6 211.1,495.9 211.1,497.2 211.2,498.5 211.4,499.8 211.8,501.1 212.3,502.5 213.1,503.7 214.0,504.7 215.0,505.6 215.9,506.4 216.9,507.1 217.9,507.7 218.9,508.3 219.9,508.9 A1.08,1.08 0 0 0 221.4,507.3 L 220.6,506.4 219.8,505.4 219.1,504.5 218.2,503.7 217.4,503.0 216.7,502.3 216.0,501.5 215.5,500.8 215.2,499.9 214.9,499.0 214.8,498.0 214.7,497.0 214.7,495.9 214.7,494.9 214.8,493.7 214.9,492.6 215.1,491.6 215.3,490.5 215.6,489.5 215.9,488.4 216.3,487.4 216.7,486.4 217.1,485.4 217.6,484.5 218.2,483.7 218.9,482.8 219.6,482.0 220.3,481.0 220.9,480.0 A1.53,1.53 0 0 0 218.6,478.0 Z"/><path d="M225.4,491.6 225.5,492.7 225.7,493.8 226.0,494.8 226.2,495.9 226.5,496.9 226.8,498.0 227.3,499.0 227.8,499.9 228.3,500.9 A1.08,1.08 0 0 0 230.4,500.3 L 230.4,499.2 230.4,498.1 230.3,497.0 230.0,496.0 229.7,495.0 229.4,493.9 229.2,492.9 228.8,491.9 228.4,490.9 A1.53,1.53 0 0 0 225.4,491.6 Z"/><path d="M228.1,493.9 229.3,493.6 230.4,493.2 231.5,492.7 232.5,492.2 233.4,491.9 234.4,491.7 235.4,491.6 236.5,491.6 237.6,491.6 238.8,491.4 240.0,491.3 241.2,491.1 A1.08,1.08 0 0 0 241.3,488.9 L 240.1,488.7 239.0,488.4 237.8,488.1 236.5,488.0 235.2,488.0 233.9,488.2 232.5,488.4 231.2,488.9 230.0,489.4 228.9,489.9 227.9,490.5 226.9,491.1 A1.53,1.53 0 0 0 228.1,493.9 Z"/><path d="M244.4,478.5 245.1,479.5 245.8,480.5 246.6,481.4 247.3,482.2 247.9,483.1 248.4,483.9 248.9,484.9 249.3,485.9 249.7,486.9 250.0,488.0 250.3,489.0 250.5,490.1 250.7,491.2 250.8,492.3 250.9,493.4 250.9,494.5 250.8,495.6 250.7,496.6 250.5,497.6 250.3,498.5 249.9,499.4 249.4,500.2 248.7,501.0 248.0,501.8 247.4,502.8 246.7,503.9 246.1,504.9 A1.08,1.08 0 0 0 247.7,506.3 L 248.6,505.6 249.5,504.9 250.5,504.2 251.4,503.3 252.3,502.3 253.0,501.1 253.6,499.8 254.0,498.4 254.3,497.1 254.4,495.8 254.5,494.5 254.5,493.2 254.4,492.0 254.2,490.7 254.0,489.5 253.8,488.2 253.5,487.0 253.1,485.8 252.6,484.6 252.1,483.4 251.6,482.2 250.9,481.1 250.1,480.0 249.3,479.0 248.5,478.1 247.7,477.3 246.8,476.5 A1.53,1.53 0 0 0 244.4,478.5 Z"/></g>
<g fill="#bfc4bc" stroke="none"><path d="M1239.7,251.8 1240.3,252.8 1240.9,253.8 1241.6,254.8 1242.2,255.8 1242.8,256.8 1243.5,257.8 1244.1,258.8 1244.7,259.8 1245.4,260.8 1246.0,261.8 1246.7,262.8 1247.3,263.8 1248.0,264.8 1248.7,265.7 1249.4,266.7 1250.1,267.7 1250.8,268.6 1251.4,269.6 1252.1,270.6 1252.8,271.5 1253.5,272.5 1254.3,273.4 1255.0,274.4 1255.8,275.3 1256.7,276.2 1257.6,277.0 1258.5,277.8 1259.5,278.6 1260.4,279.3 1261.5,279.9 1262.5,280.6 1263.5,281.2 1264.5,281.8 1265.6,282.3 1266.6,282.8 1267.7,283.4 1268.7,283.9 A0.48,0.48 0 0 0 1269.3,283.1 L 1268.3,282.4 1267.3,281.7 1266.3,281.0 1265.3,280.4 1264.3,279.8 1263.3,279.2 1262.3,278.6 1261.3,278.0 1260.4,277.3 1259.5,276.6 1258.6,275.8 1257.8,275.0 1257.0,274.2 1256.3,273.3 1255.5,272.4 1254.8,271.5 1254.1,270.6 1253.4,269.6 1252.7,268.7 1252.1,267.7 1251.4,266.7 1250.7,265.8 1250.0,264.8 1249.3,263.9 1248.7,262.9 1248.0,261.9 1247.4,260.9 1246.7,259.9 1246.1,258.9 1245.5,257.9 1244.8,256.9 1244.2,255.9 1243.5,254.9 1242.9,253.9 1242.3,252.9 1241.6,252.0 1240.9,251.0 A0.68,0.68 0 0 0 1239.7,251.8 Z"/></g>
</svg></body></html>
